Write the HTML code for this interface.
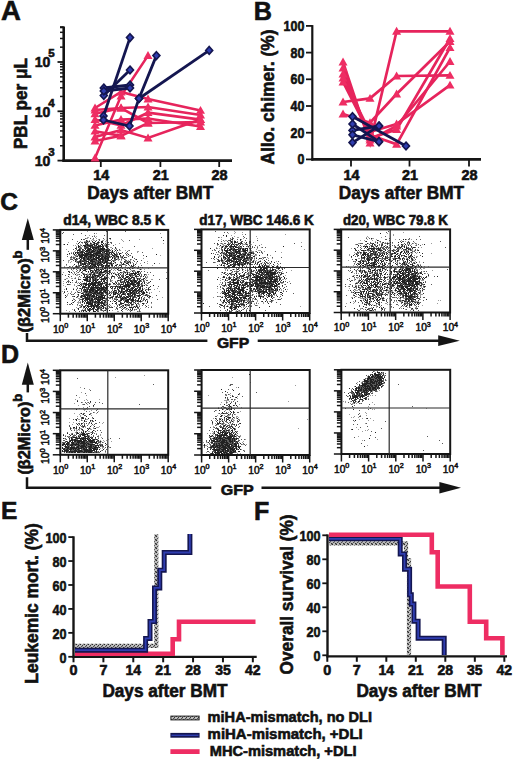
<!DOCTYPE html>
<html><head><meta charset="utf-8"><style>
html,body{margin:0;padding:0;background:#fff;}
svg{display:block;font-family:'Liberation Sans',sans-serif;}
</style></head><body>
<svg width="520" height="763" viewBox="0 0 520 763">
<rect width="520" height="763" fill="#fff"/>
<defs><filter id="bl" x="-5%" y="-5%" width="110%" height="110%"><feGaussianBlur stdDeviation="0.45"/></filter></defs>
<text x="1" y="20.4" font-size="27.5" font-weight="bold" text-anchor="start" fill="#111" stroke="#111" stroke-width="0.6" >A</text>
<text x="253.8" y="20" font-size="25.2" font-weight="bold" text-anchor="start" fill="#111" stroke="#111" stroke-width="0.6" >B</text>
<text x="0.3" y="210.3" font-size="24.5" font-weight="bold" text-anchor="start" fill="#111" stroke="#111" stroke-width="0.6" >C</text>
<text x="1" y="363" font-size="25" font-weight="bold" text-anchor="start" fill="#111" stroke="#111" stroke-width="0.6" >D</text>
<text x="1" y="519" font-size="24.5" font-weight="bold" text-anchor="start" fill="#111" stroke="#111" stroke-width="0.6" >E</text>
<text x="254" y="520" font-size="25" font-weight="bold" text-anchor="start" fill="#111" stroke="#111" stroke-width="0.6" >F</text>
<line x1="63.70" y1="26.50" x2="63.70" y2="161.80" stroke="#151515" stroke-width="2.6" />
<line x1="62.40" y1="160.60" x2="232.00" y2="160.60" stroke="#151515" stroke-width="2.6" />
<line x1="57.50" y1="160.60" x2="63.70" y2="160.60" stroke="#151515" stroke-width="1.8" />
<line x1="60.00" y1="145.76" x2="63.70" y2="145.76" stroke="#151515" stroke-width="1.5" />
<line x1="60.00" y1="137.08" x2="63.70" y2="137.08" stroke="#151515" stroke-width="1.5" />
<line x1="60.00" y1="130.92" x2="63.70" y2="130.92" stroke="#151515" stroke-width="1.5" />
<line x1="60.00" y1="126.14" x2="63.70" y2="126.14" stroke="#151515" stroke-width="1.5" />
<line x1="60.00" y1="122.24" x2="63.70" y2="122.24" stroke="#151515" stroke-width="1.5" />
<line x1="60.00" y1="118.94" x2="63.70" y2="118.94" stroke="#151515" stroke-width="1.5" />
<line x1="60.00" y1="116.08" x2="63.70" y2="116.08" stroke="#151515" stroke-width="1.5" />
<line x1="60.00" y1="113.56" x2="63.70" y2="113.56" stroke="#151515" stroke-width="1.5" />
<line x1="57.50" y1="111.30" x2="63.70" y2="111.30" stroke="#151515" stroke-width="1.8" />
<line x1="60.00" y1="96.46" x2="63.70" y2="96.46" stroke="#151515" stroke-width="1.5" />
<line x1="60.00" y1="87.78" x2="63.70" y2="87.78" stroke="#151515" stroke-width="1.5" />
<line x1="60.00" y1="81.62" x2="63.70" y2="81.62" stroke="#151515" stroke-width="1.5" />
<line x1="60.00" y1="76.84" x2="63.70" y2="76.84" stroke="#151515" stroke-width="1.5" />
<line x1="60.00" y1="72.94" x2="63.70" y2="72.94" stroke="#151515" stroke-width="1.5" />
<line x1="60.00" y1="69.64" x2="63.70" y2="69.64" stroke="#151515" stroke-width="1.5" />
<line x1="60.00" y1="66.78" x2="63.70" y2="66.78" stroke="#151515" stroke-width="1.5" />
<line x1="60.00" y1="64.26" x2="63.70" y2="64.26" stroke="#151515" stroke-width="1.5" />
<line x1="57.50" y1="62.00" x2="63.70" y2="62.00" stroke="#151515" stroke-width="1.8" />
<line x1="60.00" y1="47.16" x2="63.70" y2="47.16" stroke="#151515" stroke-width="1.5" />
<line x1="60.00" y1="38.48" x2="63.70" y2="38.48" stroke="#151515" stroke-width="1.5" />
<line x1="60.00" y1="32.32" x2="63.70" y2="32.32" stroke="#151515" stroke-width="1.5" />
<line x1="60.00" y1="27.54" x2="63.70" y2="27.54" stroke="#151515" stroke-width="1.5" />
<line x1="60.00" y1="26.90" x2="63.70" y2="26.90" stroke="#151515" stroke-width="1.5" />
<line x1="100.80" y1="160.60" x2="100.80" y2="167.00" stroke="#151515" stroke-width="1.8" />
<text x="101.2" y="179.6" font-size="13.8" font-weight="bold" text-anchor="middle" fill="#111" stroke="#111" stroke-width="0.6" textLength="16" lengthAdjust="spacingAndGlyphs" >14</text>
<line x1="160.40" y1="160.60" x2="160.40" y2="167.00" stroke="#151515" stroke-width="1.8" />
<text x="160.8" y="179.6" font-size="13.8" font-weight="bold" text-anchor="middle" fill="#111" stroke="#111" stroke-width="0.6" textLength="16" lengthAdjust="spacingAndGlyphs" >21</text>
<line x1="219.20" y1="160.60" x2="219.20" y2="167.00" stroke="#151515" stroke-width="1.8" />
<text x="219.6" y="179.6" font-size="13.8" font-weight="bold" text-anchor="middle" fill="#111" stroke="#111" stroke-width="0.6" textLength="16" lengthAdjust="spacingAndGlyphs" >28</text>
<text x="50.4" y="67.4" font-size="15.2" font-weight="bold" text-anchor="end" fill="#111" stroke="#111" stroke-width="0.6" textLength="15.6" lengthAdjust="spacingAndGlyphs" >10</text>
<text x="48.3" y="57" font-size="11.5" font-weight="bold" text-anchor="start" fill="#111" stroke="#111" stroke-width="0.6" >5</text>
<text x="50.4" y="116.9" font-size="15.2" font-weight="bold" text-anchor="end" fill="#111" stroke="#111" stroke-width="0.6" textLength="15.6" lengthAdjust="spacingAndGlyphs" >10</text>
<text x="48.3" y="106.5" font-size="11.5" font-weight="bold" text-anchor="start" fill="#111" stroke="#111" stroke-width="0.6" >4</text>
<text x="50.4" y="166.0" font-size="15.2" font-weight="bold" text-anchor="end" fill="#111" stroke="#111" stroke-width="0.6" textLength="15.6" lengthAdjust="spacingAndGlyphs" >10</text>
<text x="48.3" y="155.6" font-size="11.5" font-weight="bold" text-anchor="start" fill="#111" stroke="#111" stroke-width="0.6" >3</text>
<text transform="translate(26.6,103.6) rotate(-90)" font-size="17.5" font-weight="bold" text-anchor="middle" fill="#111" stroke="#111" stroke-width="0.6" textLength="91" lengthAdjust="spacingAndGlyphs" >PBL per μL</text>
<text x="150.3" y="199" font-size="18" font-weight="bold" text-anchor="middle" fill="#111" stroke="#111" stroke-width="0.6" textLength="126" lengthAdjust="spacingAndGlyphs" >Days after BMT</text>
<polyline points="95.0,158.0 121.0,96.0 148.0,55.6" fill="none" stroke="#e6245c" stroke-width="2.6" stroke-linejoin="miter" />
<polyline points="95.0,108.0 121.0,92.0 148.0,99.0 200.5,110.4" fill="none" stroke="#e6245c" stroke-width="2.6" stroke-linejoin="miter" />
<polyline points="95.0,113.8 121.0,108.0 148.0,107.0 200.5,115.0" fill="none" stroke="#e6245c" stroke-width="2.6" stroke-linejoin="miter" />
<polyline points="95.0,119.6 121.0,125.4 148.0,112.7 200.5,119.6" fill="none" stroke="#e6245c" stroke-width="2.6" stroke-linejoin="miter" />
<polyline points="95.0,125.4 121.0,119.6 148.0,118.5 200.5,126.5" fill="none" stroke="#e6245c" stroke-width="2.6" stroke-linejoin="miter" />
<polyline points="95.0,131.2 121.0,135.8 148.0,123.0 200.5,122.0" fill="none" stroke="#e6245c" stroke-width="2.6" stroke-linejoin="miter" />
<polyline points="95.0,137.0 121.0,130.0 148.0,138.0 200.5,119.6" fill="none" stroke="#e6245c" stroke-width="2.6" stroke-linejoin="miter" />
<polyline points="95.0,141.0 121.0,135.8" fill="none" stroke="#e6245c" stroke-width="2.6" stroke-linejoin="miter" />
<polyline points="95.0,110.0 121.0,108.0 148.0,123.0" fill="none" stroke="#e6245c" stroke-width="2.6" stroke-linejoin="miter" />
<path d="M95.0 153.5L99.5 161.4L90.5 161.4Z" fill="#ee2d63"/>
<path d="M121.0 91.5L125.5 99.4L116.5 99.4Z" fill="#ee2d63"/>
<path d="M148.0 51.1L152.5 59.0L143.5 59.0Z" fill="#ee2d63"/>
<path d="M95.0 103.5L99.5 111.4L90.5 111.4Z" fill="#ee2d63"/>
<path d="M121.0 87.5L125.5 95.4L116.5 95.4Z" fill="#ee2d63"/>
<path d="M148.0 94.5L152.5 102.4L143.5 102.4Z" fill="#ee2d63"/>
<path d="M200.5 105.9L205.0 113.8L196.0 113.8Z" fill="#ee2d63"/>
<path d="M95.0 109.3L99.5 117.2L90.5 117.2Z" fill="#ee2d63"/>
<path d="M121.0 103.5L125.5 111.4L116.5 111.4Z" fill="#ee2d63"/>
<path d="M148.0 102.5L152.5 110.4L143.5 110.4Z" fill="#ee2d63"/>
<path d="M200.5 110.5L205.0 118.4L196.0 118.4Z" fill="#ee2d63"/>
<path d="M95.0 115.1L99.5 123.0L90.5 123.0Z" fill="#ee2d63"/>
<path d="M121.0 120.9L125.5 128.8L116.5 128.8Z" fill="#ee2d63"/>
<path d="M148.0 108.2L152.5 116.1L143.5 116.1Z" fill="#ee2d63"/>
<path d="M200.5 115.1L205.0 123.0L196.0 123.0Z" fill="#ee2d63"/>
<path d="M95.0 120.9L99.5 128.8L90.5 128.8Z" fill="#ee2d63"/>
<path d="M121.0 115.1L125.5 123.0L116.5 123.0Z" fill="#ee2d63"/>
<path d="M148.0 114.0L152.5 121.9L143.5 121.9Z" fill="#ee2d63"/>
<path d="M200.5 122.0L205.0 129.9L196.0 129.9Z" fill="#ee2d63"/>
<path d="M95.0 126.7L99.5 134.6L90.5 134.6Z" fill="#ee2d63"/>
<path d="M121.0 131.3L125.5 139.2L116.5 139.2Z" fill="#ee2d63"/>
<path d="M148.0 118.5L152.5 126.4L143.5 126.4Z" fill="#ee2d63"/>
<path d="M200.5 117.5L205.0 125.4L196.0 125.4Z" fill="#ee2d63"/>
<path d="M95.0 132.5L99.5 140.4L90.5 140.4Z" fill="#ee2d63"/>
<path d="M121.0 125.5L125.5 133.4L116.5 133.4Z" fill="#ee2d63"/>
<path d="M148.0 133.5L152.5 141.4L143.5 141.4Z" fill="#ee2d63"/>
<path d="M200.5 115.1L205.0 123.0L196.0 123.0Z" fill="#ee2d63"/>
<path d="M95.0 136.5L99.5 144.4L90.5 144.4Z" fill="#ee2d63"/>
<path d="M121.0 131.3L125.5 139.2L116.5 139.2Z" fill="#ee2d63"/>
<path d="M95.0 105.5L99.5 113.4L90.5 113.4Z" fill="#ee2d63"/>
<path d="M121.0 103.5L125.5 111.4L116.5 111.4Z" fill="#ee2d63"/>
<path d="M148.0 118.5L152.5 126.4L143.5 126.4Z" fill="#ee2d63"/>
<polyline points="103.5,116.0 130.0,37.6" fill="none" stroke="#141650" stroke-width="2.8" stroke-linejoin="miter" />
<polyline points="103.5,120.0 129.5,126.0 139.0,98.5 156.4,55.6" fill="none" stroke="#141650" stroke-width="2.8" stroke-linejoin="miter" />
<polyline points="103.8,88.0 130.0,85.0" fill="none" stroke="#141650" stroke-width="2.8" stroke-linejoin="miter" />
<polyline points="103.8,95.5 130.0,70.0" fill="none" stroke="#141650" stroke-width="2.8" stroke-linejoin="miter" />
<polyline points="103.8,91.0 130.0,88.0" fill="none" stroke="#141650" stroke-width="2.8" stroke-linejoin="miter" />
<polyline points="139.0,98.5 209.2,50.4" fill="none" stroke="#141650" stroke-width="2.8" stroke-linejoin="miter" />
<path d="M103.5 112.1L107.0 116.0L103.5 119.9L100.0 116.0Z" fill="#2f3db0" stroke="#141650" stroke-width="1.6" stroke-linejoin="miter"/>
<path d="M130.0 33.7L133.5 37.6L130.0 41.5L126.5 37.6Z" fill="#2f3db0" stroke="#141650" stroke-width="1.6" stroke-linejoin="miter"/>
<path d="M103.5 116.1L107.0 120.0L103.5 123.9L100.0 120.0Z" fill="#2f3db0" stroke="#141650" stroke-width="1.6" stroke-linejoin="miter"/>
<path d="M129.5 122.1L133.0 126.0L129.5 129.9L126.0 126.0Z" fill="#2f3db0" stroke="#141650" stroke-width="1.6" stroke-linejoin="miter"/>
<path d="M139.0 94.6L142.5 98.5L139.0 102.4L135.5 98.5Z" fill="#2f3db0" stroke="#141650" stroke-width="1.6" stroke-linejoin="miter"/>
<path d="M156.4 51.7L159.9 55.6L156.4 59.5L152.9 55.6Z" fill="#2f3db0" stroke="#141650" stroke-width="1.6" stroke-linejoin="miter"/>
<path d="M103.8 84.1L107.3 88.0L103.8 91.9L100.3 88.0Z" fill="#2f3db0" stroke="#141650" stroke-width="1.6" stroke-linejoin="miter"/>
<path d="M130.0 81.1L133.5 85.0L130.0 88.9L126.5 85.0Z" fill="#2f3db0" stroke="#141650" stroke-width="1.6" stroke-linejoin="miter"/>
<path d="M103.8 91.6L107.3 95.5L103.8 99.4L100.3 95.5Z" fill="#2f3db0" stroke="#141650" stroke-width="1.6" stroke-linejoin="miter"/>
<path d="M130.0 66.1L133.5 70.0L130.0 73.9L126.5 70.0Z" fill="#2f3db0" stroke="#141650" stroke-width="1.6" stroke-linejoin="miter"/>
<path d="M103.8 87.1L107.3 91.0L103.8 94.9L100.3 91.0Z" fill="#2f3db0" stroke="#141650" stroke-width="1.6" stroke-linejoin="miter"/>
<path d="M130.0 84.1L133.5 88.0L130.0 91.9L126.5 88.0Z" fill="#2f3db0" stroke="#141650" stroke-width="1.6" stroke-linejoin="miter"/>
<path d="M139.0 94.6L142.5 98.5L139.0 102.4L135.5 98.5Z" fill="#2f3db0" stroke="#141650" stroke-width="1.6" stroke-linejoin="miter"/>
<path d="M209.2 46.5L212.7 50.4L209.2 54.3L205.7 50.4Z" fill="#2f3db0" stroke="#141650" stroke-width="1.6" stroke-linejoin="miter"/>
<line x1="312.30" y1="25.10" x2="312.30" y2="160.60" stroke="#151515" stroke-width="2.2" />
<line x1="311.30" y1="159.40" x2="481.00" y2="159.40" stroke="#151515" stroke-width="2.6" />
<line x1="306.00" y1="159.40" x2="312.30" y2="159.40" stroke="#151515" stroke-width="1.8" />
<text x="304.3" y="164.4" font-size="14" font-weight="bold" text-anchor="end" fill="#111" stroke="#111" stroke-width="0.6" textLength="6.9" lengthAdjust="spacingAndGlyphs" >0</text>
<line x1="306.00" y1="132.70" x2="312.30" y2="132.70" stroke="#151515" stroke-width="1.8" />
<text x="304.3" y="137.70000000000002" font-size="14" font-weight="bold" text-anchor="end" fill="#111" stroke="#111" stroke-width="0.6" textLength="13.8" lengthAdjust="spacingAndGlyphs" >20</text>
<line x1="306.00" y1="106.00" x2="312.30" y2="106.00" stroke="#151515" stroke-width="1.8" />
<text x="304.3" y="111.0" font-size="14" font-weight="bold" text-anchor="end" fill="#111" stroke="#111" stroke-width="0.6" textLength="13.8" lengthAdjust="spacingAndGlyphs" >40</text>
<line x1="306.00" y1="79.30" x2="312.30" y2="79.30" stroke="#151515" stroke-width="1.8" />
<text x="304.3" y="84.30000000000001" font-size="14" font-weight="bold" text-anchor="end" fill="#111" stroke="#111" stroke-width="0.6" textLength="13.8" lengthAdjust="spacingAndGlyphs" >60</text>
<line x1="306.00" y1="52.60" x2="312.30" y2="52.60" stroke="#151515" stroke-width="1.8" />
<text x="304.3" y="57.60000000000001" font-size="14" font-weight="bold" text-anchor="end" fill="#111" stroke="#111" stroke-width="0.6" textLength="13.8" lengthAdjust="spacingAndGlyphs" >80</text>
<line x1="306.00" y1="25.90" x2="312.30" y2="25.90" stroke="#151515" stroke-width="1.8" />
<text x="304.3" y="30.900000000000006" font-size="14" font-weight="bold" text-anchor="end" fill="#111" stroke="#111" stroke-width="0.6" textLength="20.700000000000003" lengthAdjust="spacingAndGlyphs" >100</text>
<line x1="351.00" y1="159.40" x2="351.00" y2="166.50" stroke="#151515" stroke-width="1.8" />
<text x="351.4" y="180.2" font-size="13.8" font-weight="bold" text-anchor="middle" fill="#111" stroke="#111" stroke-width="0.6" textLength="16" lengthAdjust="spacingAndGlyphs" >14</text>
<line x1="409.50" y1="159.40" x2="409.50" y2="166.50" stroke="#151515" stroke-width="1.8" />
<text x="409.9" y="180.2" font-size="13.8" font-weight="bold" text-anchor="middle" fill="#111" stroke="#111" stroke-width="0.6" textLength="16" lengthAdjust="spacingAndGlyphs" >21</text>
<line x1="469.00" y1="159.40" x2="469.00" y2="166.50" stroke="#151515" stroke-width="1.8" />
<text x="469.4" y="180.2" font-size="13.8" font-weight="bold" text-anchor="middle" fill="#111" stroke="#111" stroke-width="0.6" textLength="16" lengthAdjust="spacingAndGlyphs" >28</text>
<text transform="translate(274,97) rotate(-90)" font-size="17.5" font-weight="bold" text-anchor="middle" fill="#111" stroke="#111" stroke-width="0.6" textLength="135" lengthAdjust="spacingAndGlyphs" >Allo. chimer. (%)</text>
<text x="401.4" y="198.6" font-size="18" font-weight="bold" text-anchor="middle" fill="#111" stroke="#111" stroke-width="0.6" textLength="125.4" lengthAdjust="spacingAndGlyphs" >Days after BMT</text>
<polyline points="343.0,62.0 370.0,143.0 396.6,31.3 450.0,31.3" fill="none" stroke="#e6245c" stroke-width="2.7" stroke-linejoin="miter" />
<polyline points="343.0,74.0 370.0,138.0 396.6,129.6 450.0,38.5" fill="none" stroke="#e6245c" stroke-width="2.7" stroke-linejoin="miter" />
<polyline points="343.0,82.0 370.0,135.0 396.6,144.3 450.0,47.7" fill="none" stroke="#e6245c" stroke-width="2.7" stroke-linejoin="miter" />
<polyline points="343.0,102.0 370.0,98.4 396.6,76.0 450.0,75.4" fill="none" stroke="#e6245c" stroke-width="2.7" stroke-linejoin="miter" />
<polyline points="343.0,114.0 370.0,122.7 396.6,94.0 450.0,41.5" fill="none" stroke="#e6245c" stroke-width="2.7" stroke-linejoin="miter" />
<polyline points="343.0,68.0 370.0,140.0 396.6,126.0 450.0,61.5" fill="none" stroke="#e6245c" stroke-width="2.7" stroke-linejoin="miter" />
<polyline points="343.0,78.0 370.0,132.0 396.6,124.0 450.0,85.2" fill="none" stroke="#e6245c" stroke-width="2.7" stroke-linejoin="miter" />
<path d="M343.0 57.5L347.5 65.4L338.5 65.4Z" fill="#ee2d63"/>
<path d="M370.0 138.5L374.5 146.4L365.5 146.4Z" fill="#ee2d63"/>
<path d="M396.6 26.8L401.1 34.7L392.1 34.7Z" fill="#ee2d63"/>
<path d="M450.0 26.8L454.5 34.7L445.5 34.7Z" fill="#ee2d63"/>
<path d="M343.0 69.5L347.5 77.4L338.5 77.4Z" fill="#ee2d63"/>
<path d="M370.0 133.5L374.5 141.4L365.5 141.4Z" fill="#ee2d63"/>
<path d="M396.6 125.1L401.1 133.0L392.1 133.0Z" fill="#ee2d63"/>
<path d="M450.0 34.0L454.5 41.9L445.5 41.9Z" fill="#ee2d63"/>
<path d="M343.0 77.5L347.5 85.4L338.5 85.4Z" fill="#ee2d63"/>
<path d="M370.0 130.5L374.5 138.4L365.5 138.4Z" fill="#ee2d63"/>
<path d="M396.6 139.8L401.1 147.7L392.1 147.7Z" fill="#ee2d63"/>
<path d="M450.0 43.2L454.5 51.1L445.5 51.1Z" fill="#ee2d63"/>
<path d="M343.0 97.5L347.5 105.4L338.5 105.4Z" fill="#ee2d63"/>
<path d="M370.0 93.9L374.5 101.8L365.5 101.8Z" fill="#ee2d63"/>
<path d="M396.6 71.5L401.1 79.4L392.1 79.4Z" fill="#ee2d63"/>
<path d="M450.0 70.9L454.5 78.8L445.5 78.8Z" fill="#ee2d63"/>
<path d="M343.0 109.5L347.5 117.4L338.5 117.4Z" fill="#ee2d63"/>
<path d="M370.0 118.2L374.5 126.1L365.5 126.1Z" fill="#ee2d63"/>
<path d="M396.6 89.5L401.1 97.4L392.1 97.4Z" fill="#ee2d63"/>
<path d="M450.0 37.0L454.5 44.9L445.5 44.9Z" fill="#ee2d63"/>
<path d="M343.0 63.5L347.5 71.4L338.5 71.4Z" fill="#ee2d63"/>
<path d="M370.0 135.5L374.5 143.4L365.5 143.4Z" fill="#ee2d63"/>
<path d="M396.6 121.5L401.1 129.4L392.1 129.4Z" fill="#ee2d63"/>
<path d="M450.0 57.0L454.5 64.9L445.5 64.9Z" fill="#ee2d63"/>
<path d="M343.0 73.5L347.5 81.4L338.5 81.4Z" fill="#ee2d63"/>
<path d="M370.0 127.5L374.5 135.4L365.5 135.4Z" fill="#ee2d63"/>
<path d="M396.6 119.5L401.1 127.4L392.1 127.4Z" fill="#ee2d63"/>
<path d="M450.0 80.7L454.5 88.6L445.5 88.6Z" fill="#ee2d63"/>
<polyline points="352.5,116.6 406.0,146.0" fill="none" stroke="#141650" stroke-width="2.8" stroke-linejoin="miter" />
<polyline points="352.5,130.4 379.0,126.0" fill="none" stroke="#141650" stroke-width="2.8" stroke-linejoin="miter" />
<polyline points="352.5,142.6 379.0,126.0" fill="none" stroke="#141650" stroke-width="2.8" stroke-linejoin="miter" />
<polyline points="352.5,134.8 379.0,141.7" fill="none" stroke="#141650" stroke-width="2.8" stroke-linejoin="miter" />
<polyline points="352.5,124.0 379.0,141.7" fill="none" stroke="#141650" stroke-width="2.8" stroke-linejoin="miter" />
<path d="M352.5 112.7L356.0 116.6L352.5 120.5L349.0 116.6Z" fill="#2f3db0" stroke="#141650" stroke-width="1.6" stroke-linejoin="miter"/>
<path d="M406.0 142.1L409.5 146.0L406.0 149.9L402.5 146.0Z" fill="#2f3db0" stroke="#141650" stroke-width="1.6" stroke-linejoin="miter"/>
<path d="M352.5 126.5L356.0 130.4L352.5 134.3L349.0 130.4Z" fill="#2f3db0" stroke="#141650" stroke-width="1.6" stroke-linejoin="miter"/>
<path d="M379.0 122.1L382.5 126.0L379.0 129.9L375.5 126.0Z" fill="#2f3db0" stroke="#141650" stroke-width="1.6" stroke-linejoin="miter"/>
<path d="M352.5 138.7L356.0 142.6L352.5 146.5L349.0 142.6Z" fill="#2f3db0" stroke="#141650" stroke-width="1.6" stroke-linejoin="miter"/>
<path d="M379.0 122.1L382.5 126.0L379.0 129.9L375.5 126.0Z" fill="#2f3db0" stroke="#141650" stroke-width="1.6" stroke-linejoin="miter"/>
<path d="M352.5 130.9L356.0 134.8L352.5 138.7L349.0 134.8Z" fill="#2f3db0" stroke="#141650" stroke-width="1.6" stroke-linejoin="miter"/>
<path d="M379.0 137.8L382.5 141.7L379.0 145.6L375.5 141.7Z" fill="#2f3db0" stroke="#141650" stroke-width="1.6" stroke-linejoin="miter"/>
<path d="M352.5 120.1L356.0 124.0L352.5 127.9L349.0 124.0Z" fill="#2f3db0" stroke="#141650" stroke-width="1.6" stroke-linejoin="miter"/>
<path d="M379.0 137.8L382.5 141.7L379.0 145.6L375.5 141.7Z" fill="#2f3db0" stroke="#141650" stroke-width="1.6" stroke-linejoin="miter"/>
<path d="M110 238h1m-30 1h1m4 1h1m76 0h1m-77 1h1m1 0h1m2 0h1m2 0h1m5 0h1m0 0h1m-24 1h1m4 0h1m1 0h1m6 0h1m0 0h1m2 0h1m0 0h1m2 0h1m0 0h1m-25 1h1m6 0h1m1 0h1m2 0h1m3 0h1m1 0h1m6 0h1m-40 1h1m2 0h1m18 0h1m0 0h1m5 0h1m0 0h1m1 0h1m0 0h1m3 0h1m0 0h1m3 0h1m-29 1h1m4 0h1m0 0h1m0 0h1m1 0h1m0 0h1m0 0h1m0 0h1m0 0h1m0 0h1m1 0h1m1 0h1m1 0h1m1 0h1m1 0h1m3 0h1m-29 1h1m0 0h1m4 0h1m0 0h1m3 0h1m0 0h1m1 0h1m4 0h1m0 0h1m0 0h1m0 0h1m0 0h1m1 0h1m2 0h1m-29 1h1m7 0h1m0 0h1m2 0h1m1 0h1m0 0h1m0 0h1m0 0h1m0 0h1m0 0h1m0 0h1m3 0h1m3 0h1m0 0h1m7 0h1m-41 1h1m9 0h1m2 0h1m0 0h1m0 0h1m1 0h1m0 0h1m1 0h1m0 0h1m1 0h1m1 0h1m0 0h1m0 0h1m0 0h1m0 0h1m-26 1h1m2 0h1m2 0h1m1 0h1m0 0h1m0 0h1m0 0h1m0 0h1m1 0h1m0 0h1m3 0h1m0 0h1m0 0h1m0 0h1m0 0h1m0 0h1m0 0h1m1 0h1m2 0h1m-33 1h1m0 0h1m0 0h1m4 0h1m1 0h1m0 0h1m0 0h1m0 0h1m2 0h1m0 0h1m1 0h1m1 0h1m1 0h1m0 0h1m1 0h1m0 0h1m2 0h1m0 0h1m0 0h1m3 0h1m2 0h1m1 0h1m-37 1h1m0 0h1m2 0h1m0 0h1m0 0h1m1 0h1m1 0h1m0 0h1m0 0h1m0 0h1m2 0h1m0 0h1m0 0h1m0 0h1m0 0h1m2 0h1m0 0h1m0 0h1m0 0h1m0 0h1m3 0h1m-38 1h1m1 0h1m0 0h1m1 0h1m0 0h1m0 0h1m1 0h1m3 0h1m0 0h1m0 0h1m0 0h1m0 0h1m3 0h1m0 0h1m0 0h1m0 0h1m0 0h1m1 0h1m1 0h1m1 0h1m2 0h1m0 0h1m1 0h1m-44 1h1m3 0h1m1 0h1m1 0h1m4 0h1m1 0h1m0 0h1m0 0h1m0 0h1m0 0h1m1 0h1m2 0h1m0 0h1m0 0h1m0 0h1m0 0h1m0 0h1m0 0h1m0 0h1m4 0h1m0 0h1m0 0h1m1 0h1m1 0h1m2 0h1m4 0h1m0 0h1m-54 1h1m6 0h1m3 0h1m0 0h1m1 0h1m0 0h1m0 0h1m1 0h1m0 0h1m0 0h1m0 0h1m0 0h1m0 0h1m0 0h1m0 0h1m0 0h1m1 0h1m0 0h1m0 0h1m3 0h1m0 0h1m3 0h1m0 0h1m0 0h1m5 0h1m0 0h1m3 0h1m8 0h1m27 0h1m-78 1h1m0 0h1m0 0h1m0 0h1m0 0h1m0 0h1m0 0h1m0 0h1m0 0h1m2 0h1m0 0h1m0 0h1m0 0h1m0 0h1m1 0h1m0 0h1m0 0h1m0 0h1m1 0h1m0 0h1m2 0h1m2 0h1m3 0h1m0 0h1m2 0h1m3 0h1m2 0h1m-47 1h1m1 0h1m0 0h1m0 0h1m0 0h1m1 0h1m0 0h1m0 0h1m1 0h1m0 0h1m0 0h1m0 0h1m1 0h1m0 0h1m1 0h1m1 0h1m0 0h1m0 0h1m1 0h1m0 0h1m1 0h1m0 0h1m0 0h1m1 0h1m1 0h1m2 0h1m1 0h1m0 0h1m0 0h1m27 0h1m-67 1h1m0 0h1m1 0h1m0 0h1m1 0h1m1 0h1m1 0h1m0 0h1m1 0h1m1 0h1m0 0h1m0 0h1m0 0h1m0 0h1m1 0h1m0 0h1m1 0h1m0 0h1m1 0h1m0 0h1m3 0h1m5 0h1m3 0h1m1 0h1m7 0h1m-57 1h1m2 0h1m1 0h1m1 0h1m0 0h1m2 0h1m0 0h1m1 0h1m2 0h1m0 0h1m1 0h1m0 0h1m0 0h1m1 0h1m0 0h1m0 0h1m1 0h1m0 0h1m0 0h1m0 0h1m0 0h1m3 0h1m1 0h1m-40 1h1m4 0h1m2 0h1m0 0h1m2 0h1m0 0h1m0 0h1m1 0h1m0 0h1m0 0h1m0 0h1m0 0h1m0 0h1m1 0h1m0 0h1m0 0h1m0 0h1m0 0h1m0 0h1m1 0h1m1 0h1m0 0h1m2 0h1m4 0h1m19 0h1m-57 1h1m3 0h1m0 0h1m4 0h1m0 0h1m0 0h1m3 0h1m2 0h1m0 0h1m1 0h1m0 0h1m1 0h1m1 0h1m0 0h1m0 0h1m-35 1h1m3 0h1m0 0h1m1 0h1m0 0h1m2 0h1m0 0h1m0 0h1m1 0h1m0 0h1m0 0h1m0 0h1m0 0h1m3 0h1m1 0h1m1 0h1m2 0h1m0 0h1m0 0h1m3 0h1m1 0h1m10 0h1m4 0h1m7 0h1m-60 1h1m1 0h1m3 0h1m3 0h1m0 0h1m2 0h1m2 0h1m2 0h1m0 0h1m0 0h1m1 0h1m1 0h1m0 0h1m0 0h1m8 0h1m12 0h1m1 0h1m-53 1h1m1 0h1m1 0h1m1 0h1m0 0h1m3 0h1m0 0h1m0 0h1m0 0h1m2 0h1m1 0h1m0 0h1m1 0h1m2 0h1m0 0h1m4 0h1m0 0h1m0 0h1m1 0h1m9 0h1m2 0h1m0 0h1m26 0h1m-81 1h1m7 0h1m0 0h1m0 0h1m0 0h1m3 0h1m1 0h1m0 0h1m0 0h1m0 0h1m0 0h1m1 0h1m1 0h1m1 0h1m0 0h1m3 0h1m4 0h1m5 0h1m4 0h1m0 0h1m4 0h1m6 0h1m-56 1h1m5 0h1m3 0h1m2 0h1m0 0h1m0 0h1m1 0h1m0 0h1m2 0h1m1 0h1m1 0h1m0 0h1m1 0h1m0 0h1m1 0h1m0 0h1m2 0h1m0 0h1m2 0h1m11 0h1m1 0h1m-58 1h1m5 0h1m0 0h1m1 0h1m3 0h1m0 0h1m1 0h1m1 0h1m0 0h1m0 0h1m1 0h1m3 0h1m0 0h1m1 0h1m2 0h1m12 0h1m10 0h1m-48 1h1m2 0h1m2 0h1m0 0h1m1 0h1m1 0h1m1 0h1m1 0h1m4 0h1m0 0h1m13 0h1m13 0h1m-62 1h1m7 0h1m1 0h1m0 0h1m3 0h1m0 0h1m0 0h1m0 0h1m4 0h1m5 0h1m1 0h1m0 0h1m3 0h1m8 0h1m10 0h1m2 0h1m-53 1h1m4 0h1m3 0h1m4 0h1m1 0h1m0 0h1m0 0h1m1 0h1m0 0h1m1 0h1m13 0h1m7 0h1m14 0h1m-61 1h1m2 0h1m0 0h1m0 0h1m4 0h1m0 0h1m3 0h1m0 0h1m2 0h1m1 0h1m3 0h1m0 0h1m2 0h1m10 0h1m5 0h1m-59 1h1m17 0h1m1 0h1m1 0h1m1 0h1m2 0h1m4 0h1m0 0h1m2 0h1m0 0h1m3 0h1m22 0h1m4 0h1m0 0h1m0 0h1m-71 1h1m1 0h1m9 0h1m9 0h1m0 0h1m4 0h1m1 0h1m0 0h1m0 0h1m0 0h1m0 0h1m3 0h1m1 0h1m10 0h1m4 0h1m1 0h1m7 0h1m1 0h1m0 0h1m-45 1h1m4 0h1m5 0h1m2 0h1m2 0h1m1 0h1m9 0h1m3 0h1m3 0h1m0 0h1m0 0h1m0 0h1m0 0h1m0 0h1m-62 1h1m7 0h1m2 0h1m2 0h1m0 0h1m2 0h1m0 0h1m4 0h1m0 0h1m3 0h1m10 0h1m2 0h1m1 0h1m5 0h1m0 0h1m1 0h1m4 0h1m0 0h1m1 0h1m0 0h1m5 0h1m-61 1h1m5 0h1m1 0h1m1 0h1m0 0h1m0 0h1m0 0h1m0 0h1m1 0h1m1 0h1m0 0h1m21 0h1m3 0h1m0 0h1m8 0h1m-72 1h1m15 0h1m1 0h1m0 0h1m1 0h1m2 0h1m0 0h1m1 0h1m1 0h1m0 0h1m2 0h1m10 0h1m0 0h1m9 0h1m2 0h1m0 0h1m0 0h1m1 0h1m4 0h1m0 0h1m6 0h1m-61 1h1m1 0h1m1 0h1m0 0h1m0 0h1m1 0h1m0 0h1m0 0h1m6 0h1m3 0h1m1 0h1m4 0h1m8 0h1m1 0h1m3 0h1m0 0h1m1 0h1m1 0h1m0 0h1m0 0h1m-48 1h1m0 0h1m2 0h1m1 0h1m2 0h1m7 0h1m0 0h1m0 0h1m0 0h1m17 0h1m0 0h1m2 0h1m1 0h1m3 0h1m2 0h1m6 0h1m-67 1h1m4 0h1m0 0h1m0 0h1m0 0h1m0 0h1m2 0h1m2 0h1m1 0h1m1 0h1m0 0h1m2 0h1m0 0h1m0 0h1m1 0h1m15 0h1m0 0h1m3 0h1m2 0h1m4 0h1m2 0h1m1 0h1m3 0h1m-72 1h1m11 0h1m0 0h1m0 0h1m0 0h1m1 0h1m3 0h1m0 0h1m0 0h1m1 0h1m3 0h1m2 0h1m13 0h1m1 0h1m3 0h1m3 0h1m1 0h1m0 0h1m1 0h1m0 0h1m0 0h1m4 0h1m-54 1h1m0 0h1m0 0h1m0 0h1m2 0h1m1 0h1m0 0h1m2 0h1m1 0h1m1 0h1m0 0h1m15 0h1m3 0h1m1 0h1m0 0h1m0 0h1m1 0h1m0 0h1m0 0h1m1 0h1m0 0h1m0 0h1m1 0h1m0 0h1m10 0h1m-81 1h1m20 0h1m0 0h1m1 0h1m0 0h1m0 0h1m0 0h1m0 0h1m0 0h1m2 0h1m2 0h1m0 0h1m14 0h1m3 0h1m1 0h1m0 0h1m0 0h1m1 0h1m0 0h1m1 0h1m0 0h1m1 0h1m0 0h1m0 0h1m4 0h1m-62 1h1m0 0h1m0 0h1m0 0h1m1 0h1m0 0h1m0 0h1m0 0h1m0 0h1m0 0h1m0 0h1m0 0h1m2 0h1m1 0h1m0 0h1m0 0h1m1 0h1m2 0h1m5 0h1m0 0h1m1 0h1m6 0h1m1 0h1m1 0h1m2 0h1m0 0h1m0 0h1m0 0h1m2 0h1m0 0h1m0 0h1m0 0h1m1 0h1m2 0h1m-78 1h1m12 0h1m4 0h1m0 0h1m0 0h1m0 0h1m1 0h1m0 0h1m0 0h1m0 0h1m0 0h1m0 0h1m2 0h1m0 0h1m0 0h1m0 0h1m4 0h1m2 0h1m11 0h1m0 0h1m2 0h1m0 0h1m0 0h1m0 0h1m1 0h1m0 0h1m0 0h1m0 0h1m0 0h1m0 0h1m2 0h1m-60 1h1m1 0h1m3 0h1m0 0h1m1 0h1m0 0h1m0 0h1m1 0h1m0 0h1m0 0h1m0 0h1m0 0h1m0 0h1m1 0h1m1 0h1m3 0h1m0 0h1m13 0h1m3 0h1m0 0h1m0 0h1m0 0h1m0 0h1m0 0h1m3 0h1m3 0h1m0 0h1m0 0h1m2 0h1m1 0h1m8 0h1m-71 1h1m0 0h1m3 0h1m0 0h1m1 0h1m1 0h1m1 0h1m4 0h1m0 0h1m1 0h1m2 0h1m0 0h1m3 0h1m3 0h1m0 0h1m0 0h1m1 0h1m0 0h1m1 0h1m0 0h1m0 0h1m0 0h1m0 0h1m0 0h1m0 0h1m0 0h1m3 0h1m1 0h1m0 0h1m1 0h1m3 0h1m7 0h1m-69 1h1m0 0h1m0 0h1m0 0h1m0 0h1m1 0h1m2 0h1m0 0h1m0 0h1m0 0h1m0 0h1m0 0h1m0 0h1m0 0h1m0 0h1m1 0h1m0 0h1m0 0h1m0 0h1m0 0h1m0 0h1m0 0h1m2 0h1m1 0h1m2 0h1m3 0h1m0 0h1m1 0h1m3 0h1m1 0h1m0 0h1m2 0h1m1 0h1m4 0h1m0 0h1m-75 1h1m13 0h1m1 0h1m5 0h1m1 0h1m0 0h1m0 0h1m0 0h1m2 0h1m0 0h1m1 0h1m0 0h1m0 0h1m0 0h1m0 0h1m1 0h1m0 0h1m0 0h1m3 0h1m2 0h1m2 0h1m1 0h1m1 0h1m0 0h1m0 0h1m0 0h1m6 0h1m0 0h1m0 0h1m1 0h1m1 0h1m1 0h1m0 0h1m1 0h1m5 0h1m-83 1h1m6 0h1m7 0h1m2 0h1m0 0h1m1 0h1m1 0h1m0 0h1m0 0h1m0 0h1m0 0h1m0 0h1m2 0h1m0 0h1m0 0h1m1 0h1m0 0h1m0 0h1m0 0h1m1 0h1m11 0h1m2 0h1m2 0h1m2 0h1m0 0h1m0 0h1m2 0h1m1 0h1m0 0h1m0 0h1m1 0h1m0 0h1m2 0h1m5 0h1m-66 1h1m1 0h1m1 0h1m1 0h1m0 0h1m0 0h1m0 0h1m0 0h1m1 0h1m0 0h1m0 0h1m0 0h1m1 0h1m0 0h1m2 0h1m0 0h1m8 0h1m0 0h1m2 0h1m2 0h1m3 0h1m0 0h1m0 0h1m1 0h1m0 0h1m0 0h1m1 0h1m0 0h1m0 0h1m1 0h1m0 0h1m2 0h1m0 0h1m2 0h1m-62 1h1m0 0h1m0 0h1m0 0h1m1 0h1m0 0h1m1 0h1m0 0h1m1 0h1m0 0h1m0 0h1m2 0h1m2 0h1m0 0h1m0 0h1m7 0h1m5 0h1m1 0h1m1 0h1m0 0h1m3 0h1m0 0h1m0 0h1m1 0h1m0 0h1m2 0h1m2 0h1m0 0h1m0 0h1m1 0h1m-80 1h1m13 0h1m7 0h1m2 0h1m0 0h1m0 0h1m2 0h1m0 0h1m0 0h1m0 0h1m1 0h1m0 0h1m0 0h1m0 0h1m2 0h1m0 0h1m0 0h1m5 0h1m1 0h1m0 0h1m1 0h1m1 0h1m0 0h1m1 0h1m2 0h1m3 0h1m0 0h1m0 0h1m1 0h1m1 0h1m1 0h1m4 0h1m0 0h1m1 0h1m-66 1h1m0 0h1m5 0h1m3 0h1m0 0h1m0 0h1m0 0h1m1 0h1m0 0h1m0 0h1m1 0h1m0 0h1m6 0h1m3 0h1m1 0h1m1 0h1m2 0h1m2 0h1m3 0h1m0 0h1m1 0h1m0 0h1m1 0h1m0 0h1m2 0h1m4 0h1m0 0h1m0 0h1m-67 1h1m4 0h1m1 0h1m0 0h1m0 0h1m0 0h1m1 0h1m0 0h1m1 0h1m2 0h1m3 0h1m0 0h1m5 0h1m5 0h1m0 0h1m0 0h1m2 0h1m3 0h1m0 0h1m0 0h1m2 0h1m0 0h1m1 0h1m1 0h1m1 0h1m0 0h1m5 0h1m4 0h1m-82 1h1m15 0h1m0 0h1m1 0h1m1 0h1m0 0h1m0 0h1m0 0h1m0 0h1m1 0h1m0 0h1m0 0h1m1 0h1m0 0h1m3 0h1m0 0h1m0 0h1m1 0h1m4 0h1m6 0h1m1 0h1m1 0h1m6 0h1m2 0h1m0 0h1m1 0h1m2 0h1m0 0h1m0 0h1m0 0h1m4 0h1m-72 1h1m2 0h1m3 0h1m1 0h1m0 0h1m0 0h1m1 0h1m1 0h1m1 0h1m0 0h1m0 0h1m0 0h1m1 0h1m1 0h1m0 0h1m0 0h1m0 0h1m0 0h1m1 0h1m8 0h1m2 0h1m0 0h1m2 0h1m0 0h1m4 0h1m0 0h1m1 0h1m0 0h1m3 0h1m3 0h1m8 0h1m1 0h1m0 0h1m-86 1h1m15 0h1m3 0h1m0 0h1m0 0h1m1 0h1m3 0h1m2 0h1m0 0h1m0 0h1m0 0h1m0 0h1m0 0h1m0 0h1m0 0h1m0 0h1m5 0h1m0 0h1m0 0h1m3 0h1m1 0h1m1 0h1m1 0h1m1 0h1m0 0h1m1 0h1m0 0h1m1 0h1m2 0h1m5 0h1m1 0h1m-59 1h1m1 0h1m0 0h1m0 0h1m0 0h1m0 0h1m1 0h1m0 0h1m1 0h1m0 0h1m0 0h1m1 0h1m1 0h1m1 0h1m0 0h1m0 0h1m16 0h1m0 0h1m0 0h1m1 0h1m0 0h1m2 0h1m0 0h1m1 0h1m5 0h1m0 0h1m-58 1h1m2 0h1m0 0h1m0 0h1m0 0h1m0 0h1m1 0h1m0 0h1m1 0h1m1 0h1m0 0h1m0 0h1m0 0h1m0 0h1m0 0h1m0 0h1m14 0h1m3 0h1m0 0h1m4 0h1m0 0h1m0 0h1m1 0h1m0 0h1m0 0h1m1 0h1m2 0h1m7 0h1m-75 1h1m9 0h1m1 0h1m2 0h1m1 0h1m0 0h1m0 0h1m0 0h1m4 0h1m0 0h1m0 0h1m0 0h1m2 0h1m0 0h1m15 0h1m0 0h1m3 0h1m0 0h1m0 0h1m0 0h1m2 0h1m0 0h1m0 0h1m3 0h1m0 0h1m1 0h1m4 0h1m-64 1h1m2 0h1m1 0h1m2 0h1m1 0h1m2 0h1m0 0h1m1 0h1m0 0h1m1 0h1m3 0h1m4 0h1m3 0h1m0 0h1m3 0h1m5 0h1m0 0h1m0 0h1m0 0h1m3 0h1m2 0h1m1 0h1m1 0h1m0 0h1m6 0h1m-81 1h1m5 0h1m8 0h1m3 0h1m0 0h1m0 0h1m0 0h1m0 0h1m1 0h1m1 0h1m0 0h1m1 0h1m0 0h1m0 0h1m0 0h1m0 0h1m0 0h1m1 0h1m11 0h1m3 0h1m3 0h1m2 0h1m1 0h1m1 0h1m15 0h1m-77 1h1m12 0h1m1 0h1m0 0h1m0 0h1m0 0h1m0 0h1m0 0h1m0 0h1m5 0h1m2 0h1m0 0h1m0 0h1m3 0h1m4 0h1m2 0h1m4 0h1m0 0h1m0 0h1m0 0h1m6 0h1m4 0h1m6 0h1m0 0h1m-56 1h1m0 0h1m0 0h1m0 0h1m0 0h1m1 0h1m0 0h1m1 0h1m0 0h1m0 0h1m3 0h1m0 0h1m14 0h1m5 0h1m5 0h1m0 0h1m3 0h1m-52 1h1m1 0h1m3 0h1m0 0h1m0 0h1m1 0h1m0 0h1m0 0h1m0 0h1m2 0h1m0 0h1m1 0h1m0 0h1m13 0h1m3 0h1m1 0h1m2 0h1m7 0h1m-56 1h1m1 0h1m0 0h1m2 0h1m0 0h1m0 0h1m0 0h1m0 0h1m1 0h1m0 0h1m1 0h1m0 0h1m1 0h1m2 0h1m0 0h1m17 0h1m12 0h1m1 0h1m9 0h1m-63 1h1m1 0h1m1 0h1m2 0h1m1 0h1m0 0h1m1 0h1m1 0h1m2 0h1m1 0h1m8 0h1m11 0h1m0 0h1m3 0h1m0 0h1m0 0h1m1 0h1m1 0h1m1 0h1m-60 1h1m6 0h1m1 0h1m1 0h1m0 0h1m1 0h1m0 0h1m3 0h1m0 0h1m4 0h1m1 0h1m26 0h1m-55 1h1m9 0h1m0 0h1m1 0h1m1 0h1m1 0h1m1 0h1m3 0h1m20 0h1m5 0h1m1 0h1m1 0h1m-59 1h1m8 0h1m1 0h1m2 0h1m0 0h1m3 0h1m2 0h1m8 0h1m3 0h1m11 0h1m9 0h1m-53 1h1m3 0h1m2 0h1m2 0h1m3 0h1m0 0h1m0 0h1" stroke="#222222" stroke-width="1" transform="translate(0,0.5)"/>
<path d="M106 231h1m18 0h1m-63 1h1m-2 1h1m18 0h1m12 0h1m-22 1h1m11 1h1m18 0h1m-13 1h1m1 0h1m66 1h1m-77 1h1m4 0h1m2 0h1m9 0h1m5 0h1m-38 1h1m10 0h1m0 0h1m14 0h1m-4 1h1m2 0h1m29 0h1m-53 1h1m8 0h1m11 0h1m-18 1h1m0 0h1m2 0h1m13 0h1m7 0h1m0 0h1m1 0h1m0 0h1m-21 1h1m3 0h1m1 0h1m0 0h1m6 0h1m5 0h1m-27 1h1m2 0h1m1 0h1m0 0h1m0 0h1m15 0h1m-28 1h1m4 0h1m8 0h1m3 0h1m5 0h1m7 0h1m-28 1h1m0 0h1m0 0h1m2 0h1m1 0h1m0 0h1m0 0h1m0 0h1m5 0h1m2 0h1m28 0h1m-59 1h1m3 0h1m3 0h1m0 0h1m2 0h1m2 0h1m7 0h1m0 0h1m2 0h1m-28 1h1m2 0h1m0 0h1m0 0h1m2 0h1m1 0h1m0 0h1m6 0h1m2 0h1m1 0h1m8 0h1m3 0h1m2 0h1m-43 1h1m2 0h1m1 0h1m1 0h1m2 0h1m11 0h1m0 0h1m0 0h1m7 0h1m2 0h1m7 0h1m2 0h1m-40 1h1m1 0h1m0 0h1m6 0h1m0 0h1m2 0h1m1 0h1m1 0h1m2 0h1m2 0h1m0 0h1m3 0h1m0 0h1m18 0h1m-62 1h1m8 0h1m1 0h1m0 0h1m2 0h1m4 0h1m1 0h1m4 0h1m0 0h1m5 0h1m0 0h1m10 0h1m12 0h1m-55 1h1m2 0h1m2 0h1m3 0h1m2 0h1m0 0h1m5 0h1m0 0h1m0 0h1m7 0h1m4 0h1m2 0h1m1 0h1m2 0h1m1 0h1m3 0h1m3 0h1m15 0h1m-72 1h1m6 0h1m0 0h1m0 0h1m0 0h1m7 0h1m1 0h1m9 0h1m0 0h1m0 0h1m0 0h1m3 0h1m4 0h1m2 0h1m8 0h1m1 0h1m3 0h1m-56 1h1m3 0h1m3 0h1m9 0h1m3 0h1m0 0h1m0 0h1m2 0h1m0 0h1m0 0h1m3 0h1m1 0h1m0 0h1m3 0h1m0 0h1m8 0h1m-52 1h1m2 0h1m9 0h1m0 0h1m5 0h1m4 0h1m2 0h1m0 0h1m1 0h1m2 0h1m4 0h1m0 0h1m14 0h1m12 0h1m-77 1h1m3 0h1m4 0h1m10 0h1m4 0h1m2 0h1m5 0h1m2 0h1m3 0h1m4 0h1m6 0h1m1 0h1m5 0h1m3 0h1m-63 1h1m0 0h1m1 0h1m0 0h1m4 0h1m2 0h1m2 0h1m1 0h1m1 0h1m2 0h1m10 0h1m2 0h1m2 0h1m0 0h1m3 0h1m0 0h1m5 0h1m3 0h1m0 0h1m-54 1h1m0 0h1m7 0h1m2 0h1m0 0h1m2 0h1m1 0h1m0 0h1m2 0h1m3 0h1m3 0h1m11 0h1m2 0h1m4 0h1m10 0h1m-65 1h1m0 0h1m0 0h1m3 0h1m0 0h1m3 0h1m3 0h1m0 0h1m3 0h1m13 0h1m1 0h1m7 0h1m0 0h1m3 0h1m1 0h1m2 0h1m5 0h1m-68 1h1m9 0h1m1 0h1m0 0h1m4 0h1m0 0h1m0 0h1m2 0h1m1 0h1m0 0h1m3 0h1m0 0h1m0 0h1m1 0h1m0 0h1m5 0h1m1 0h1m3 0h1m1 0h1m0 0h1m0 0h1m0 0h1m9 0h1m0 0h1m6 0h1m7 0h1m-65 1h1m0 0h1m2 0h1m2 0h1m0 0h1m9 0h1m0 0h1m0 0h1m1 0h1m1 0h1m1 0h1m0 0h1m20 0h1m1 0h1m6 0h1m-58 1h1m1 0h1m1 0h1m3 0h1m0 0h1m3 0h1m0 0h1m1 0h1m0 0h1m1 0h1m0 0h1m3 0h1m1 0h1m4 0h1m1 0h1m0 0h1m8 0h1m0 0h1m2 0h1m0 0h1m1 0h1m16 0h1m-64 1h1m1 0h1m2 0h1m0 0h1m0 0h1m4 0h1m0 0h1m1 0h1m2 0h1m1 0h1m4 0h1m0 0h1m0 0h1m12 0h1m8 0h1m2 0h1m-68 1h1m11 0h1m1 0h1m0 0h1m5 0h1m0 0h1m7 0h1m1 0h1m1 0h1m11 0h1m11 0h1m8 0h1m-58 1h1m1 0h1m0 0h1m1 0h1m1 0h1m1 0h1m1 0h1m0 0h1m2 0h1m0 0h1m6 0h1m0 0h1m1 0h1m17 0h1m0 0h1m4 0h1m2 0h1m11 0h1m-73 1h1m2 0h1m2 0h1m1 0h1m0 0h1m0 0h1m4 0h1m1 0h1m0 0h1m0 0h1m2 0h1m1 0h1m7 0h1m4 0h1m2 0h1m2 0h1m1 0h1m16 0h1m1 0h1m4 0h1m-71 1h1m7 0h1m0 0h1m8 0h1m2 0h1m0 0h1m2 0h1m3 0h1m4 0h1m6 0h1m0 0h1m17 0h1m1 0h1m7 0h1m1 0h1m1 0h1m-69 1h1m10 0h1m6 0h1m0 0h1m4 0h1m16 0h1m0 0h1m5 0h1m4 0h1m9 0h1m-67 1h1m4 0h1m5 0h1m1 0h1m1 0h1m3 0h1m11 0h1m8 0h1m8 0h1m9 0h1m-54 1h1m14 0h1m1 0h1m3 0h1m5 0h1m5 0h1m7 0h1m0 0h1m7 0h1m5 0h1m0 0h1m-66 1h1m6 0h1m2 0h1m2 0h1m10 0h1m2 0h1m0 0h1m0 0h1m4 0h1m2 0h1m1 0h1m14 0h1m0 0h1m16 0h1m2 0h1m-71 1h1m3 0h1m9 0h1m4 0h1m0 0h1m0 0h1m0 0h1m7 0h1m1 0h1m3 0h1m6 0h1m3 0h1m2 0h1m4 0h1m3 0h1m6 0h1m6 0h1m2 0h1m-69 1h1m0 0h1m6 0h1m0 0h1m1 0h1m2 0h1m0 0h1m0 0h1m1 0h1m0 0h1m16 0h1m0 0h1m10 0h1m7 0h1m1 0h1m-79 1h1m5 0h1m0 0h1m9 0h1m4 0h1m0 0h1m6 0h1m5 0h1m3 0h1m0 0h1m5 0h1m6 0h1m6 0h1m6 0h1m0 0h1m0 0h1m6 0h1m1 0h1m3 0h1m-81 1h1m15 0h1m5 0h1m11 0h1m6 0h1m5 0h1m3 0h1m1 0h1m0 0h1m1 0h1m0 0h1m0 0h1m7 0h1m0 0h1m0 0h1m1 0h1m0 0h1m4 0h1m2 0h1m8 0h1m-83 1h1m7 0h1m10 0h1m3 0h1m4 0h1m2 0h1m1 0h1m6 0h1m2 0h1m2 0h1m1 0h1m1 0h1m0 0h1m9 0h1m4 0h1m0 0h1m1 0h1m0 0h1m3 0h1m-62 1h1m1 0h1m3 0h1m3 0h1m0 0h1m0 0h1m0 0h1m1 0h1m1 0h1m3 0h1m8 0h1m3 0h1m0 0h1m3 0h1m1 0h1m8 0h1m1 0h1m8 0h1m-71 1h1m9 0h1m3 0h1m3 0h1m0 0h1m1 0h1m2 0h1m1 0h1m0 0h1m8 0h1m6 0h1m2 0h1m1 0h1m5 0h1m1 0h1m1 0h1m4 0h1m0 0h1m0 0h1m2 0h1m22 0h1m-102 1h1m13 0h1m0 0h1m8 0h1m2 0h1m1 0h1m1 0h1m3 0h1m3 0h1m5 0h1m9 0h1m3 0h1m0 0h1m1 0h1m2 0h1m2 0h1m7 0h1m0 0h1m16 0h1m-92 1h1m21 0h1m1 0h1m3 0h1m6 0h1m2 0h1m3 0h1m6 0h1m1 0h1m5 0h1m0 0h1m2 0h1m2 0h1m3 0h1m0 0h1m1 0h1m3 0h1m2 0h1m0 0h1m-81 1h1m0 0h1m7 0h1m5 0h1m3 0h1m5 0h1m5 0h1m1 0h1m9 0h1m4 0h1m1 0h1m4 0h1m0 0h1m9 0h1m6 0h1m0 0h1m1 0h1m0 0h1m-79 1h1m1 0h1m6 0h1m0 0h1m3 0h1m5 0h1m2 0h1m3 0h1m6 0h1m3 0h1m7 0h1m2 0h1m0 0h1m3 0h1m1 0h1m0 0h1m0 0h1m8 0h1m2 0h1m5 0h1m5 0h1m0 0h1m-71 1h1m1 0h1m14 0h1m0 0h1m1 0h1m3 0h1m2 0h1m2 0h1m8 0h1m0 0h1m8 0h1m0 0h1m4 0h1m12 0h1m-80 1h1m0 0h1m11 0h1m1 0h1m0 0h1m4 0h1m7 0h1m4 0h1m2 0h1m2 0h1m1 0h1m4 0h1m1 0h1m0 0h1m0 0h1m0 0h1m2 0h1m5 0h1m7 0h1m1 0h1m1 0h1m-64 1h1m4 0h1m14 0h1m1 0h1m2 0h1m12 0h1m6 0h1m6 0h1m1 0h1m1 0h1m0 0h1m5 0h1m4 0h1m0 0h1m-72 1h1m3 0h1m1 0h1m2 0h1m6 0h1m3 0h1m0 0h1m0 0h1m5 0h1m3 0h1m1 0h1m1 0h1m0 0h1m0 0h1m3 0h1m2 0h1m8 0h1m3 0h1m2 0h1m2 0h1m0 0h1m16 0h1m-72 1h1m1 0h1m0 0h1m9 0h1m16 0h1m0 0h1m2 0h1m2 0h1m0 0h1m5 0h1m1 0h1m3 0h1m0 0h1m7 0h1m2 0h1m-73 1h1m1 0h1m4 0h1m1 0h1m0 0h1m6 0h1m0 0h1m2 0h1m5 0h1m7 0h1m2 0h1m10 0h1m0 0h1m0 0h1m1 0h1m5 0h1m-61 1h1m6 0h1m2 0h1m1 0h1m6 0h1m4 0h1m4 0h1m11 0h1m4 0h1m0 0h1m2 0h1m3 0h1m0 0h1m8 0h1m5 0h1m2 0h1m0 0h1m-70 1h1m2 0h1m1 0h1m7 0h1m4 0h1m2 0h1m0 0h1m2 0h1m1 0h1m3 0h1m3 0h1m2 0h1m2 0h1m9 0h1m3 0h1m2 0h1m8 0h1m-85 1h1m2 0h1m9 0h1m3 0h1m6 0h1m2 0h1m2 0h1m4 0h1m1 0h1m5 0h1m1 0h1m1 0h1m2 0h1m1 0h1m1 0h1m1 0h1m1 0h1m2 0h1m0 0h1m0 0h1m6 0h1m0 0h1m1 0h1m8 0h1m-72 1h1m3 0h1m3 0h1m0 0h1m0 0h1m1 0h1m0 0h1m3 0h1m0 0h1m4 0h1m4 0h1m0 0h1m4 0h1m0 0h1m3 0h1m7 0h1m1 0h1m4 0h1m3 0h1m1 0h1m3 0h1m1 0h1m0 0h1m4 0h1m-78 1h1m3 0h1m8 0h1m1 0h1m0 0h1m0 0h1m1 0h1m0 0h1m0 0h1m4 0h1m3 0h1m2 0h1m1 0h1m0 0h1m0 0h1m3 0h1m2 0h1m1 0h1m5 0h1m1 0h1m0 0h1m3 0h1m2 0h1m2 0h1m0 0h1m1 0h1m0 0h1m9 0h1m-79 1h1m1 0h1m10 0h1m4 0h1m4 0h1m0 0h1m1 0h1m0 0h1m0 0h1m2 0h1m0 0h1m2 0h1m3 0h1m8 0h1m1 0h1m3 0h1m3 0h1m3 0h1m5 0h1m2 0h1m0 0h1m-66 1h1m4 0h1m1 0h1m5 0h1m6 0h1m0 0h1m0 0h1m3 0h1m4 0h1m3 0h1m11 0h1m3 0h1m0 0h1m4 0h1m0 0h1m9 0h1m0 0h1m0 0h1m7 0h1m-91 1h1m5 0h1m0 0h1m6 0h1m1 0h1m5 0h1m1 0h1m4 0h1m11 0h1m4 0h1m2 0h1m3 0h1m3 0h1m0 0h1m3 0h1m2 0h1m0 0h1m0 0h1m1 0h1m1 0h1m1 0h1m2 0h1m-67 1h1m3 0h1m3 0h1m3 0h1m1 0h1m0 0h1m0 0h1m1 0h1m0 0h1m11 0h1m0 0h1m6 0h1m3 0h1m3 0h1m2 0h1m5 0h1m1 0h1m0 0h1m0 0h1m7 0h1m3 0h1m0 0h1m-68 1h1m1 0h1m5 0h1m6 0h1m1 0h1m1 0h1m3 0h1m0 0h1m2 0h1m0 0h1m1 0h1m1 0h1m5 0h1m3 0h1m8 0h1m7 0h1m1 0h1m-70 1h1m5 0h1m0 0h1m1 0h1m6 0h1m2 0h1m1 0h1m10 0h1m7 0h1m0 0h1m0 0h1m3 0h1m2 0h1m0 0h1m0 0h1m0 0h1m3 0h1m10 0h1m1 0h1m0 0h1m12 0h1m-83 1h1m3 0h1m5 0h1m0 0h1m6 0h1m1 0h1m6 0h1m2 0h1m2 0h1m4 0h1m2 0h1m6 0h1m6 0h1m3 0h1m0 0h1m0 0h1m6 0h1m-70 1h1m8 0h1m4 0h1m0 0h1m1 0h1m1 0h1m0 0h1m2 0h1m4 0h1m1 0h1m13 0h1m1 0h1m3 0h1m6 0h1m1 0h1m4 0h1m2 0h1m-62 1h1m3 0h1m6 0h1m1 0h1m2 0h1m8 0h1m20 0h1m1 0h1m1 0h1m2 0h1m0 0h1m16 0h1m-58 1h1m0 0h1m0 0h1m0 0h1m1 0h1m0 0h1m3 0h1m11 0h1m11 0h1m2 0h1m5 0h1m0 0h1m7 0h1m-80 1h1m1 0h1m0 0h1m1 0h1m4 0h1m3 0h1m0 0h1m18 0h1m4 0h1m2 0h1m6 0h1m3 0h1m0 0h1m4 0h1m0 0h1m1 0h1m3 0h1m9 0h1m-65 1h1m2 0h1m3 0h1m1 0h1m1 0h1m3 0h1m5 0h1m16 0h1m4 0h1m4 0h1m1 0h1m1 0h1m10 0h1m2 0h1m-61 1h1m6 0h1m2 0h1m2 0h1m10 0h1m7 0h1m5 0h1m13 0h1m1 0h1m-60 1h1m2 0h1m13 0h1m1 0h1m0 0h1m4 0h1m3 0h1m0 0h1m0 0h1m4 0h1m2 0h1m0 0h1m1 0h1m9 0h1m5 0h1m9 0h1m2 0h1m-58 1h1m4 0h1m0 0h1m1 0h1m3 0h1m9 0h1m0 0h1m5 0h1m2 0h1m11 0h1m-65 1h1m10 0h1m1 0h1m2 0h1m1 0h1m3 0h1m1 0h1m1 0h1m5 0h1m10 0h1m16 0h1m1 0h1m2 0h1m-59 1h1m0 0h1m1 0h1m5 0h1m6 0h1m3 0h1m0 0h1m1 0h1m2 0h1m31 0h1m-65 1h1m5 0h1m15 0h1m0 0h1m4 0h1m18 0h1m7 0h1m6 0h1m1 0h1" stroke="#5a5a5a" stroke-width="1" transform="translate(0,0.5)"/>
<path d="M87 231h1m8 2h1m63 0h1m-72 2h1m4 0h1m1 1h1m-10 1h1m0 0h1m6 0h1m-10 1h1m0 0h1m8 0h1m-5 1h1m0 0h1m4 0h1m5 0h1m2 0h1m2 0h1m10 0h1m17 0h1m-53 1h1m1 0h1m1 0h1m1 0h1m0 0h1m7 0h1m0 0h1m2 0h1m15 0h1m-43 1h1m3 0h1m0 0h1m2 0h1m16 0h1m17 0h1m-56 1h1m18 0h1m0 0h1m1 0h1m1 0h1m-17 1h1m5 0h1m3 0h1m6 0h1m7 0h1m5 0h1m11 0h1m43 0h1m-101 1h1m13 0h1m2 0h1m8 0h1m8 0h1m5 0h1m0 0h1m3 0h1m5 0h1m-43 1h1m1 0h1m4 0h1m22 0h1m0 0h1m-29 1h1m3 0h1m1 0h1m25 0h1m-30 1h1m1 0h1m28 0h1m0 0h1m10 0h1m-7 1h1m35 0h1m-87 1h1m44 0h1m2 0h1m-40 1h1m43 0h1m0 0h1m4 0h1m2 0h1m-55 1h1m34 0h1m1 0h1m4 0h1m20 0h1m0 0h1m-68 1h1m65 0h1m-21 1h1m3 0h1m-53 1h1m3 0h1m36 0h1m-37 1h1m1 0h1m0 0h1m39 0h1m8 0h1m0 0h1m1 0h1m30 0h1m-88 1h1m1 0h1m34 0h1m4 0h1m5 0h1m1 0h1m-52 1h1m2 0h1m37 0h1m2 0h1m0 0h1m2 0h1m-51 1h1m0 0h1m5 0h1m0 0h1m38 0h1m3 0h1m0 0h1m20 0h1m-70 1h1m42 0h1m0 0h1m6 0h1m5 0h1m3 0h1m-68 1h1m0 0h1m9 0h1m38 0h1m2 0h1m6 0h1m1 0h1m-63 1h1m2 0h1m4 0h1m37 0h1m5 0h1m5 0h1m1 0h1m1 0h1m16 0h1m-80 1h1m1 0h1m5 0h1m32 0h1m4 0h1m11 0h1m2 0h1m2 0h1m3 0h1m-25 1h1m2 0h1m12 0h1m7 0h1m3 0h1m6 0h1m11 0h1m-51 1h1m0 0h1m5 0h1m2 0h1m0 0h1m0 0h1m3 0h1m-60 1h1m6 0h1m30 0h1m2 0h1m17 0h1m8 0h1m17 0h1m-89 1h1m5 0h1m40 0h1m4 0h1m1 0h1m6 0h1m4 0h1m4 0h1m-72 1h1m2 0h1m7 0h1m2 0h1m5 0h1m16 0h1m2 0h1m8 0h1m0 0h1m2 0h1m1 0h1m1 0h1m3 0h1m-55 1h1m5 0h1m0 0h1m34 0h1m19 0h1m4 0h1m9 0h1m-82 1h1m5 0h1m5 0h1m7 0h1m11 0h1m5 0h1m8 0h1m3 0h1m5 0h1m14 0h1m1 0h1m2 0h1m-73 1h1m6 0h1m13 0h1m3 0h1m15 0h1m1 0h1m5 0h1m9 0h1m0 0h1m-60 1h1m11 0h1m13 0h1m10 0h1m15 0h1m0 0h1m2 0h1m2 0h1m0 0h1m0 0h1m-73 1h1m13 0h1m4 0h1m7 0h1m7 0h1m6 0h1m6 0h1m1 0h1m7 0h1m0 0h1m2 0h1m1 0h1m7 0h1m29 0h1m-95 1h1m1 0h1m1 0h1m7 0h1m2 0h1m1 0h1m5 0h1m6 0h1m6 0h1m4 0h1m0 0h1m5 0h1m3 0h1m3 0h1m9 0h1m-67 1h1m3 0h1m0 0h1m8 0h1m0 0h1m2 0h1m3 0h1m5 0h1m9 0h1m5 0h1m4 0h1m5 0h1m17 0h1m1 0h1m-73 1h1m0 0h1m8 0h1m1 0h1m4 0h1m13 0h1m26 0h1m11 0h1m-59 1h1m2 0h1m4 0h1m8 0h1m25 0h1m15 0h1m-79 1h1m5 0h1m2 0h1m1 0h1m27 0h1m19 0h1m11 0h1m5 0h1m0 0h1m-82 1h1m0 0h1m3 0h1m0 0h1m1 0h1m3 0h1m30 0h1m4 0h1m4 0h1m0 0h1m15 0h1m9 0h1m-83 1h1m23 0h1m18 0h1m20 0h1m3 0h1m5 0h1m6 0h1m5 0h1m0 0h1m-77 1h1m11 0h1m22 0h1m0 0h1m8 0h1m19 0h1m2 0h1m-82 1h1m5 0h1m41 0h1m9 0h1m-50 1h1m5 0h1m5 0h1m33 0h1m7 0h1m19 0h1m-84 1h1m13 0h1m4 0h1m22 0h1m4 0h1m10 0h1m20 0h1m5 0h1m-79 1h1m3 0h1m7 0h1m30 0h1m0 0h1m21 0h1m3 0h1m1 0h1m2 0h1m0 0h1m-84 1h1m10 0h1m2 0h1m31 0h1m8 0h1m24 0h1m-79 1h1m11 1h1m64 0h1m5 0h1m-76 1h1m7 0h1m38 0h1m23 0h1m12 0h1m-94 1h1m47 0h1m1 0h1m28 0h1m1 0h1m1 0h1m6 0h1m-79 1h1m1 0h1m0 0h1m60 0h1m-79 1h1m8 0h1m11 0h1m22 0h1m8 0h1m22 0h1m3 0h1m16 0h1m-89 1h1m5 0h1m2 0h1m1 0h1m28 0h1m0 0h1m36 0h1m1 0h1m-89 1h1m4 0h1m39 0h1m9 0h1m0 0h1m20 0h1m-74 1h1m4 0h1m4 0h1m30 0h1m8 0h1m27 0h1m1 0h1m-81 1h1m52 0h1m22 0h1m0 0h1m4 0h1m-72 1h1m32 0h1m-35 1h1m4 0h1m26 0h1m7 0h1m3 0h1m30 0h1m9 0h1m-90 1h1m4 0h1m0 0h1m35 0h1m0 0h1m19 0h1m7 0h1m4 0h1m-77 1h1m5 0h1m25 0h1m6 0h1m34 0h1m-42 1h1m11 0h1m0 0h1m4 0h1m17 0h1m4 0h1m-70 1h1m1 0h1m31 0h1m23 0h1m5 0h1m2 0h1m-74 1h1m4 0h1m0 0h1m0 0h1m23 0h1m2 0h1m14 0h1m13 0h1m2 0h1m1 0h1m-63 1h1m1 0h1m24 0h1m27 0h1m10 0h1m6 0h1m-66 1h1m18 0h1m12 0h1m5 0h1m3 0h1m9 0h1m0 0h1m-63 1h1m2 0h1m0 0h1m21 0h1m4 0h1m1 0h1m15 0h1m5 0h1m4 0h1m1 0h1m8 0h1m-69 1h1m19 0h1m0 0h1m6 0h1m2 0h1m2 0h1m5 0h1m1 0h1m3 0h1m2 0h1m1 0h1m1 0h1m1 0h1m15 0h1m-76 1h1m2 0h1m1 0h1m22 0h1m2 0h1m37 0h1m-69 1h1m5 0h1m17 0h1m6 0h1m12 0h1m2 0h1m2 0h1m2 0h1m6 0h1m2 0h1m-69 1h1m9 0h1m1 0h1m20 0h1m9 0h1m9 0h1m0 0h1m8 0h1m-70 1h1m20 0h1m10 0h1m1 0h1m2 0h1m8 0h1m14 0h1m1 0h1m0 0h1m1 0h1m1 0h1m-66 1h1m15 0h1m31 0h1m0 0h1m19 0h1m1 0h1" stroke="#9c9c9c" stroke-width="1" transform="translate(0,0.5)"/>
<path d="M223 235h1m2 0h1m-1 1h1m5 3h1m7 0h1m-11 1h1m0 1h1m2 0h1m0 0h1m14 0h1m-20 1h1m2 0h1m0 0h1m5 0h1m4 0h1m-30 1h1m14 0h1m5 0h1m0 0h1m1 0h1m-15 1h1m1 0h1m1 0h1m1 0h1m2 0h1m3 0h1m5 0h1m-27 1h1m7 0h1m2 0h1m2 0h1m14 0h1m-28 1h1m2 0h1m0 0h1m0 0h1m2 0h1m0 0h1m0 0h1m0 0h1m0 0h1m0 0h1m4 0h1m2 0h1m4 0h1m34 0h1m-62 1h1m7 0h1m2 0h1m1 0h1m0 0h1m0 0h1m-28 1h1m14 0h1m2 0h1m2 0h1m2 0h1m3 0h1m1 0h1m2 0h1m1 0h1m0 0h1m0 0h1m-24 1h1m2 0h1m1 0h1m0 0h1m0 0h1m1 0h1m0 0h1m0 0h1m0 0h1m0 0h1m2 0h1m1 0h1m0 0h1m1 0h1m1 0h1m2 0h1m-29 1h1m1 0h1m0 0h1m0 0h1m0 0h1m1 0h1m0 0h1m2 0h1m1 0h1m2 0h1m0 0h1m3 0h1m0 0h1m0 0h1m0 0h1m0 0h1m-30 1h1m7 0h1m0 0h1m7 0h1m0 0h1m0 0h1m0 0h1m0 0h1m3 0h1m0 0h1m0 0h1m-25 1h1m4 0h1m0 0h1m0 0h1m0 0h1m2 0h1m2 0h1m0 0h1m0 0h1m1 0h1m5 0h1m0 0h1m2 0h1m0 0h1m0 0h1m5 0h1m-47 1h1m8 0h1m2 0h1m2 0h1m2 0h1m0 0h1m0 0h1m1 0h1m0 0h1m1 0h1m1 0h1m0 0h1m0 0h1m4 0h1m5 0h1m1 0h1m-29 1h1m3 0h1m1 0h1m4 0h1m3 0h1m0 0h1m1 0h1m0 0h1m0 0h1m1 0h1m0 0h1m0 0h1m0 0h1m16 0h1m-47 1h1m4 0h1m1 0h1m0 0h1m0 0h1m0 0h1m1 0h1m0 0h1m0 0h1m1 0h1m0 0h1m0 0h1m4 0h1m3 0h1m10 0h1m-46 1h1m8 0h1m3 0h1m1 0h1m0 0h1m0 0h1m2 0h1m1 0h1m0 0h1m0 0h1m0 0h1m1 0h1m0 0h1m0 0h1m9 0h1m0 0h1m-41 1h1m3 0h1m4 0h1m0 0h1m0 0h1m2 0h1m0 0h1m2 0h1m0 0h1m0 0h1m0 0h1m2 0h1m0 0h1m0 0h1m0 0h1m0 0h1m1 0h1m1 0h1m0 0h1m1 0h1m1 0h1m-31 1h1m3 0h1m2 0h1m3 0h1m0 0h1m0 0h1m0 0h1m0 0h1m7 0h1m0 0h1m0 0h1m0 0h1m8 0h1m2 0h1m-39 1h1m5 0h1m1 0h1m3 0h1m0 0h1m0 0h1m1 0h1m0 0h1m1 0h1m0 0h1m1 0h1m0 0h1m5 0h1m0 0h1m-34 1h1m2 0h1m0 0h1m4 0h1m0 0h1m0 0h1m0 0h1m0 0h1m4 0h1m2 0h1m0 0h1m1 0h1m0 0h1m2 0h1m17 0h1m-46 1h1m5 0h1m0 0h1m2 0h1m1 0h1m0 0h1m0 0h1m1 0h1m0 0h1m0 0h1m0 0h1m1 0h1m2 0h1m0 0h1m0 0h1m0 0h1m6 0h1m6 0h1m4 0h1m5 0h1m-50 1h1m4 0h1m2 0h1m4 0h1m0 0h1m0 0h1m1 0h1m1 0h1m1 0h1m1 0h1m1 0h1m0 0h1m9 0h1m7 0h1m7 0h1m-51 1h1m0 0h1m1 0h1m5 0h1m1 0h1m1 0h1m0 0h1m0 0h1m4 0h1m0 0h1m1 0h1m2 0h1m4 0h1m1 0h1m3 0h1m8 0h1m-50 1h1m5 0h1m2 0h1m1 0h1m1 0h1m0 0h1m1 0h1m0 0h1m0 0h1m1 0h1m0 0h1m1 0h1m5 0h1m8 0h1m5 0h1m7 0h1m-53 1h1m1 0h1m4 0h1m1 0h1m2 0h1m0 0h1m3 0h1m0 0h1m2 0h1m16 0h1m2 0h1m1 0h1m-37 1h1m3 0h1m0 0h1m0 0h1m7 0h1m10 0h1m4 0h1m0 0h1m0 0h1m1 0h1m1 0h1m1 0h1m0 0h1m0 0h1m3 0h1m0 0h1m3 0h1m-52 1h1m8 0h1m0 0h1m1 0h1m0 0h1m1 0h1m16 0h1m3 0h1m2 0h1m1 0h1m3 0h1m2 0h1m1 0h1m-60 1h1m37 0h1m4 0h1m0 0h1m1 0h1m0 0h1m0 0h1m0 0h1m11 0h1m0 0h1m-47 1h1m3 0h1m4 0h1m17 0h1m1 0h1m0 0h1m0 0h1m1 0h1m5 0h1m0 0h1m8 0h1m-32 1h1m4 0h1m1 0h1m0 0h1m0 0h1m0 0h1m0 0h1m1 0h1m0 0h1m1 0h1m2 0h1m0 0h1m0 0h1m2 0h1m-25 1h1m7 0h1m1 0h1m1 0h1m1 0h1m1 0h1m1 0h1m0 0h1m-49 1h1m19 0h1m2 0h1m11 0h1m1 0h1m0 0h1m0 0h1m0 0h1m1 0h1m0 0h1m0 0h1m0 0h1m0 0h1m0 0h1m0 0h1m0 0h1m0 0h1m0 0h1m0 0h1m0 0h1m1 0h1m1 0h1m-56 1h1m4 0h1m0 0h1m4 0h1m0 0h1m7 0h1m6 0h1m4 0h1m1 0h1m3 0h1m3 0h1m0 0h1m0 0h1m1 0h1m0 0h1m0 0h1m0 0h1m0 0h1m0 0h1m5 0h1m-48 1h1m1 0h1m2 0h1m12 0h1m0 0h1m0 0h1m4 0h1m1 0h1m1 0h1m1 0h1m0 0h1m0 0h1m0 0h1m1 0h1m0 0h1m0 0h1m0 0h1m0 0h1m5 0h1m-54 1h1m6 0h1m5 0h1m2 0h1m0 0h1m4 0h1m0 0h1m2 0h1m2 0h1m0 0h1m2 0h1m0 0h1m0 0h1m1 0h1m3 0h1m0 0h1m0 0h1m0 0h1m0 0h1m-50 1h1m12 0h1m2 0h1m1 0h1m0 0h1m0 0h1m4 0h1m5 0h1m1 0h1m0 0h1m0 0h1m0 0h1m0 0h1m2 0h1m2 0h1m1 0h1m0 0h1m0 0h1m1 0h1m2 0h1m0 0h1m1 0h1m4 0h1m-61 1h1m0 0h1m4 0h1m4 0h1m2 0h1m8 0h1m0 0h1m4 0h1m0 0h1m0 0h1m0 0h1m0 0h1m0 0h1m0 0h1m0 0h1m0 0h1m0 0h1m0 0h1m1 0h1m0 0h1m0 0h1m0 0h1m1 0h1m0 0h1m0 0h1m0 0h1m0 0h1m0 0h1m4 0h1m4 0h1m-56 1h1m0 0h1m5 0h1m6 0h1m3 0h1m8 0h1m0 0h1m1 0h1m0 0h1m0 0h1m0 0h1m0 0h1m1 0h1m0 0h1m1 0h1m0 0h1m0 0h1m0 0h1m0 0h1m3 0h1m3 0h1m3 0h1m-68 1h1m7 0h1m3 0h1m1 0h1m1 0h1m0 0h1m0 0h1m0 0h1m7 0h1m6 0h1m0 0h1m2 0h1m0 0h1m0 0h1m0 0h1m0 0h1m0 0h1m0 0h1m2 0h1m0 0h1m3 0h1m0 0h1m0 0h1m0 0h1m1 0h1m0 0h1m0 0h1m0 0h1m1 0h1m-55 1h1m7 0h1m0 0h1m2 0h1m0 0h1m4 0h1m10 0h1m0 0h1m0 0h1m0 0h1m0 0h1m0 0h1m1 0h1m0 0h1m1 0h1m2 0h1m0 0h1m1 0h1m0 0h1m2 0h1m0 0h1m3 0h1m1 0h1m-52 1h1m2 0h1m3 0h1m2 0h1m2 0h1m6 0h1m2 0h1m2 0h1m2 0h1m1 0h1m2 0h1m0 0h1m2 0h1m0 0h1m0 0h1m0 0h1m0 0h1m0 0h1m0 0h1m0 0h1m0 0h1m6 0h1m-56 1h1m3 0h1m0 0h1m0 0h1m0 0h1m0 0h1m0 0h1m0 0h1m1 0h1m1 0h1m2 0h1m0 0h1m0 0h1m1 0h1m2 0h1m2 0h1m0 0h1m2 0h1m0 0h1m0 0h1m0 0h1m0 0h1m0 0h1m0 0h1m0 0h1m0 0h1m1 0h1m0 0h1m2 0h1m1 0h1m1 0h1m-48 1h1m2 0h1m0 0h1m0 0h1m0 0h1m0 0h1m0 0h1m6 0h1m0 0h1m2 0h1m4 0h1m0 0h1m0 0h1m0 0h1m1 0h1m0 0h1m0 0h1m0 0h1m0 0h1m0 0h1m0 0h1m0 0h1m0 0h1m0 0h1m0 0h1m0 0h1m0 0h1m3 0h1m0 0h1m1 0h1m0 0h1m-55 1h1m3 0h1m0 0h1m0 0h1m1 0h1m3 0h1m1 0h1m0 0h1m1 0h1m2 0h1m0 0h1m2 0h1m1 0h1m1 0h1m1 0h1m0 0h1m0 0h1m0 0h1m2 0h1m3 0h1m1 0h1m1 0h1m1 0h1m0 0h1m0 0h1m2 0h1m1 0h1m-55 1h1m3 0h1m2 0h1m2 0h1m0 0h1m1 0h1m1 0h1m2 0h1m0 0h1m0 0h1m2 0h1m0 0h1m2 0h1m0 0h1m0 0h1m1 0h1m1 0h1m0 0h1m0 0h1m0 0h1m1 0h1m0 0h1m0 0h1m5 0h1m0 0h1m0 0h1m1 0h1m0 0h1m0 0h1m5 0h1m-54 1h1m1 0h1m1 0h1m2 0h1m6 0h1m3 0h1m2 0h1m0 0h1m3 0h1m0 0h1m0 0h1m0 0h1m1 0h1m0 0h1m0 0h1m0 0h1m0 0h1m0 0h1m0 0h1m0 0h1m1 0h1m0 0h1m1 0h1m0 0h1m0 0h1m0 0h1m0 0h1m-49 1h1m1 0h1m4 0h1m0 0h1m1 0h1m0 0h1m1 0h1m0 0h1m0 0h1m0 0h1m0 0h1m4 0h1m5 0h1m0 0h1m2 0h1m0 0h1m0 0h1m0 0h1m0 0h1m1 0h1m0 0h1m0 0h1m0 0h1m0 0h1m3 0h1m2 0h1m-55 1h1m3 0h1m1 0h1m0 0h1m3 0h1m1 0h1m0 0h1m0 0h1m0 0h1m2 0h1m0 0h1m7 0h1m2 0h1m1 0h1m0 0h1m1 0h1m9 0h1m1 0h1m-44 1h1m1 0h1m1 0h1m1 0h1m3 0h1m0 0h1m0 0h1m0 0h1m0 0h1m0 0h1m3 0h1m2 0h1m2 0h1m5 0h1m0 0h1m0 0h1m1 0h1m2 0h1m0 0h1m0 0h1m0 0h1m1 0h1m0 0h1m0 0h1m1 0h1m1 0h1m1 0h1m5 0h1m-62 1h1m1 0h1m0 0h1m0 0h1m2 0h1m0 0h1m0 0h1m0 0h1m1 0h1m3 0h1m0 0h1m0 0h1m0 0h1m6 0h1m0 0h1m3 0h1m1 0h1m0 0h1m4 0h1m2 0h1m2 0h1m4 0h1m0 0h1m1 0h1m-56 1h1m1 0h1m1 0h1m1 0h1m0 0h1m2 0h1m0 0h1m1 0h1m1 0h1m1 0h1m0 0h1m1 0h1m0 0h1m1 0h1m9 0h1m0 0h1m2 0h1m0 0h1m0 0h1m0 0h1m0 0h1m0 0h1m0 0h1m0 0h1m2 0h1m2 0h1m-49 1h1m0 0h1m2 0h1m0 0h1m0 0h1m2 0h1m0 0h1m0 0h1m2 0h1m0 0h1m0 0h1m2 0h1m1 0h1m2 0h1m1 0h1m7 0h1m0 0h1m0 0h1m2 0h1m0 0h1m1 0h1m0 0h1m4 0h1m0 0h1m1 0h1m4 0h1m0 0h1m-60 1h1m0 0h1m1 0h1m0 0h1m0 0h1m0 0h1m3 0h1m0 0h1m0 0h1m2 0h1m0 0h1m0 0h1m0 0h1m0 0h1m3 0h1m0 0h1m0 0h1m0 0h1m0 0h1m8 0h1m0 0h1m2 0h1m0 0h1m3 0h1m0 0h1m0 0h1m0 0h1m2 0h1m1 0h1m6 0h1m-59 1h1m0 0h1m2 0h1m3 0h1m0 0h1m0 0h1m2 0h1m4 0h1m2 0h1m17 0h1m2 0h1m2 0h1m1 0h1m1 0h1m-49 1h1m1 0h1m1 0h1m4 0h1m0 0h1m2 0h1m0 0h1m0 0h1m0 0h1m0 0h1m3 0h1m0 0h1m0 0h1m10 0h1m4 0h1m3 0h1m13 0h1m-57 1h1m2 0h1m1 0h1m0 0h1m0 0h1m0 0h1m1 0h1m8 0h1m0 0h1m1 0h1m5 0h1m1 0h1m2 0h1m0 0h1m0 0h1m1 0h1m4 0h1m0 0h1m1 0h1m5 0h1m-56 1h1m2 0h1m1 0h1m0 0h1m1 0h1m1 0h1m1 0h1m0 0h1m0 0h1m0 0h1m1 0h1m0 0h1m0 0h1m1 0h1m0 0h1m0 0h1m4 0h1m9 0h1m6 0h1m3 0h1m-46 1h1m4 0h1m2 0h1m0 0h1m0 0h1m0 0h1m0 0h1m1 0h1m2 0h1m0 0h1m0 0h1m0 0h1m1 0h1m6 0h1m4 0h1m4 0h1m6 0h1m-44 1h1m0 0h1m0 0h1m1 0h1m0 0h1m2 0h1m1 0h1m10 0h1m15 0h1m11 0h1m-56 1h1m0 0h1m3 0h1m2 0h1m0 0h1m2 0h1m1 0h1m3 0h1m1 0h1m0 0h1m26 0h1m-48 1h1m2 0h1m3 0h1m0 0h1m0 0h1m0 0h1m0 0h1m0 0h1m0 0h1m1 0h1m1 0h1m1 0h1m9 0h1m8 0h1m2 0h1m-43 1h1m1 0h1m2 0h1m0 0h1m6 0h1m1 0h1m4 0h1m2 0h1m1 0h1m-46 1h1m27 0h1m0 0h1m2 0h1m15 0h1m16 0h1m-49 1h1m10 0h1m0 0h1m3 0h1m1 0h1m0 0h1m1 0h1m0 0h1m0 0h1m2 0h1m-26 1h1m0 0h1m1 0h1m6 0h1m2 0h1m1 0h1m2 0h1m4 0h1m-18 1h1m2 0h1m0 0h1m3 0h1m0 0h1m0 0h1m0 0h1m1 0h1m7 0h1m20 0h1m-40 1h1m0 0h1m1 0h1m0 0h1m0 0h1m0 0h1m1 0h1m20 0h1m-30 1h1m0 0h1m3 0h1m8 0h1m-18 1h1m3 0h1m2 0h1m6 1h1m7 0h1m-21 1h1m7 0h1" stroke="#222222" stroke-width="1" transform="translate(0,0.5)"/>
<path d="M215 231h1m8 1h1m2 0h1m17 2h1m-3 2h1m-26 1h1m13 0h1m11 0h1m-15 1h1m1 0h1m0 0h1m12 0h1m-16 1h1m5 0h1m-20 1h1m4 0h1m4 0h1m0 0h1m10 0h1m4 0h1m11 0h1m-37 1h1m5 0h1m2 0h1m1 0h1m4 0h1m3 0h1m0 0h1m6 0h1m-22 1h1m3 0h1m3 0h1m0 0h1m2 0h1m8 0h1m0 0h1m-37 1h1m6 0h1m2 0h1m0 0h1m2 0h1m1 0h1m3 0h1m5 0h1m1 0h1m2 0h1m3 0h1m44 0h1m-78 1h1m0 0h1m9 0h1m3 0h1m2 0h1m1 0h1m0 0h1m8 0h1m-22 1h1m3 0h1m5 0h1m0 0h1m1 0h1m15 0h1m3 0h1m-37 1h1m5 0h1m6 0h1m1 0h1m2 0h1m4 0h1m3 0h1m1 0h1m48 0h1m-81 1h1m3 0h1m0 0h1m4 0h1m6 0h1m0 0h1m1 0h1m10 0h1m1 0h1m2 0h1m4 0h1m2 0h1m-50 1h1m4 0h1m2 0h1m2 0h1m2 0h1m1 0h1m0 0h1m5 0h1m1 0h1m0 0h1m6 0h1m0 0h1m-37 1h1m6 0h1m0 0h1m9 0h1m5 0h1m0 0h1m4 0h1m-33 1h1m2 0h1m12 0h1m3 0h1m1 0h1m1 0h1m3 0h1m1 0h1m7 0h1m-29 1h1m2 0h1m4 0h1m0 0h1m1 0h1m0 0h1m5 0h1m0 0h1m0 0h1m4 0h1m8 0h1m4 0h1m13 0h1m-60 1h1m5 0h1m1 0h1m5 0h1m0 0h1m1 0h1m0 0h1m3 0h1m1 0h1m3 0h1m7 0h1m0 0h1m5 0h1m1 0h1m-49 1h1m10 0h1m0 0h1m2 0h1m3 0h1m4 0h1m4 0h1m0 0h1m0 0h1m1 0h1m1 0h1m3 0h1m9 0h1m-48 1h1m1 0h1m6 0h1m1 0h1m0 0h1m2 0h1m1 0h1m0 0h1m0 0h1m0 0h1m3 0h1m2 0h1m12 0h1m-33 1h1m1 0h1m1 0h1m4 0h1m7 0h1m0 0h1m0 0h1m0 0h1m1 0h1m0 0h1m0 0h1m19 0h1m-44 1h1m1 0h1m5 0h1m0 0h1m1 0h1m8 0h1m1 0h1m0 0h1m1 0h1m0 0h1m-24 1h1m9 0h1m5 0h1m4 0h1m3 0h1m11 0h1m0 0h1m6 0h1m8 0h1m-71 1h1m1 0h1m9 0h1m2 0h1m2 0h1m1 0h1m5 0h1m0 0h1m0 0h1m0 0h1m0 0h1m0 0h1m5 0h1m0 0h1m1 0h1m0 0h1m1 0h1m5 0h1m0 0h1m1 0h1m-50 1h1m2 0h1m0 0h1m5 0h1m0 0h1m2 0h1m1 0h1m0 0h1m4 0h1m2 0h1m5 0h1m1 0h1m0 0h1m17 0h1m-48 1h1m6 0h1m5 0h1m0 0h1m0 0h1m3 0h1m5 0h1m0 0h1m1 0h1m0 0h1m2 0h1m1 0h1m14 0h1m-52 1h1m0 0h1m2 0h1m0 0h1m4 0h1m0 0h1m5 0h1m4 0h1m12 0h1m2 0h1m3 0h1m18 0h1m-73 1h1m6 0h1m0 0h1m8 0h1m0 0h1m6 0h1m1 0h1m0 0h1m5 0h1m1 0h1m3 0h1m4 0h1m0 0h1m0 0h1m1 0h1m1 0h1m6 0h1m-43 1h1m0 0h1m4 0h1m0 0h1m4 0h1m5 0h1m0 0h1m0 0h1m0 0h1m4 0h1m0 0h1m14 0h1m0 0h1m1 0h1m0 0h1m8 0h1m2 0h1m-55 1h1m4 0h1m1 0h1m2 0h1m3 0h1m2 0h1m1 0h1m1 0h1m1 0h1m1 0h1m0 0h1m1 0h1m2 0h1m5 0h1m-47 1h1m6 0h1m4 0h1m1 0h1m3 0h1m7 0h1m21 0h1m0 0h1m10 0h1m-54 1h1m2 0h1m1 0h1m9 0h1m6 0h1m8 0h1m7 0h1m12 0h1m3 0h1m-53 1h1m2 0h1m2 0h1m13 0h1m4 0h1m6 0h1m0 0h1m4 0h1m1 0h1m0 0h1m7 0h1m1 0h1m0 0h1m-55 1h1m9 0h1m1 0h1m10 0h1m0 0h1m16 0h1m2 0h1m1 0h1m3 0h1m0 0h1m4 0h1m1 0h1m-47 1h1m8 0h1m1 0h1m1 0h1m4 0h1m1 0h1m0 0h1m1 0h1m5 0h1m2 0h1m3 0h1m0 0h1m2 0h1m-71 1h1m18 0h1m2 0h1m0 0h1m7 0h1m2 0h1m2 0h1m1 0h1m5 0h1m0 0h1m8 0h1m2 0h1m1 0h1m0 0h1m3 0h1m2 0h1m2 0h1m0 0h1m-49 1h1m1 0h1m1 0h1m0 0h1m0 0h1m8 0h1m4 0h1m0 0h1m3 0h1m0 0h1m1 0h1m3 0h1m1 0h1m1 0h1m2 0h1m2 0h1m0 0h1m0 0h1m-53 1h1m0 0h1m5 0h1m4 0h1m11 0h1m1 0h1m0 0h1m3 0h1m0 0h1m6 0h1m17 0h1m4 0h1m-60 1h1m11 0h1m7 0h1m0 0h1m3 0h1m4 0h1m1 0h1m1 0h1m1 0h1m0 0h1m4 0h1m6 0h1m0 0h1m4 0h1m0 0h1m-59 1h1m0 0h1m1 0h1m1 0h1m0 0h1m0 0h1m0 0h1m9 0h1m0 0h1m3 0h1m1 0h1m4 0h1m0 0h1m1 0h1m1 0h1m1 0h1m1 0h1m4 0h1m5 0h1m2 0h1m2 0h1m-51 1h1m5 0h1m3 0h1m0 0h1m5 0h1m6 0h1m2 0h1m6 0h1m0 0h1m0 0h1m6 0h1m1 0h1m1 0h1m-55 1h1m4 0h1m3 0h1m6 0h1m5 0h1m0 0h1m2 0h1m4 0h1m6 0h1m1 0h1m0 0h1m1 0h1m3 0h1m1 0h1m0 0h1m2 0h1m1 0h1m-62 1h1m7 0h1m1 0h1m1 0h1m2 0h1m4 0h1m0 0h1m1 0h1m2 0h1m0 0h1m17 0h1m4 0h1m7 0h1m0 0h1m3 0h1m-56 1h1m6 0h1m1 0h1m1 0h1m1 0h1m1 0h1m0 0h1m8 0h1m3 0h1m11 0h1m6 0h1m0 0h1m1 0h1m1 0h1m6 0h1m-65 1h1m5 0h1m3 0h1m5 0h1m1 0h1m4 0h1m1 0h1m1 0h1m3 0h1m8 0h1m0 0h1m2 0h1m0 0h1m0 0h1m4 0h1m6 0h1m-54 1h1m3 0h1m0 0h1m2 0h1m3 0h1m1 0h1m0 0h1m6 0h1m2 0h1m0 0h1m6 0h1m2 0h1m1 0h1m7 0h1m2 0h1m0 0h1m-49 1h1m8 0h1m3 0h1m9 0h1m1 0h1m0 0h1m1 0h1m0 0h1m1 0h1m1 0h1m0 0h1m3 0h1m9 0h1m0 0h1m1 0h1m4 0h1m-64 1h1m2 0h1m1 0h1m1 0h1m0 0h1m0 0h1m9 0h1m1 0h1m4 0h1m2 0h1m2 0h1m2 0h1m10 0h1m2 0h1m0 0h1m1 0h1m5 0h1m0 0h1m0 0h1m0 0h1m3 0h1m-66 1h1m2 0h1m3 0h1m11 0h1m2 0h1m2 0h1m2 0h1m1 0h1m0 0h1m4 0h1m13 0h1m0 0h1m16 0h1m-70 1h1m6 0h1m3 0h1m1 0h1m3 0h1m4 0h1m0 0h1m2 0h1m2 0h1m1 0h1m6 0h1m0 0h1m1 0h1m0 0h1m0 0h1m1 0h1m1 0h1m1 0h1m3 0h1m2 0h1m1 0h1m5 0h1m-64 1h1m0 0h1m1 0h1m3 0h1m6 0h1m4 0h1m3 0h1m10 0h1m4 0h1m4 0h1m0 0h1m0 0h1m0 0h1m7 0h1m-61 1h1m2 0h1m3 0h1m5 0h1m3 0h1m2 0h1m0 0h1m0 0h1m1 0h1m4 0h1m1 0h1m3 0h1m1 0h1m4 0h1m8 0h1m2 0h1m6 0h1m0 0h1m2 0h1m3 0h1m-67 1h1m10 0h1m2 0h1m23 0h1m0 0h1m5 0h1m5 0h1m7 0h1m4 0h1m-63 1h1m3 0h1m1 0h1m2 0h1m0 0h1m0 0h1m1 0h1m5 0h1m2 0h1m4 0h1m0 0h1m2 0h1m4 0h1m1 0h1m1 0h1m0 0h1m0 0h1m0 0h1m0 0h1m1 0h1m1 0h1m1 0h1m1 0h1m0 0h1m0 0h1m0 0h1m2 0h1m2 0h1m-61 1h1m0 0h1m1 0h1m4 0h1m3 0h1m1 0h1m8 0h1m4 0h1m2 0h1m0 0h1m0 0h1m0 0h1m0 0h1m5 0h1m0 0h1m4 0h1m5 0h1m-48 1h1m0 0h1m4 0h1m2 0h1m0 0h1m4 0h1m7 0h1m6 0h1m0 0h1m0 0h1m0 0h1m2 0h1m2 0h1m1 0h1m0 0h1m0 0h1m0 0h1m2 0h1m-46 1h1m2 0h1m1 0h1m1 0h1m7 0h1m2 0h1m1 0h1m0 0h1m1 0h1m2 0h1m0 0h1m9 0h1m1 0h1m0 0h1m1 0h1m2 0h1m6 0h1m2 0h1m-64 1h1m3 0h1m4 0h1m3 0h1m0 0h1m6 0h1m1 0h1m5 0h1m8 0h1m0 0h1m2 0h1m3 0h1m0 0h1m0 0h1m-48 1h1m6 0h1m11 0h1m12 0h1m4 0h1m2 0h1m9 0h1m18 0h1m-68 1h1m2 0h1m0 0h1m4 0h1m0 0h1m2 0h1m0 0h1m0 0h1m4 0h1m5 0h1m6 0h1m1 0h1m6 0h1m5 0h1m6 0h1m-56 1h1m1 0h1m1 0h1m0 0h1m0 0h1m4 0h1m5 0h1m0 0h1m0 0h1m3 0h1m2 0h1m5 0h1m10 0h1m0 0h1m0 0h1m0 0h1m3 0h1m-60 1h1m2 0h1m3 0h1m0 0h1m2 0h1m1 0h1m8 0h1m2 0h1m0 0h1m0 0h1m2 0h1m10 0h1m3 0h1m9 0h1m7 0h1m-60 1h1m7 0h1m3 0h1m8 0h1m6 0h1m1 0h1m2 0h1m8 0h1m9 0h1m-49 1h1m4 0h1m2 0h1m7 0h1m7 0h1m3 0h1m27 0h1m-62 1h1m3 0h1m1 0h1m0 0h1m4 0h1m2 0h1m2 0h1m1 0h1m0 0h1m0 0h1m1 0h1m3 0h1m6 0h1m0 0h1m6 0h1m6 0h1m8 0h1m0 0h1m-61 1h1m5 0h1m2 0h1m3 0h1m0 0h1m1 0h1m1 0h1m0 0h1m0 0h1m1 0h1m5 0h1m1 0h1m15 0h1m5 0h1m-50 1h1m5 0h1m0 0h1m9 0h1m3 0h1m2 0h1m1 0h1m1 0h1m0 0h1m8 0h1m5 0h1m2 0h1m0 0h1m-50 1h1m3 0h1m4 0h1m0 0h1m0 0h1m3 0h1m1 0h1m5 0h1m5 0h1m15 0h1m3 0h1m4 0h1m-60 1h1m8 0h1m2 0h1m3 0h1m0 0h1m3 0h1m1 0h1m0 0h1m0 0h1m0 0h1m3 0h1m0 0h1m7 0h1m-38 1h1m5 0h1m4 0h1m2 0h1m3 0h1m2 0h1m3 0h1m35 0h1m-49 1h1m8 0h1m1 0h1m5 0h1m5 0h1m0 0h1m-48 1h1m9 0h1m3 0h1m0 0h1m1 0h1m5 0h1m1 0h1m4 0h1m6 0h1m4 0h1m-32 1h1m3 0h1m4 0h1m-6 1h1m7 0h1m1 0h1m1 0h1m10 0h1m-15 1h1m1 0h1m1 0h1m5 0h1m-24 1h1m4 0h1m1 0h1m1 0h1m1 0h1m0 0h1m6 0h1m6 0h1m18 0h1m-36 1h1m0 0h1m4 0h1m3 0h1m5 0h1" stroke="#5a5a5a" stroke-width="1" transform="translate(0,0.5)"/>
<path d="M234 231h1m0 1h1m6 0h1m-15 1h1m5 0h1m7 1h1m42 0h1m-55 1h1m2 1h1m21 0h1m-38 1h1m1 0h1m15 0h1m0 0h1m4 1h1m13 0h1m-37 1h1m8 0h1m10 0h1m-17 1h1m0 0h1m5 0h1m1 0h1m-11 1h1m5 1h1m13 0h1m8 0h1m47 0h1m-82 1h1m1 0h1m6 0h1m16 0h1m-25 1h1m0 0h1m10 0h1m7 0h1m0 0h1m0 0h1m0 0h1m5 0h1m9 0h1m-45 1h1m5 0h1m0 0h1m0 0h1m16 0h1m4 0h1m-29 1h1m1 0h1m17 0h1m7 0h1m9 0h1m-42 1h1m7 0h1m4 0h1m2 0h1m7 0h1m7 0h1m12 0h1m-45 1h1m1 0h1m24 0h1m6 0h1m5 0h1m-2 1h1m47 0h1m-91 1h1m4 0h1m1 0h1m29 0h1m6 0h1m0 0h1m0 0h1m-10 1h1m0 0h1m0 0h1m1 0h1m8 0h1m-47 1h1m0 0h1m3 0h1m19 0h1m4 0h1m13 0h1m18 0h1m-61 1h1m0 0h1m24 0h1m2 0h1m3 0h1m-37 1h1m2 0h1m1 0h1m29 0h1m2 0h1m-38 1h1m29 0h1m0 0h1m0 0h1m0 0h1m1 0h1m0 0h1m0 0h1m13 0h1m-53 1h1m0 0h1m0 0h1m0 1h1m32 0h1m1 0h1m5 0h1m0 0h1m3 0h1m-52 1h1m7 0h1m2 0h1m15 0h1m24 0h1m3 0h1m-51 1h1m23 0h1m7 0h1m3 0h1m3 0h1m-43 1h1m2 0h1m0 0h1m29 0h1m1 0h1m3 0h1m-38 1h1m25 0h1m8 0h1m17 0h1m-62 1h1m13 0h1m32 0h1m4 0h1m1 0h1m1 0h1m-26 1h1m13 0h1m-42 1h1m4 0h1m31 0h1m4 0h1m7 0h1m8 0h1m-59 1h1m16 0h1m3 0h1m4 0h1m14 0h1m5 0h1m0 0h1m0 0h1m1 0h1m2 0h1m-31 1h1m5 0h1m18 0h1m8 0h1m-59 1h1m6 0h1m14 0h1m1 0h1m5 0h1m1 0h1m2 0h1m19 0h1m2 0h1m-55 1h1m0 0h1m2 0h1m0 0h1m9 0h1m1 0h1m0 0h1m2 0h1m1 0h1m33 0h1m-57 1h1m1 0h1m4 0h1m1 0h1m1 0h1m6 0h1m25 0h1m-45 1h1m10 0h1m11 0h1m28 0h1m13 0h1m-57 1h1m7 0h1m11 0h1m16 0h1m5 0h1m3 0h1m-62 1h1m10 0h1m4 0h1m8 0h1m31 0h1m1 0h1m-58 1h1m7 0h1m6 0h1m1 0h1m9 0h1m2 0h1m25 0h1m-59 1h1m24 0h1m0 0h1m-12 1h1m14 0h1m27 0h1m0 0h1m4 0h1m-49 1h1m15 0h1m-32 1h1m8 0h1m4 0h1m6 0h1m4 0h1m31 0h1m-61 1h1m6 0h1m0 0h1m9 0h1m9 0h1m29 0h1m-56 1h1m13 0h1m8 0h1m3 0h1m31 0h1m0 0h1m1 0h1m-66 1h1m5 0h1m-3 1h1m7 0h1m3 0h1m7 0h1m1 0h1m4 0h1m37 0h1m-70 1h1m29 0h1m-9 1h1m38 0h1m0 0h1m-64 1h1m7 0h1m56 0h1m-59 1h1m13 0h1m8 0h1m-27 1h1m2 0h1m18 0h1m3 0h1m27 0h1m-56 1h1m4 0h1m1 0h1m17 0h1m1 0h1m-33 1h1m2 1h1m60 0h1m5 0h1m-39 1h1m3 0h1m25 0h1m1 0h1m1 0h1m-61 1h1m29 0h1m21 0h1m2 0h1m-62 1h1m3 0h1m0 0h1m19 0h1m14 0h1m-38 1h1m21 0h1m7 0h1m-7 1h1m3 0h1m4 0h1m4 0h1m1 0h1m15 0h1m3 0h1m-31 1h1m0 0h1m4 0h1m3 0h1m0 0h1m4 0h1m0 0h1m6 0h1m-57 1h1m0 0h1m2 0h1m27 0h1m15 0h1m-54 1h1m48 0h1m11 0h1m4 0h1m-28 1h1m11 0h1m-19 1h1m0 0h1m4 0h1m1 0h1m20 0h1m1 0h1m-51 1h1m17 0h1m0 0h1m0 0h1m4 0h1m4 0h1m15 0h1m-53 1h1m6 0h1m19 0h1m8 0h1m11 0h1m2 0h1m-32 1h1m2 0h1m4 0h1m6 0h1m6 0h1m-42 1h1m0 0h1m30 0h1m3 0h1m4 0h1m-43 1h1m6 0h1m0 0h1m4 0h1m0 0h1m18 0h1m-35 1h1m6 0h1m5 0h1m1 0h1m6 0h1m8 0h1m5 0h1m-30 1h1m14 0h1m0 0h1m5 0h1m49 0h1m-69 1h1m8 0h1m1 0h1m1 0h1m-17 1h1m12 1h1m3 0h1m-11 1h1m1 0h1m-13 1h1m8 0h1m2 0h1m0 0h1" stroke="#9c9c9c" stroke-width="1" transform="translate(0,0.5)"/>
<path d="M380 233h1m-10 5h1m31 1h1m1 0h1m-29 1h1m-12 1h1m10 1h1m5 0h1m6 0h1m7 0h1m2 0h1m-35 1h1m5 0h1m13 0h1m21 0h1m-38 1h1m1 0h1m7 0h1m18 0h1m3 0h1m18 0h1m-67 1h1m18 0h1m3 0h1m20 0h1m5 0h1m-46 1h1m1 0h1m0 0h1m0 0h1m3 0h1m0 0h1m3 0h1m7 0h1m2 0h1m2 0h1m8 0h1m1 0h1m2 0h1m6 0h1m-47 1h1m1 0h1m27 0h1m4 0h1m3 0h1m1 0h1m6 0h1m0 0h1m-61 1h1m14 0h1m0 0h1m0 0h1m0 0h1m0 0h1m0 0h1m2 0h1m0 0h1m1 0h1m9 0h1m6 0h1m4 0h1m3 0h1m0 0h1m4 0h1m-58 1h1m11 0h1m0 0h1m2 0h1m1 0h1m2 0h1m1 0h1m0 0h1m25 0h1m2 0h1m1 0h1m-55 1h1m4 0h1m0 0h1m0 0h1m1 0h1m6 0h1m6 0h1m0 0h1m0 0h1m3 0h1m6 0h1m5 0h1m19 0h1m-49 1h1m0 0h1m1 0h1m2 0h1m6 0h1m9 0h1m2 0h1m0 0h1m3 0h1m2 0h1m1 0h1m1 0h1m-52 1h1m2 0h1m2 0h1m0 0h1m1 0h1m6 0h1m1 0h1m2 0h1m7 0h1m7 0h1m5 0h1m0 0h1m2 0h1m3 0h1m2 0h1m7 0h1m-57 1h1m0 0h1m0 0h1m2 0h1m2 0h1m0 0h1m2 0h1m8 0h1m2 0h1m4 0h1m1 0h1m0 0h1m1 0h1m2 0h1m2 0h1m1 0h1m3 0h1m12 0h1m-67 1h1m5 0h1m0 0h1m0 0h1m0 0h1m1 0h1m2 0h1m3 0h1m0 0h1m1 0h1m2 0h1m1 0h1m1 0h1m1 0h1m4 0h1m4 0h1m3 0h1m5 0h1m1 0h1m2 0h1m-59 1h1m4 0h1m4 0h1m1 0h1m1 0h1m0 0h1m1 0h1m8 0h1m1 0h1m0 0h1m12 0h1m2 0h1m2 0h1m2 0h1m5 0h1m0 0h1m-61 1h1m9 0h1m2 0h1m3 0h1m7 0h1m6 0h1m1 0h1m5 0h1m0 0h1m1 0h1m0 0h1m1 0h1m1 0h1m5 0h1m0 0h1m2 0h1m0 0h1m1 0h1m9 0h1m-62 1h1m1 0h1m0 0h1m2 0h1m1 0h1m0 0h1m2 0h1m0 0h1m0 0h1m0 0h1m0 0h1m0 0h1m3 0h1m2 0h1m4 0h1m7 0h1m0 0h1m8 0h1m-45 1h1m2 0h1m0 0h1m3 0h1m1 0h1m4 0h1m5 0h1m1 0h1m7 0h1m0 0h1m2 0h1m2 0h1m6 0h1m1 0h1m-57 1h1m0 0h1m10 0h1m0 0h1m0 0h1m1 0h1m2 0h1m0 0h1m2 0h1m10 0h1m3 0h1m1 0h1m6 0h1m3 0h1m0 0h1m4 0h1m-57 1h1m10 0h1m0 0h1m0 0h1m5 0h1m2 0h1m1 0h1m2 0h1m2 0h1m0 0h1m1 0h1m7 0h1m9 0h1m1 0h1m2 0h1m-55 1h1m0 0h1m0 0h1m1 0h1m0 0h1m4 0h1m5 0h1m1 0h1m4 0h1m0 0h1m8 0h1m13 0h1m1 0h1m-48 1h1m2 0h1m4 0h1m4 0h1m0 0h1m0 0h1m1 0h1m3 0h1m21 0h1m0 0h1m11 0h1m-57 1h1m1 0h1m0 0h1m2 0h1m0 0h1m0 0h1m1 0h1m0 0h1m1 0h1m0 0h1m3 0h1m1 0h1m1 0h1m1 0h1m10 0h1m6 0h1m1 0h1m9 0h1m-59 1h1m1 0h1m0 0h1m5 0h1m3 0h1m3 0h1m0 0h1m0 0h1m0 0h1m5 0h1m2 0h1m10 0h1m7 0h1m1 0h1m3 0h1m1 0h1m-53 1h1m1 0h1m0 0h1m3 0h1m0 0h1m0 0h1m0 0h1m0 0h1m0 0h1m0 0h1m0 0h1m4 0h1m3 0h1m0 0h1m7 0h1m14 0h1m0 0h1m3 0h1m0 0h1m4 0h1m-59 1h1m3 0h1m2 0h1m3 0h1m1 0h1m0 0h1m0 0h1m1 0h1m0 0h1m0 0h1m1 0h1m0 0h1m2 0h1m5 0h1m6 0h1m2 0h1m4 0h1m1 0h1m3 0h1m2 0h1m5 0h1m-63 1h1m3 0h1m23 0h1m12 0h1m0 0h1m3 0h1m0 0h1m3 0h1m0 0h1m3 0h1m-48 1h1m6 0h1m6 0h1m0 0h1m22 0h1m0 0h1m0 0h1m0 0h1m2 0h1m-59 1h1m14 0h1m0 0h1m3 0h1m5 0h1m4 0h1m8 0h1m4 0h1m0 0h1m1 0h1m1 0h1m1 0h1m0 0h1m0 0h1m0 0h1m0 0h1m3 0h1m-55 1h1m3 0h1m7 0h1m0 0h1m0 0h1m2 0h1m1 0h1m2 0h1m4 0h1m6 0h1m7 0h1m0 0h1m1 0h1m0 0h1m0 0h1m1 0h1m0 0h1m1 0h1m1 0h1m-56 1h1m2 0h1m1 0h1m3 0h1m1 0h1m4 0h1m4 0h1m10 0h1m2 0h1m0 0h1m0 0h1m2 0h1m0 0h1m0 0h1m1 0h1m1 0h1m2 0h1m1 0h1m1 0h1m1 0h1m-64 1h1m13 0h1m6 0h1m18 0h1m7 0h1m0 0h1m1 0h1m3 0h1m0 0h1m0 0h1m1 0h1m3 0h1m1 0h1m0 0h1m2 0h1m-60 1h1m5 0h1m2 0h1m4 0h1m1 0h1m2 0h1m0 0h1m3 0h1m4 0h1m6 0h1m0 0h1m1 0h1m0 0h1m0 0h1m0 0h1m1 0h1m2 0h1m0 0h1m2 0h1m0 0h1m1 0h1m0 0h1m1 0h1m1 0h1m0 0h1m-59 1h1m3 0h1m5 0h1m0 0h1m1 0h1m7 0h1m2 0h1m5 0h1m3 0h1m1 0h1m2 0h1m0 0h1m3 0h1m0 0h1m2 0h1m0 0h1m2 0h1m6 0h1m-66 1h1m3 0h1m2 0h1m0 0h1m1 0h1m1 0h1m4 0h1m1 0h1m0 0h1m2 0h1m14 0h1m3 0h1m0 0h1m0 0h1m1 0h1m1 0h1m0 0h1m1 0h1m4 0h1m0 0h1m0 0h1m12 0h1m-76 1h1m5 0h1m1 0h1m2 0h1m0 0h1m2 0h1m0 0h1m4 0h1m2 0h1m0 0h1m5 0h1m8 0h1m0 0h1m0 0h1m1 0h1m1 0h1m0 0h1m2 0h1m0 0h1m1 0h1m0 0h1m0 0h1m1 0h1m1 0h1m0 0h1m0 0h1m0 0h1m1 0h1m1 0h1m6 0h1m10 0h1m-75 1h1m6 0h1m3 0h1m4 0h1m4 0h1m0 0h1m3 0h1m2 0h1m0 0h1m0 0h1m0 0h1m1 0h1m0 0h1m0 0h1m0 0h1m1 0h1m0 0h1m0 0h1m1 0h1m1 0h1m1 0h1m0 0h1m0 0h1m0 0h1m0 0h1m3 0h1m0 0h1m3 0h1m1 0h1m-60 1h1m0 0h1m4 0h1m1 0h1m1 0h1m15 0h1m5 0h1m0 0h1m0 0h1m1 0h1m0 0h1m3 0h1m0 0h1m0 0h1m0 0h1m0 0h1m1 0h1m0 0h1m0 0h1m0 0h1m0 0h1m0 0h1m0 0h1m2 0h1m1 0h1m-64 1h1m1 0h1m1 0h1m2 0h1m0 0h1m1 0h1m0 0h1m1 0h1m0 0h1m1 0h1m3 0h1m2 0h1m5 0h1m0 0h1m1 0h1m2 0h1m2 0h1m0 0h1m0 0h1m0 0h1m1 0h1m1 0h1m1 0h1m0 0h1m0 0h1m1 0h1m0 0h1m0 0h1m0 0h1m0 0h1m0 0h1m-59 1h1m0 0h1m5 0h1m0 0h1m8 0h1m0 0h1m5 0h1m7 0h1m3 0h1m2 0h1m0 0h1m2 0h1m0 0h1m0 0h1m0 0h1m1 0h1m0 0h1m0 0h1m0 0h1m0 0h1m1 0h1m0 0h1m0 0h1m3 0h1m-70 1h1m10 0h1m4 0h1m1 0h1m2 0h1m1 0h1m0 0h1m4 0h1m0 0h1m0 0h1m2 0h1m9 0h1m2 0h1m1 0h1m1 0h1m0 0h1m0 0h1m0 0h1m1 0h1m0 0h1m0 0h1m0 0h1m0 0h1m0 0h1m0 0h1m0 0h1m0 0h1m0 0h1m0 0h1m0 0h1m0 0h1m0 0h1m-62 1h1m1 0h1m2 0h1m0 0h1m1 0h1m6 0h1m1 0h1m2 0h1m12 0h1m2 0h1m1 0h1m0 0h1m2 0h1m1 0h1m0 0h1m0 0h1m0 0h1m2 0h1m1 0h1m1 0h1m0 0h1m1 0h1m0 0h1m0 0h1m1 0h1m0 0h1m2 0h1m-68 1h1m5 0h1m1 0h1m0 0h1m0 0h1m0 0h1m2 0h1m3 0h1m2 0h1m0 0h1m1 0h1m4 0h1m2 0h1m5 0h1m0 0h1m0 0h1m1 0h1m0 0h1m1 0h1m2 0h1m0 0h1m0 0h1m1 0h1m0 0h1m1 0h1m0 0h1m0 0h1m1 0h1m0 0h1m0 0h1m0 0h1m2 0h1m-55 1h1m1 0h1m1 0h1m2 0h1m0 0h1m1 0h1m4 0h1m0 0h1m0 0h1m3 0h1m0 0h1m2 0h1m7 0h1m2 0h1m1 0h1m0 0h1m0 0h1m0 0h1m0 0h1m0 0h1m1 0h1m1 0h1m0 0h1m0 0h1m0 0h1m0 0h1m5 0h1m-64 1h1m1 0h1m1 0h1m2 0h1m2 0h1m0 0h1m2 0h1m0 0h1m5 0h1m4 0h1m4 0h1m0 0h1m3 0h1m0 0h1m0 0h1m0 0h1m0 0h1m0 0h1m6 0h1m0 0h1m0 0h1m0 0h1m0 0h1m0 0h1m1 0h1m3 0h1m0 0h1m-67 1h1m6 0h1m6 0h1m3 0h1m1 0h1m0 0h1m0 0h1m6 0h1m12 0h1m1 0h1m1 0h1m0 0h1m0 0h1m1 0h1m0 0h1m0 0h1m0 0h1m0 0h1m2 0h1m1 0h1m0 0h1m1 0h1m6 0h1m-67 1h1m4 0h1m3 0h1m0 0h1m0 0h1m0 0h1m3 0h1m0 0h1m10 0h1m0 0h1m3 0h1m9 0h1m0 0h1m0 0h1m1 0h1m0 0h1m0 0h1m2 0h1m0 0h1m2 0h1m-50 1h1m4 0h1m9 0h1m1 0h1m1 0h1m4 0h1m1 0h1m5 0h1m0 0h1m2 0h1m0 0h1m0 0h1m0 0h1m2 0h1m0 0h1m0 0h1m0 0h1m0 0h1m1 0h1m2 0h1m0 0h1m2 0h1m1 0h1m-61 1h1m0 0h1m0 0h1m1 0h1m2 0h1m3 0h1m0 0h1m1 0h1m9 0h1m8 0h1m2 0h1m1 0h1m2 0h1m0 0h1m0 0h1m1 0h1m0 0h1m0 0h1m0 0h1m2 0h1m2 0h1m0 0h1m-68 1h1m16 0h1m4 0h1m0 0h1m1 0h1m1 0h1m2 0h1m4 0h1m0 0h1m4 0h1m3 0h1m0 0h1m2 0h1m3 0h1m0 0h1m1 0h1m0 0h1m1 0h1m0 0h1m0 0h1m1 0h1m0 0h1m0 0h1m6 0h1m-63 1h1m2 0h1m0 0h1m1 0h1m2 0h1m2 0h1m0 0h1m2 0h1m4 0h1m15 0h1m0 0h1m0 0h1m0 0h1m2 0h1m5 0h1m0 0h1m0 0h1m0 0h1m1 0h1m1 0h1m-64 1h1m1 0h1m2 0h1m2 0h1m1 0h1m2 0h1m1 0h1m7 0h1m2 0h1m2 0h1m5 0h1m3 0h1m8 0h1m2 0h1m1 0h1m1 0h1m1 0h1m2 0h1m0 0h1m3 0h1m-64 1h1m4 0h1m0 0h1m6 0h1m1 0h1m0 0h1m4 0h1m1 0h1m15 0h1m3 0h1m0 0h1m0 0h1m0 0h1m2 0h1m0 0h1m0 0h1m1 0h1m1 0h1m3 0h1m0 0h1m3 0h1m3 0h1m-66 1h1m2 0h1m5 0h1m0 0h1m3 0h1m0 0h1m2 0h1m0 0h1m3 0h1m0 0h1m3 0h1m4 0h1m5 0h1m7 0h1m0 0h1m1 0h1m2 0h1m0 0h1m1 0h1m1 0h1m-63 1h1m7 0h1m2 0h1m1 0h1m6 0h1m2 0h1m1 0h1m1 0h1m3 0h1m8 0h1m8 0h1m1 0h1m0 0h1m3 0h1m0 0h1m5 0h1m-58 1h1m0 0h1m0 0h1m1 0h1m2 0h1m1 0h1m2 0h1m8 0h1m21 0h1m1 0h1m0 0h1m0 0h1m0 0h1m0 0h1m0 0h1m0 0h1m0 0h1m0 0h1m0 0h1m1 0h1m-52 1h1m2 0h1m0 0h1m0 0h1m5 0h1m1 0h1m0 0h1m20 0h1m7 0h1m0 0h1m0 0h1m0 0h1m2 0h1m2 0h1m-66 1h1m17 0h1m1 0h1m0 0h1m3 0h1m2 0h1m1 0h1m0 0h1m22 0h1m0 0h1m1 0h1m0 0h1m1 0h1m5 0h1m-54 1h1m1 0h1m1 0h1m6 0h1m0 0h1m1 0h1m25 0h1m0 0h1m1 0h1m1 0h1m0 0h1m1 0h1m0 0h1m0 0h1m10 0h1m-67 1h1m4 0h1m1 0h1m6 0h1m3 0h1m4 0h1m14 0h1m0 0h1m2 0h1m0 0h1m4 0h1m0 0h1m1 0h1m6 0h1m-50 1h1m1 0h1m1 0h1m3 0h1m26 0h1m0 0h1m2 0h1m2 0h1m0 0h1m0 0h1m-64 1h1m14 0h1m0 0h1m0 0h1m10 0h1m0 0h1m22 0h1m4 0h1m7 0h1m1 0h1m0 0h1m-50 1h1m6 0h1m27 0h1m6 0h1m5 0h1m-54 1h1m1 0h1m12 0h1m29 0h1m0 0h1m0 0h1m2 0h1m3 0h1m-48 1h1m2 0h1m27 0h1m6 0h1m1 0h1m-49 1h1m42 0h1m-34 1h1m5 0h1m3 0h1m-30 1h1m17 0h1m8 0h1m21 0h1m8 0h1m4 0h1m-51 1h1m4 0h1m9 0h1m-13 1h1m0 0h1m41 0h1" stroke="#222222" stroke-width="1" transform="translate(0,0.5)"/>
<path d="M388 231h1m-3 1h1m-2 4h1m33 0h1m-72 1h1m17 1h1m2 0h1m19 0h1m19 0h1m-25 1h1m0 0h1m12 0h1m8 0h1m7 0h1m3 0h1m-43 1h1m10 0h1m-25 1h1m14 0h1m19 0h1m1 0h1m0 0h1m4 0h1m4 0h1m26 0h1m-71 1h1m4 0h1m6 0h1m9 0h1m14 0h1m0 0h1m0 0h1m-50 1h1m0 0h1m0 0h1m7 0h1m0 0h1m0 0h1m4 0h1m4 0h1m2 0h1m2 0h1m15 0h1m2 0h1m4 0h1m2 0h1m-60 1h1m0 0h1m7 0h1m0 0h1m2 0h1m9 0h1m1 0h1m5 0h1m2 0h1m7 0h1m3 0h1m15 0h1m-59 1h1m10 0h1m0 0h1m2 0h1m6 0h1m2 0h1m6 0h1m1 0h1m3 0h1m5 0h1m5 0h1m5 0h1m3 0h1m-57 1h1m4 0h1m3 0h1m7 0h1m13 0h1m6 0h1m3 0h1m-50 1h1m2 0h1m12 0h1m0 0h1m3 0h1m1 0h1m0 0h1m0 0h1m0 0h1m1 0h1m0 0h1m0 0h1m1 0h1m8 0h1m0 0h1m1 0h1m6 0h1m2 0h1m3 0h1m2 0h1m26 0h1m-85 1h1m2 0h1m3 0h1m6 0h1m0 0h1m2 0h1m2 0h1m0 0h1m0 0h1m1 0h1m1 0h1m9 0h1m1 0h1m7 0h1m0 0h1m0 0h1m-51 1h1m11 0h1m1 0h1m5 0h1m2 0h1m0 0h1m0 0h1m1 0h1m5 0h1m2 0h1m1 0h1m4 0h1m0 0h1m1 0h1m2 0h1m5 0h1m-61 1h1m2 0h1m5 0h1m2 0h1m0 0h1m0 0h1m0 0h1m3 0h1m2 0h1m0 0h1m3 0h1m5 0h1m0 0h1m3 0h1m0 0h1m0 0h1m1 0h1m5 0h1m2 0h1m3 0h1m0 0h1m3 0h1m1 0h1m-55 1h1m8 0h1m1 0h1m0 0h1m4 0h1m3 0h1m2 0h1m2 0h1m7 0h1m3 0h1m4 0h1m4 0h1m1 0h1m-57 1h1m2 0h1m3 0h1m3 0h1m0 0h1m3 0h1m1 0h1m2 0h1m2 0h1m0 0h1m4 0h1m0 0h1m0 0h1m4 0h1m10 0h1m8 0h1m-60 1h1m1 0h1m1 0h1m6 0h1m2 0h1m2 0h1m0 0h1m2 0h1m1 0h1m0 0h1m0 0h1m0 0h1m0 0h1m2 0h1m4 0h1m1 0h1m13 0h1m-54 1h1m2 0h1m8 0h1m1 0h1m2 0h1m0 0h1m0 0h1m2 0h1m2 0h1m12 0h1m4 0h1m-41 1h1m3 0h1m0 0h1m6 0h1m1 0h1m0 0h1m1 0h1m0 0h1m0 0h1m0 0h1m0 0h1m4 0h1m3 0h1m3 0h1m7 0h1m2 0h1m0 0h1m16 0h1m-66 1h1m1 0h1m8 0h1m0 0h1m1 0h1m0 0h1m0 0h1m3 0h1m2 0h1m0 0h1m0 0h1m0 0h1m5 0h1m13 0h1m2 0h1m-54 1h1m10 0h1m5 0h1m3 0h1m13 0h1m0 0h1m0 0h1m5 0h1m8 0h1m5 0h1m1 0h1m1 0h1m0 0h1m1 0h1m-56 1h1m0 0h1m0 0h1m2 0h1m2 0h1m0 0h1m0 0h1m4 0h1m0 0h1m2 0h1m1 0h1m0 0h1m0 0h1m1 0h1m6 0h1m0 0h1m2 0h1m0 0h1m1 0h1m2 0h1m0 0h1m2 0h1m4 0h1m-61 1h1m8 0h1m2 0h1m1 0h1m3 0h1m1 0h1m3 0h1m5 0h1m1 0h1m0 0h1m2 0h1m5 0h1m5 0h1m3 0h1m6 0h1m3 0h1m-56 1h1m0 0h1m0 0h1m0 0h1m1 0h1m5 0h1m0 0h1m1 0h1m1 0h1m0 0h1m3 0h1m10 0h1m2 0h1m7 0h1m-51 1h1m1 0h1m8 0h1m0 0h1m0 0h1m8 0h1m2 0h1m4 0h1m11 0h1m1 0h1m5 0h1m6 0h1m0 0h1m-46 1h1m2 0h1m1 0h1m0 0h1m11 0h1m1 0h1m6 0h1m13 0h1m1 0h1m1 0h1m1 0h1m0 0h1m8 0h1m-70 1h1m2 0h1m0 0h1m13 0h1m3 0h1m11 0h1m0 0h1m0 0h1m6 0h1m1 0h1m0 0h1m2 0h1m2 0h1m1 0h1m3 0h1m-52 1h1m2 0h1m1 0h1m5 0h1m11 0h1m12 0h1m3 0h1m0 0h1m0 0h1m1 0h1m5 0h1m5 0h1m-61 1h1m7 0h1m12 0h1m3 0h1m4 0h1m12 0h1m1 0h1m2 0h1m14 0h1m-75 1h1m12 0h1m5 0h1m24 0h1m11 0h1m0 0h1m5 0h1m0 0h1m0 0h1m4 0h1m1 0h1m0 0h1m-66 1h1m13 0h1m2 0h1m0 0h1m1 0h1m1 0h1m1 0h1m2 0h1m0 0h1m7 0h1m0 0h1m1 0h1m1 0h1m1 0h1m4 0h1m0 0h1m3 0h1m-58 1h1m7 0h1m1 0h1m1 0h1m4 0h1m1 0h1m1 0h1m12 0h1m6 0h1m2 0h1m0 0h1m4 0h1m1 0h1m0 0h1m1 0h1m4 0h1m0 0h1m1 0h1m1 0h1m4 0h1m-64 1h1m2 0h1m14 0h1m2 0h1m0 0h1m2 0h1m12 0h1m9 0h1m6 0h1m34 0h1m-100 1h1m1 0h1m5 0h1m2 0h1m2 0h1m0 0h1m4 0h1m1 0h1m5 0h1m3 0h1m12 0h1m5 0h1m1 0h1m2 0h1m3 0h1m7 0h1m0 0h1m-66 1h1m3 0h1m3 0h1m4 0h1m3 0h1m2 0h1m4 0h1m3 0h1m2 0h1m5 0h1m2 0h1m3 0h1m0 0h1m7 0h1m2 0h1m1 0h1m1 0h1m1 0h1m1 0h1m3 0h1m2 0h1m1 0h1m-66 1h1m0 0h1m1 0h1m1 0h1m4 0h1m2 0h1m0 0h1m1 0h1m5 0h1m2 0h1m7 0h1m1 0h1m0 0h1m5 0h1m0 0h1m0 0h1m3 0h1m1 0h1m3 0h1m5 0h1m-66 1h1m8 0h1m3 0h1m4 0h1m1 0h1m2 0h1m11 0h1m12 0h1m6 0h1m2 0h1m9 0h1m-59 1h1m10 0h1m0 0h1m1 0h1m0 0h1m3 0h1m3 0h1m1 0h1m2 0h1m0 0h1m0 0h1m1 0h1m5 0h1m0 0h1m0 0h1m2 0h1m0 0h1m2 0h1m0 0h1m2 0h1m10 0h1m-73 1h1m2 0h1m2 0h1m7 0h1m1 0h1m0 0h1m1 0h1m2 0h1m3 0h1m13 0h1m0 0h1m4 0h1m4 0h1m1 0h1m1 0h1m0 0h1m3 0h1m0 0h1m-66 1h1m10 0h1m2 0h1m0 0h1m4 0h1m7 0h1m9 0h1m5 0h1m4 0h1m3 0h1m5 0h1m4 0h1m1 0h1m1 0h1m13 0h1m-81 1h1m1 0h1m3 0h1m3 0h1m2 0h1m0 0h1m2 0h1m4 0h1m3 0h1m0 0h1m1 0h1m2 0h1m0 0h1m17 0h1m3 0h1m5 0h1m0 0h1m4 0h1m4 0h1m-78 1h1m11 0h1m6 0h1m0 0h1m0 0h1m0 0h1m1 0h1m1 0h1m1 0h1m0 0h1m1 0h1m3 0h1m0 0h1m3 0h1m3 0h1m0 0h1m1 0h1m0 0h1m3 0h1m2 0h1m0 0h1m6 0h1m7 0h1m-74 1h1m7 0h1m10 0h1m0 0h1m2 0h1m5 0h1m2 0h1m0 0h1m6 0h1m7 0h1m1 0h1m0 0h1m4 0h1m1 0h1m1 0h1m11 0h1m2 0h1m0 0h1m-73 1h1m0 0h1m9 0h1m1 0h1m0 0h1m3 0h1m4 0h1m4 0h1m5 0h1m3 0h1m10 0h1m5 0h1m5 0h1m-55 1h1m0 0h1m2 0h1m4 0h1m1 0h1m7 0h1m11 0h1m0 0h1m1 0h1m0 0h1m1 0h1m0 0h1m8 0h1m19 0h1m-65 1h1m5 0h1m1 0h1m1 0h1m0 0h1m3 0h1m0 0h1m5 0h1m5 0h1m3 0h1m4 0h1m0 0h1m6 0h1m2 0h1m1 0h1m9 0h1m3 0h1m-71 1h1m1 0h1m2 0h1m10 0h1m3 0h1m6 0h1m1 0h1m1 0h1m0 0h1m2 0h1m0 0h1m1 0h1m3 0h1m2 0h1m1 0h1m0 0h1m6 0h1m8 0h1m-75 1h1m4 0h1m11 0h1m10 0h1m2 0h1m8 0h1m4 0h1m2 0h1m1 0h1m1 0h1m3 0h1m0 0h1m1 0h1m6 0h1m1 0h1m5 0h1m1 0h1m0 0h1m0 0h1m7 0h1m-80 1h1m5 0h1m5 0h1m2 0h1m2 0h1m2 0h1m6 0h1m10 0h1m2 0h1m9 0h1m0 0h1m0 0h1m0 0h1m0 0h1m8 0h1m-73 1h1m3 0h1m2 0h1m3 0h1m1 0h1m2 0h1m4 0h1m1 0h1m2 0h1m6 0h1m0 0h1m1 0h1m5 0h1m2 0h1m0 0h1m0 0h1m0 0h1m4 0h1m1 0h1m3 0h1m6 0h1m1 0h1m9 0h1m1 0h1m-72 1h1m1 0h1m2 0h1m2 0h1m2 0h1m5 0h1m5 0h1m0 0h1m0 0h1m0 0h1m0 0h1m6 0h1m5 0h1m1 0h1m0 0h1m1 0h1m0 0h1m12 0h1m1 0h1m1 0h1m6 0h1m-69 1h1m3 0h1m5 0h1m0 0h1m0 0h1m0 0h1m6 0h1m1 0h1m17 0h1m9 0h1m5 0h1m1 0h1m0 0h1m-62 1h1m3 0h1m0 0h1m5 0h1m1 0h1m2 0h1m6 0h1m1 0h1m1 0h1m0 0h1m7 0h1m8 0h1m1 0h1m0 0h1m8 0h1m0 0h1m2 0h1m3 0h1m3 0h1m0 0h1m-72 1h1m6 0h1m3 0h1m5 0h1m3 0h1m1 0h1m4 0h1m1 0h1m0 0h1m2 0h1m12 0h1m7 0h1m3 0h1m5 0h1m1 0h1m-67 1h1m6 0h1m0 0h1m5 0h1m1 0h1m0 0h1m2 0h1m0 0h1m3 0h1m0 0h1m9 0h1m11 0h1m1 0h1m0 0h1m1 0h1m7 0h1m4 0h1m-70 1h1m4 0h1m0 0h1m1 0h1m13 0h1m1 0h1m1 0h1m5 0h1m9 0h1m3 0h1m2 0h1m2 0h1m1 0h1m3 0h1m5 0h1m3 0h1m0 0h1m-67 1h1m8 0h1m1 0h1m0 0h1m2 0h1m2 0h1m4 0h1m1 0h1m0 0h1m0 0h1m0 0h1m2 0h1m4 0h1m1 0h1m9 0h1m0 0h1m3 0h1m4 0h1m0 0h1m2 0h1m-61 1h1m3 0h1m1 0h1m2 0h1m8 0h1m3 0h1m0 0h1m0 0h1m3 0h1m2 0h1m5 0h1m6 0h1m0 0h1m0 0h1m0 0h1m6 0h1m2 0h1m3 0h1m-72 1h1m6 0h1m5 0h1m0 0h1m7 0h1m0 0h1m2 0h1m0 0h1m4 0h1m1 0h1m17 0h1m1 0h1m1 0h1m1 0h1m2 0h1m0 0h1m0 0h1m2 0h1m1 0h1m-60 1h1m7 0h1m1 0h1m4 0h1m0 0h1m1 0h1m1 0h1m0 0h1m14 0h1m10 0h1m12 0h1m1 0h1m-64 1h1m3 0h1m3 0h1m4 0h1m5 0h1m0 0h1m8 0h1m8 0h1m0 0h1m0 0h1m1 0h1m4 0h1m0 0h1m0 0h1m1 0h1m0 0h1m5 0h1m0 0h1m1 0h1m4 0h1m2 0h1m0 0h1m-62 1h1m11 0h1m14 0h1m6 0h1m2 0h1m4 0h1m2 0h1m2 0h1m1 0h1m2 0h1m0 0h1m1 0h1m-50 1h1m2 0h1m6 0h1m1 0h1m3 0h1m4 0h1m15 0h1m1 0h1m2 0h1m6 0h1m-65 1h1m5 0h1m1 0h1m2 0h1m3 0h1m5 0h1m0 0h1m4 0h1m1 0h1m1 0h1m4 0h1m2 0h1m1 0h1m3 0h1m4 0h1m0 0h1m5 0h1m2 0h1m7 0h1m-69 1h1m5 0h1m2 0h1m1 0h1m0 0h1m18 0h1m13 0h1m5 0h1m0 0h1m1 0h1m4 0h1m-57 1h1m3 0h1m6 0h1m5 0h1m5 0h1m5 0h1m5 0h1m7 0h1m7 0h1m0 0h1m1 0h1m1 0h1m5 0h1m-59 1h1m4 0h1m0 0h1m10 0h1m21 0h1m3 0h1m0 0h1m0 0h1m0 0h1m0 0h1m3 0h1m5 0h1m-55 1h1m2 0h1m0 0h1m0 0h1m7 0h1m11 0h1m5 0h1m0 0h1m6 0h1m0 0h1m1 0h1m8 0h1m-58 1h1m6 0h1m2 0h1m9 0h1m1 0h1m22 0h1m1 0h1m0 0h1m2 0h1m4 0h1m-71 1h1m13 0h1m17 0h1m13 0h1m9 0h1m3 0h1m3 0h1m6 0h1m1 0h1m-54 1h1m0 0h1m14 0h1m11 0h1m15 0h1m-48 1h1m5 0h1m0 0h1m0 0h1m11 0h1m16 0h1m11 0h1m3 0h1m0 0h1m-60 1h1m7 0h1m2 0h1m5 0h1m0 0h1m8 0h1m21 0h1m4 0h1m-54 1h1m0 0h1m6 0h1m2 0h1m3 0h1m7 0h1m2 0h1m33 0h1" stroke="#5a5a5a" stroke-width="1" transform="translate(0,0.5)"/>
<path d="M403 232h1m-17 1h1m5 1h1m-1 1h1m-27 1h1m-2 1h1m1 0h1m12 0h1m-10 1h1m0 0h1m-7 1h1m3 0h1m4 0h1m18 0h1m10 0h1m2 0h1m1 0h1m-52 1h1m3 0h1m7 0h1m28 0h1m-27 1h1m3 0h1m25 0h1m-26 1h1m4 0h1m1 0h1m26 0h1m-57 1h1m0 0h1m8 0h1m12 0h1m2 0h1m1 0h1m2 0h1m2 0h1m20 0h1m2 0h1m14 0h1m-77 1h1m19 0h1m27 0h1m3 0h1m0 0h1m0 0h1m1 0h1m4 0h1m5 0h1m-59 1h1m1 0h1m3 0h1m3 0h1m4 0h1m9 0h1m7 0h1m3 0h1m4 0h1m8 0h1m-58 1h1m2 0h1m13 0h1m1 0h1m5 0h1m2 0h1m7 0h1m8 0h1m-35 1h1m1 0h1m4 0h1m11 0h1m5 0h1m1 0h1m0 0h1m9 0h1m4 0h1m8 0h1m-71 1h1m3 0h1m10 0h1m32 0h1m-31 1h1m7 0h1m3 0h1m8 0h1m3 0h1m2 0h1m1 0h1m1 0h1m9 0h1m0 0h1m4 0h1m-52 1h1m6 0h1m16 0h1m0 0h1m12 0h1m0 0h1m1 0h1m0 0h1m3 0h1m1 0h1m-58 1h1m1 0h1m4 0h1m3 0h1m8 0h1m3 0h1m6 0h1m3 0h1m20 0h1m-60 1h1m4 0h1m20 0h1m0 0h1m2 0h1m0 0h1m10 0h1m8 0h1m1 0h1m2 0h1m1 0h1m4 0h1m-63 1h1m1 0h1m3 0h1m14 0h1m13 0h1m7 0h1m12 0h1m0 0h1m3 0h1m14 0h1m-83 1h1m10 0h1m27 0h1m1 0h1m8 0h1m-51 1h1m40 0h1m3 0h1m13 0h1m5 0h1m-29 1h1m3 0h1m17 0h1m2 0h1m4 0h1m0 0h1m-53 1h1m23 0h1m5 0h1m10 0h1m3 0h1m-53 1h1m0 0h1m13 0h1m7 0h1m7 0h1m2 0h1m13 0h1m7 0h1m-34 1h1m8 0h1m8 0h1m8 0h1m4 0h1m-66 1h1m15 0h1m20 0h1m5 0h1m6 0h1m0 0h1m2 0h1m8 0h1m1 0h1m0 0h1m-61 1h1m49 0h1m10 0h1m3 0h1m-65 1h1m3 0h1m1 0h1m17 0h1m16 0h1m0 0h1m1 0h1m5 0h1m0 0h1m12 0h1m-61 1h1m15 0h1m9 0h1m19 0h1m3 0h1m3 0h1m1 0h1m-62 1h1m12 0h1m3 0h1m8 0h1m0 0h1m6 0h1m18 0h1m10 0h1m1 0h1m-68 1h1m12 0h1m9 0h1m20 0h1m6 0h1m9 0h1m1 0h1m0 0h1m-70 1h1m6 0h1m7 0h1m12 0h1m3 0h1m7 0h1m10 0h1m0 0h1m6 0h1m6 0h1m9 0h1m3 0h1m-67 1h1m4 0h1m11 0h1m0 0h1m3 0h1m4 0h1m24 0h1m5 0h1m0 0h1m-56 1h1m5 0h1m0 0h1m6 0h1m5 0h1m9 0h1m4 0h1m14 0h1m6 0h1m0 0h1m-57 1h1m8 0h1m6 0h1m1 0h1m9 0h1m4 0h1m13 0h1m0 0h1m0 0h1m1 0h1m1 0h1m-67 1h1m2 0h1m2 0h1m13 0h1m9 0h1m3 0h1m8 0h1m33 0h1m-84 1h1m11 0h1m4 0h1m12 0h1m43 0h1m-72 1h1m3 0h1m3 0h1m6 0h1m1 0h1m0 0h1m5 0h1m2 0h1m1 0h1m16 0h1m20 0h1m-66 1h1m3 0h1m12 0h1m0 0h1m44 0h1m1 0h1m5 0h1m1 0h1m-63 1h1m6 0h1m45 0h1m-66 1h1m0 0h1m11 0h1m26 0h1m25 0h1m-49 1h1m1 0h1m13 0h1m0 0h1m0 0h1m31 0h1m6 0h1m-72 1h1m0 0h1m2 0h1m3 0h1m11 0h1m-24 1h1m2 0h1m1 0h1m31 0h1m-38 1h1m4 0h1m13 0h1m8 0h1m5 0h1m5 0h1m25 0h1m-72 1h1m4 0h1m3 0h1m34 0h1m24 0h1m2 0h1m0 0h1m0 0h1m-61 1h1m0 0h1m10 0h1m9 0h1m2 0h1m-33 1h1m0 0h1m21 0h1m1 0h1m4 0h1m1 0h1m29 0h1m-60 1h1m3 0h1m56 0h1m1 0h1m-74 1h1m5 0h1m4 0h1m18 0h1m0 0h1m5 0h1m4 0h1m-37 1h1m0 0h1m2 0h1m0 0h1m16 0h1m41 0h1m3 0h1m-76 1h1m31 0h1m4 0h1m30 0h1m3 0h1m0 0h1m-69 1h1m1 0h1m4 0h1m0 0h1m10 0h1m9 0h1m1 0h1m0 0h1m12 0h1m19 0h1m2 0h1m1 0h1m-75 1h1m9 0h1m2 0h1m0 0h1m23 0h1m5 0h1m1 0h1m4 0h1m18 0h1m-65 1h1m12 0h1m3 0h1m2 0h1m4 0h1m6 0h1m34 0h1m-75 1h1m6 0h1m0 0h1m0 0h1m1 0h1m8 0h1m10 0h1m8 0h1m3 0h1m1 0h1m3 0h1m18 0h1m1 0h1m-69 1h1m31 0h1m2 0h1m1 0h1m0 0h1m1 0h1m0 0h1m2 0h1m26 0h1m-71 1h1m7 0h1m13 0h1m6 0h1m4 0h1m0 0h1m3 0h1m4 0h1m2 0h1m-33 1h1m5 0h1m1 0h1m12 0h1m6 0h1m21 0h1m2 0h1m-68 1h1m10 0h1m18 0h1m1 0h1m8 0h1m4 0h1m15 0h1m2 0h1m1 0h1m0 0h1m0 0h1m-53 1h1m4 0h1m11 0h1m2 0h1m5 0h1m18 0h1m4 0h1m-65 1h1m11 0h1m8 0h1m0 0h1m11 0h1m8 0h1m18 0h1m1 0h1m-70 1h1m0 0h1m6 0h1m0 0h1m3 0h1m10 0h1m5 0h1m0 0h1m12 0h1m2 0h1m-39 1h1m0 0h1m0 0h1m1 0h1m0 0h1m0 0h1m0 0h1m1 0h1m1 0h1m9 0h1m2 0h1m2 0h1m1 0h1m9 0h1m3 0h1m0 0h1m-42 1h1m0 0h1m7 0h1m10 0h1m16 0h1m19 0h1m-42 1h1m21 0h1m2 0h1m8 0h1m24 0h1m1 0h1m-88 1h1m16 0h1m8 0h1m10 0h1m3 0h1m1 0h1m2 0h1m1 0h1m0 0h1m7 0h1m4 0h1m0 0h1m0 0h1m0 0h1m-65 1h1m15 0h1m26 0h1m6 0h1m0 0h1m0 0h1m9 0h1m2 0h1m-74 1h1m6 0h1m10 0h1m1 0h1m10 0h1m0 0h1m6 0h1m0 0h1m28 0h1m2 0h1m18 0h1m-66 1h1m3 0h1m10 0h1m1 0h1m1 0h1m11 0h1m8 0h1m-40 1h1m1 0h1m0 0h1m21 0h1m15 0h1m7 0h1m-47 1h1m3 0h1m22 0h1m-33 1h1m4 0h1m14 0h1m8 0h1m6 0h1m2 0h1m4 0h1m0 0h1m-57 1h1m0 0h1m9 0h1m12 0h1m0 0h1m15 0h1m-42 1h1m2 0h1m5 0h1m11 0h1m23 0h1m6 0h1m0 0h1m2 0h1m-45 1h1m2 0h1m34 0h1" stroke="#9c9c9c" stroke-width="1" transform="translate(0,0.5)"/>
<path d="M77 401h1m12 0h1m2 4h1m-18 4h1m4 4h1m1 1h1m5 0h1m-4 2h1m-5 1h1m-1 1h1m0 0h1m4 0h1m4 0h1m-18 1h1m-1 1h1m7 0h1m5 0h1m1 0h1m2 0h1m-12 1h1m4 1h1m-9 1h1m9 0h1m-15 1h1m6 1h1m-2 1h1m6 0h1m3 0h1m-22 1h1m0 0h1m1 0h1m2 0h1m-10 1h1m5 0h1m10 0h1m1 0h1m5 0h1m-14 1h1m5 0h1m-2 1h1m5 0h1m-11 1h1m1 0h1m6 0h1m-16 1h1m3 0h1m1 0h1m-17 1h1m9 0h1m0 0h1m3 0h1m0 0h1m0 0h1m3 0h1m3 0h1m-21 1h1m8 0h1m0 0h1m0 0h1m0 0h1m0 0h1m1 0h1m3 0h1m-29 1h1m6 0h1m9 0h1m1 0h1m0 0h1m0 0h1m2 0h1m-10 1h1m1 0h1m3 0h1m0 0h1m0 0h1m1 0h1m-18 1h1m1 0h1m0 0h1m0 0h1m0 0h1m2 0h1m3 0h1m1 0h1m2 0h1m1 0h1m1 0h1m2 0h1m-33 1h1m5 0h1m1 0h1m4 0h1m0 0h1m0 0h1m0 0h1m0 0h1m0 0h1m0 0h1m0 0h1m0 0h1m0 0h1m0 0h1m0 0h1m1 0h1m1 0h1m-21 1h1m0 0h1m1 0h1m0 0h1m4 0h1m1 0h1m0 0h1m1 0h1m1 0h1m0 0h1m1 0h1m2 0h1m0 0h1m1 0h1m-27 1h1m0 0h1m0 0h1m1 0h1m0 0h1m0 0h1m0 0h1m0 0h1m0 0h1m0 0h1m0 0h1m1 0h1m0 0h1m0 0h1m0 0h1m1 0h1m0 0h1m0 0h1m0 0h1m0 0h1m0 0h1m4 0h1m-33 1h1m2 0h1m0 0h1m1 0h1m1 0h1m0 0h1m1 0h1m0 0h1m0 0h1m0 0h1m0 0h1m0 0h1m0 0h1m0 0h1m2 0h1m1 0h1m0 0h1m0 0h1m0 0h1m1 0h1m1 0h1m3 0h1m-34 1h1m0 0h1m2 0h1m0 0h1m0 0h1m3 0h1m0 0h1m0 0h1m1 0h1m0 0h1m0 0h1m0 0h1m1 0h1m3 0h1m0 0h1m0 0h1m0 0h1m0 0h1m0 0h1m0 0h1m-34 1h1m0 0h1m1 0h1m0 0h1m0 0h1m3 0h1m0 0h1m2 0h1m1 0h1m1 0h1m0 0h1m0 0h1m0 0h1m0 0h1m0 0h1m1 0h1m0 0h1m6 0h1m1 0h1m7 0h1m-44 1h1m0 0h1m0 0h1m1 0h1m0 0h1m0 0h1m2 0h1m0 0h1m0 0h1m0 0h1m0 0h1m0 0h1m0 0h1m0 0h1m4 0h1m0 0h1m1 0h1m1 0h1m0 0h1m0 0h1m0 0h1m0 0h1m0 0h1m0 0h1m-33 1h1m2 0h1m1 0h1m2 0h1m0 0h1m0 0h1m2 0h1m2 0h1m0 0h1m1 0h1m0 0h1m0 0h1m0 0h1m1 0h1m3 0h1m0 0h1m3 0h1m0 0h1m0 0h1m0 0h1m1 0h1m1 0h1m-38 1h1m0 0h1m1 0h1m2 0h1m5 0h1m0 0h1m1 0h1m0 0h1m0 0h1m0 0h1m0 0h1m0 0h1m2 0h1m0 0h1m0 0h1m0 0h1m1 0h1m1 0h1m2 0h1m-37 1h1m2 0h1m0 0h1m0 0h1m0 0h1m1 0h1m0 0h1m0 0h1m0 0h1m0 0h1m1 0h1m0 0h1m0 0h1m2 0h1m0 0h1m0 0h1m1 0h1m0 0h1m2 0h1m0 0h1m0 0h1m2 0h1m0 0h1m0 0h1m0 0h1m1 0h1m7 0h1m-46 1h1m1 0h1m2 0h1m0 0h1m1 0h1m0 0h1m0 0h1m0 0h1m0 0h1m0 0h1m0 0h1m1 0h1m0 0h1m0 0h1m0 0h1m1 0h1m0 0h1m1 0h1m2 0h1m0 0h1m1 0h1m0 0h1m0 0h1m0 0h1m1 0h1m-35 1h1m0 0h1m1 0h1m0 0h1m1 0h1m0 0h1m0 0h1m1 0h1m1 0h1m1 0h1m0 0h1m4 0h1m0 0h1m0 0h1m0 0h1m0 0h1m1 0h1m0 0h1m0 0h1m1 0h1m0 0h1m0 0h1m0 0h1m0 0h1m1 0h1m3 0h1m-42 1h1m1 0h1m0 0h1m0 0h1m0 0h1m0 0h1m1 0h1m3 0h1m0 0h1m0 0h1m1 0h1m0 0h1m0 0h1m0 0h1m2 0h1m0 0h1m0 0h1m0 0h1m0 0h1m0 0h1m0 0h1m0 0h1m0 0h1m0 0h1m0 0h1m1 0h1m-35 1h1m1 0h1m1 0h1m0 0h1m1 0h1m0 0h1m0 0h1m0 0h1m0 0h1m0 0h1m0 0h1m0 0h1m0 0h1m0 0h1m0 0h1m0 0h1m0 0h1m0 0h1m1 0h1m0 0h1m0 0h1m0 0h1m0 0h1m0 0h1m0 0h1m0 0h1m4 0h1m3 0h1m-35 1h1m2 0h1m1 0h1m0 0h1m1 0h1m0 0h1m1 0h1m0 0h1m0 0h1m3 0h1m0 0h1m1 0h1m1 0h1m0 0h1m0 0h1m0 0h1m1 0h1m2 0h1" stroke="#222222" stroke-width="1" transform="translate(0,0.5)"/>
<path d="M77 378h1m75 6h1m-70 4h1m5 2h1m-6 3h1m-10 2h1m0 5h1m3 2h1m3 0h1m2 0h1m1 0h1m4 0h1m3 0h1m-14 1h1m2 0h1m12 0h1m-20 1h1m0 0h1m9 0h1m44 0h1m-51 2h1m3 0h1m-7 1h1m9 2h1m-2 1h1m-11 1h1m6 1h1m3 0h1m-15 1h1m0 0h1m5 0h1m-7 2h1m0 0h1m-5 2h1m1 0h1m8 0h1m-16 1h1m3 0h1m3 0h1m-13 1h1m1 0h1m9 0h1m-5 1h1m4 1h1m3 0h1m1 0h1m0 0h1m5 1h1m-24 1h1m1 0h1m0 0h1m2 0h1m1 0h1m1 0h1m8 0h1m0 0h1m-18 1h1m1 0h1m2 0h1m7 0h1m1 0h1m-26 1h1m10 0h1m1 0h1m4 0h1m-19 1h1m6 0h1m4 0h1m0 0h1m1 0h1m-15 1h1m12 0h1m-11 1h1m5 0h1m14 0h1m-25 1h1m7 0h1m2 0h1m-11 1h1m2 0h1m7 0h1m0 0h1m13 0h1m2 0h1m-15 1h1m8 0h1m-29 1h1m8 0h1m8 0h1m5 0h1m0 0h1m8 0h1m-30 1h1m3 0h1m9 0h1m0 0h1m1 0h1m4 0h1m-32 1h1m5 0h1m1 0h1m4 0h1m2 0h1m0 0h1m5 0h1m9 0h1m-24 1h1m0 0h1m0 0h1m2 0h1m9 0h1m4 0h1m-29 1h1m1 0h1m1 0h1m2 0h1m0 0h1m2 0h1m2 0h1m7 0h1m1 0h1m3 0h1m3 0h1m0 0h1m-31 1h1m3 0h1m8 0h1m0 0h1m1 0h1m2 0h1m3 0h1m-27 1h1m6 0h1m2 0h1m12 0h1m3 0h1m2 0h1m2 0h1m3 0h1m7 0h1m8 0h1m-54 1h1m2 0h1m3 0h1m2 0h1m0 0h1m3 0h1m2 0h1m4 0h1m2 0h1m2 0h1m1 0h1m-35 1h1m0 0h1m4 0h1m3 0h1m20 0h1m2 0h1m-33 1h1m1 0h1m8 0h1m8 0h1m0 0h1m1 0h1m4 0h1m3 0h1m0 0h1m-37 1h1m0 0h1m0 0h1m0 0h1m3 0h1m4 0h1m0 0h1m0 0h1m3 0h1m4 0h1m1 0h1m0 0h1m0 0h1m8 0h1m0 0h1m0 0h1m1 0h1m-34 1h1m1 0h1m2 0h1m0 0h1m1 0h1m1 0h1m6 0h1m2 0h1m0 0h1m0 0h1m0 0h1m3 0h1m-32 1h1m3 0h1m0 0h1m8 0h1m0 0h1m0 0h1m0 0h1m2 0h1m1 0h1m9 0h1m1 0h1m0 0h1m0 0h1m0 0h1m3 0h1m-44 1h1m4 0h1m0 0h1m3 0h1m0 0h1m1 0h1m0 0h1m2 0h1m4 0h1m1 0h1m0 0h1m0 0h1m2 0h1m0 0h1m0 0h1m6 0h1m3 0h1m-42 1h1m2 0h1m1 0h1m2 0h1m0 0h1m0 0h1m1 0h1m2 0h1m6 0h1m0 0h1m4 0h1m1 0h1m1 0h1m3 0h1m1 0h1m0 0h1m4 0h1m-40 1h1m5 0h1m3 0h1m0 0h1m3 0h1m2 0h1m0 0h1m3 0h1m0 0h1m4 0h1m6 0h1m4 0h1m-48 1h1m1 0h1m0 0h1m2 0h1m7 0h1m4 0h1m2 0h1m2 0h1m2 0h1m4 0h1m-32 1h1m2 0h1m3 0h1m1 0h1m1 0h1m2 0h1m1 0h1m0 0h1m5 0h1m17 0h1m-36 1h1m0 0h1m0 0h1m3 0h1m4 0h1m0 0h1m18 0h1m-40 1h1m1 0h1m2 0h1m14 0h1m8 0h1m1 0h1m0 0h1m2 0h1m6 0h1m-42 1h1m2 0h1m0 0h1m1 0h1m2 0h1m6 0h1m0 0h1m0 0h1m2 0h1m1 0h1m4 0h1m1 0h1m0 0h1m1 0h1m0 0h1m0 0h1" stroke="#5a5a5a" stroke-width="1" transform="translate(0,0.5)"/>
<path d="M144 375h1m-30 2h1m-36 10h1m8 2h1m-9 3h1m4 3h1m-8 2h1m-5 2h1m10 0h1m12 0h1m-16 1h1m2 0h1m-6 2h1m4 0h1m-14 1h1m7 1h1m4 0h1m-10 1h1m4 2h1m-5 1h1m6 0h1m-4 1h1m0 0h1m0 0h1m1 0h1m-4 1h1m6 0h1m-3 1h1m8 0h1m-5 1h1m-21 1h1m5 0h1m10 0h1m4 0h1m-18 1h1m2 0h1m7 0h1m-11 1h1m10 0h1m-15 1h1m2 0h1m-12 2h1m22 0h1m-15 1h1m0 0h1m1 0h1m4 0h1m0 0h1m-6 1h1m8 0h1m-13 1h1m5 0h1m-17 1h1m3 0h1m9 0h1m7 0h1m11 0h1m-16 1h1m0 0h1m12 0h1m-31 1h1m15 0h1m-11 1h1m12 0h1m1 0h1m-9 1h1m13 0h1m-18 1h1m2 0h1m3 0h1m3 0h1m2 0h1m0 0h1m0 0h1m-28 1h1m2 0h1m0 0h1m4 0h1m0 0h1m6 0h1m1 0h1m2 0h1m-20 1h1m1 0h1m2 0h1m10 0h1m0 0h1m-16 1h1m0 0h1m1 0h1m14 0h1m-19 1h1m4 0h1m6 0h1m0 0h1m-15 1h1m3 0h1m2 0h1m7 0h1m2 0h1m-23 1h1m8 0h1m0 0h1m14 0h1m-23 1h1m25 0h1m-36 1h1m13 0h1m5 0h1m3 0h1m8 0h1m1 0h1m-33 1h1m5 0h1m16 0h1m-23 1h1m0 0h1m6 0h1m0 0h1m10 0h1m8 0h1m2 0h1m-38 1h1m0 1h1m42 0h1m-9 1h1m2 0h1m2 0h1m-8 1h1m1 0h1m2 0h1m6 0h1m-9 1h1m-42 1h1m35 0h1m1 0h1m-2 2h1m1 1h1m0 1h1m0 0h1m5 0h1m-10 1h1m1 0h1m1 0h1m-4 2h1m3 0h1m-9 1h1m7 1h1" stroke="#9c9c9c" stroke-width="1" transform="translate(0,0.5)"/>
<path d="M249 374h1m-29 15h1m11 1h1m-9 1h1m12 3h1m-7 2h1m-8 1h1m10 0h1m-7 6h1m4 0h1m-12 1h1m4 1h1m3 0h1m2 0h1m-7 1h1m0 1h1m-4 1h1m2 0h1m-10 1h1m4 0h1m3 0h1m-13 1h1m10 1h1m2 0h1m-12 1h1m8 0h1m1 0h1m-11 1h1m4 1h1m-8 1h1m-2 1h1m0 0h1m4 0h1m-3 1h1m3 0h1m0 0h1m0 0h1m2 0h1m-19 1h1m10 0h1m10 0h1m-18 1h1m1 0h1m4 0h1m-11 1h1m8 0h1m2 0h1m1 0h1m-10 1h1m9 0h1m5 0h1m-27 1h1m6 0h1m10 0h1m-14 1h1m0 0h1m1 0h1m19 0h1m-7 1h1m-11 1h1m11 0h1m-14 1h1m2 0h1m4 0h1m-12 1h1m7 0h1m3 0h1m-16 1h1m4 0h1m0 0h1m1 0h1m1 0h1m5 0h1m0 0h1m-17 1h1m3 0h1m11 0h1m-17 1h1m0 0h1m0 0h1m2 0h1m0 0h1m1 0h1m0 0h1m0 0h1m2 0h1m0 0h1m-19 1h1m7 0h1m1 0h1m7 0h1m2 0h1m-18 1h1m1 0h1m0 0h1m0 0h1m0 0h1m1 0h1m1 0h1m1 0h1m1 0h1m4 0h1m-23 1h1m3 0h1m0 0h1m2 0h1m1 0h1m0 0h1m0 0h1m0 0h1m1 0h1m0 0h1m2 0h1m-19 1h1m1 0h1m3 0h1m0 0h1m1 0h1m0 0h1m0 0h1m2 0h1m1 0h1m3 0h1m-27 1h1m2 0h1m4 0h1m0 0h1m0 0h1m0 0h1m0 0h1m0 0h1m0 0h1m0 0h1m0 0h1m0 0h1m0 0h1m2 0h1m1 0h1m1 0h1m-25 1h1m0 0h1m5 0h1m1 0h1m0 0h1m0 0h1m1 0h1m4 0h1m0 0h1m0 0h1m0 0h1m0 0h1m1 0h1m0 0h1m-22 1h1m1 0h1m0 0h1m1 0h1m0 0h1m2 0h1m0 0h1m0 0h1m1 0h1m0 0h1m0 0h1m0 0h1m0 0h1m1 0h1m-24 1h1m2 0h1m0 0h1m1 0h1m1 0h1m0 0h1m0 0h1m0 0h1m0 0h1m2 0h1m0 0h1m0 0h1m0 0h1m0 0h1m0 0h1m1 0h1m0 0h1m0 0h1m1 0h1m0 0h1m-23 1h1m0 0h1m0 0h1m2 0h1m1 0h1m0 0h1m0 0h1m3 0h1m0 0h1m0 0h1m1 0h1m1 0h1m1 0h1m-28 1h1m1 0h1m0 0h1m0 0h1m0 0h1m2 0h1m1 0h1m0 0h1m1 0h1m0 0h1m0 0h1m0 0h1m0 0h1m2 0h1m0 0h1m1 0h1m1 0h1m-22 1h1m0 0h1m0 0h1m0 0h1m0 0h1m0 0h1m0 0h1m1 0h1m0 0h1m0 0h1m0 0h1m1 0h1m2 0h1m0 0h1m0 0h1m0 0h1m1 0h1m1 0h1m-29 1h1m2 0h1m0 0h1m7 0h1m0 0h1m0 0h1m0 0h1m0 0h1m0 0h1m0 0h1m0 0h1m2 0h1m1 0h1m4 0h1m-24 1h1m1 0h1m1 0h1m0 0h1m1 0h1m0 0h1m0 0h1m2 0h1m0 0h1m0 0h1m3 0h1m1 0h1m0 0h1m1 0h1m2 0h1m-37 1h1m8 0h1m0 0h1m1 0h1m2 0h1m1 0h1m0 0h1m1 0h1m0 0h1m0 0h1m0 0h1m1 0h1m0 0h1m0 0h1m2 0h1m0 0h1m0 0h1m-33 1h1m7 0h1m0 0h1m0 0h1m1 0h1m0 0h1m0 0h1m0 0h1m0 0h1m0 0h1m0 0h1m0 0h1m1 0h1m0 0h1m0 0h1m0 0h1m0 0h1m1 0h1m0 0h1m2 0h1m0 0h1m1 0h1m-28 1h1m0 0h1m0 0h1m1 0h1m0 0h1m0 0h1m1 0h1m0 0h1m1 0h1m0 0h1m0 0h1m0 0h1m1 0h1m0 0h1m0 0h1m1 0h1m1 0h1m0 0h1m0 0h1m0 0h1m1 0h1m1 0h1m-31 1h1m0 0h1m1 0h1m0 0h1m0 0h1m1 0h1m0 0h1m0 0h1m1 0h1m0 0h1m0 0h1m0 0h1m0 0h1m0 0h1m1 0h1m0 0h1m0 0h1m1 0h1m0 0h1m2 0h1m1 0h1m0 0h1m-26 1h1m4 0h1m0 0h1m2 0h1m0 0h1m0 0h1m0 0h1m0 0h1m1 0h1m0 0h1m0 0h1m0 0h1m1 0h1m1 0h1m2 0h1m-30 1h1m1 0h1m0 0h1m0 0h1m0 0h1m0 0h1m0 0h1m0 0h1m0 0h1m1 0h1m0 0h1m0 0h1m0 0h1m0 0h1m1 0h1m0 0h1m1 0h1m0 0h1m0 0h1m0 0h1m0 0h1m1 0h1m1 0h1m1 0h1m-27 1h1m0 0h1m0 0h1m0 0h1m0 0h1m0 0h1m2 0h1m0 0h1m1 0h1m0 0h1m0 0h1m0 0h1m1 0h1m1 0h1m0 0h1m1 0h1m-21 1h1m1 0h1m0 0h1m1 0h1m0 0h1m0 0h1m0 0h1m1 0h1m1 0h1m0 0h1m1 0h1m0 0h1m1 0h1m0 0h1m0 0h1m2 0h1m0 0h1m-28 1h1m1 0h1m0 0h1m0 0h1m0 0h1m0 0h1m0 0h1m0 0h1m0 0h1m1 0h1m0 0h1m0 0h1m0 0h1m2 0h1m0 0h1m0 0h1m0 0h1m0 0h1m-23 1h1m0 0h1m2 0h1m1 0h1m0 0h1m0 0h1m1 0h1m0 0h1m1 0h1m1 0h1m0 0h1m0 0h1m1 0h1m0 0h1" stroke="#222222" stroke-width="1" transform="translate(0,0.5)"/>
<path d="M230 384h1m0 0h1m0 0h1m-3 1h1m7 2h1m-11 2h1m3 0h1m-11 3h1m4 0h1m28 0h1m-18 1h1m-15 1h1m2 0h1m-3 1h1m5 0h1m0 1h1m8 0h1m-16 1h1m2 0h1m4 0h1m-9 1h1m-1 1h1m0 0h1m2 0h1m0 0h1m1 0h1m-2 2h1m3 0h1m-12 1h1m4 0h1m3 0h1m-8 2h1m0 0h1m-4 1h1m0 0h1m6 0h1m-13 1h1m0 0h1m4 0h1m0 0h1m7 0h1m-17 1h1m2 0h1m0 0h1m3 0h1m-12 1h1m7 0h1m-1 1h1m2 0h1m0 0h1m3 0h1m-20 1h1m-2 1h1m9 0h1m1 1h1m7 0h1m2 0h1m0 0h1m-20 1h1m1 0h1m0 0h1m1 0h1m0 0h1m0 0h1m0 0h1m2 0h1m2 0h1m-4 1h1m1 0h1m1 0h1m-13 1h1m4 0h1m4 0h1m-18 1h1m0 0h1m8 0h1m6 0h1m-6 1h1m-9 1h1m4 0h1m3 0h1m0 0h1m2 0h1m-17 1h1m2 0h1m4 0h1m1 0h1m1 0h1m9 0h1m-28 1h1m12 0h1m12 0h1m1 0h1m-28 1h1m3 0h1m2 0h1m0 0h1m4 0h1m0 0h1m10 0h1m-21 1h1m5 0h1m3 0h1m-16 1h1m6 0h1m2 0h1m0 0h1m4 0h1m3 0h1m6 0h1m-24 1h1m0 0h1m0 0h1m3 0h1m2 0h1m5 0h1m0 0h1m0 0h1m2 0h1m1 0h1m-24 1h1m4 0h1m2 0h1m1 0h1m1 0h1m0 0h1m0 0h1m1 0h1m-13 1h1m0 0h1m0 0h1m2 0h1m2 0h1m1 0h1m0 0h1m1 0h1m2 0h1m3 0h1m-30 1h1m3 0h1m1 0h1m4 0h1m0 0h1m0 0h1m5 0h1m0 0h1m7 0h1m-24 1h1m0 0h1m7 0h1m5 0h1m0 0h1m-19 1h1m3 0h1m7 0h1m3 0h1m2 0h1m2 0h1m-27 1h1m11 0h1m7 0h1m-14 1h1m1 0h1m1 0h1m2 0h1m1 0h1m0 0h1m1 0h1m8 0h1m-24 1h1m2 0h1m6 0h1m1 0h1m1 0h1m3 0h1m1 0h1m-15 1h1m10 0h1m3 0h1m1 0h1m-22 1h1m2 0h1m0 0h1m2 0h1m6 0h1m1 0h1m1 0h1m-20 1h1m0 0h1m12 0h1m1 0h1m1 0h1m3 0h1m-25 1h1m1 0h1m2 0h1m5 0h1m1 0h1m0 0h1m5 0h1m4 0h1m0 0h1m-31 1h1m5 0h1m2 0h1m2 0h1m0 0h1m3 0h1m12 0h1m-28 1h1m2 0h1m1 0h1m5 0h1m0 0h1m6 0h1m3 0h1m2 0h1m-29 1h1m0 0h1m1 0h1m0 0h1m3 0h1m0 0h1m1 0h1m3 0h1m0 0h1m0 0h1m3 0h1m1 0h1m1 0h1m5 0h1m2 0h1m-39 1h1m9 0h1m1 0h1m2 0h1m5 0h1m0 0h1m2 0h1m1 0h1m1 0h1m2 0h1m0 0h1m-34 1h1m2 0h1m1 0h1m0 0h1m7 0h1m4 0h1m1 0h1m0 0h1m4 0h1m1 0h1m1 0h1m0 0h1m-25 1h1m0 0h1m0 0h1m0 0h1m0 0h1m0 0h1m8 0h1m0 0h1m1 0h1m1 0h1m1 0h1m0 0h1m-28 1h1m1 0h1m0 0h1m0 0h1m1 0h1m1 0h1m2 0h1m3 0h1m0 0h1m3 0h1m0 0h1m0 0h1m1 0h1m2 0h1m1 0h1m4 0h1m-34 1h1m4 0h1m1 0h1m0 0h1m1 0h1m2 0h1m4 0h1m3 0h1m0 0h1m4 0h1m2 0h1m2 0h1m-35 1h1m4 0h1m8 0h1m8 0h1m0 0h1m10 0h1m-42 1h1m2 0h1m2 0h1m3 0h1m3 0h1m2 0h1m4 0h1m3 0h1m1 0h1m4 0h1m1 0h1m-36 1h1m4 0h1m2 0h1m3 0h1m3 0h1m6 0h1m3 0h1m3 0h1m-29 1h1m2 0h1m0 0h1m1 0h1m2 0h1m0 0h1m0 0h1m2 0h1m0 0h1m5 0h1m4 0h1m1 0h1m-29 1h1m12 0h1m8 0h1m7 0h1m-25 1h1m6 0h1m0 0h1m2 0h1m4 0h1m1 0h1m2 0h1m8 0h1m-37 1h1m0 0h1m3 0h1m0 0h1m0 0h1m4 0h1m4 0h1m1 0h1m2 0h1m2 0h1m11 0h1m-18 1h1m6 0h1m0 0h1m-26 1h1m2 0h1m2 0h1m6 0h1m1 0h1m3 0h1m2 0h1" stroke="#5a5a5a" stroke-width="1" transform="translate(0,0.5)"/>
<path d="M232 377h1m17 5h1m-22 3h1m65 0h1m-60 2h1m-7 6h1m-5 1h1m2 0h1m9 0h1m-32 1h1m16 0h1m4 0h1m6 1h1m-13 2h1m11 0h1m-3 1h1m-12 1h1m0 0h1m0 0h1m0 0h1m0 0h1m5 0h1m-9 1h1m2 0h1m1 0h1m56 0h1m-68 1h1m5 0h1m-2 1h1m-7 1h1m14 0h1m3 0h1m-9 2h1m-14 1h1m4 0h1m17 0h1m-21 1h1m7 0h1m3 0h1m-11 1h1m4 0h1m-13 1h1m8 0h1m3 0h1m10 1h1m-13 1h1m-11 1h1m1 1h1m8 0h1m5 0h1m-19 1h1m6 0h1m3 0h1m0 0h1m-3 1h1m0 0h1m7 0h1m0 0h1m-4 1h1m1 0h1m1 0h1m-26 1h1m2 0h1m3 0h1m0 0h1m8 0h1m3 0h1m1 0h1m-6 1h1m0 0h1m0 0h1m5 0h1m67 0h1m-93 1h1m3 0h1m1 0h1m0 0h1m10 0h1m0 0h1m-12 1h1m6 0h1m0 0h1m1 0h1m-8 1h1m2 0h1m3 0h1m3 0h1m-23 1h1m5 0h1m2 0h1m5 0h1m-19 1h1m8 0h1m1 0h1m2 0h1m2 0h1m-14 1h1m17 0h1m-22 1h1m-1 1h1m11 0h1m0 0h1m6 0h1m-16 1h1m16 0h1m62 0h1m-75 1h1m1 0h1m1 0h1m-4 1h1m8 0h1m-23 1h1m16 0h1m0 0h1m5 0h1m-24 1h1m19 0h1m-27 1h1m2 0h1m1 0h1m0 0h1m-1 1h1m22 0h1m-26 1h1m24 0h1m3 0h1m-32 1h1m2 0h1m23 0h1m3 0h1m-31 1h1m2 0h1m20 0h1m1 0h1m-26 1h1m26 1h1m6 0h1m-3 2h1m-41 1h1m2 0h1m0 0h1m2 0h1m28 0h1m2 0h1m-36 2h1m1 0h1m32 0h1m0 0h1m2 0h1m-44 1h1m1 0h1m0 0h1m4 0h1m-4 2h1m28 1h1m3 1h1m2 1h1m-39 2h1m2 0h1m26 0h1m0 1h1m2 0h1" stroke="#9c9c9c" stroke-width="1" transform="translate(0,0.5)"/>
<path d="M377 372h1m0 0h1m0 0h1m1 0h1m-8 1h1m0 0h1m-4 1h1m1 0h1m0 0h1m0 0h1m0 0h1m0 0h1m0 0h1m3 0h1m-14 1h1m1 0h1m2 0h1m0 0h1m0 0h1m0 0h1m1 0h1m1 0h1m-15 1h1m0 0h1m1 0h1m0 0h1m0 0h1m1 0h1m1 0h1m0 0h1m0 0h1m0 0h1m0 0h1m-14 1h1m0 0h1m1 0h1m0 0h1m1 0h1m1 0h1m0 0h1m0 0h1m0 0h1m0 0h1m0 0h1m2 0h1m-18 1h1m0 0h1m0 0h1m0 0h1m4 0h1m0 0h1m1 0h1m0 0h1m0 0h1m1 0h1m0 0h1m-20 1h1m2 0h1m0 0h1m1 0h1m0 0h1m0 0h1m0 0h1m3 0h1m1 0h1m0 0h1m0 0h1m-18 1h1m0 0h1m0 0h1m0 0h1m2 0h1m0 0h1m1 0h1m1 0h1m1 0h1m0 0h1m0 0h1m0 0h1m0 0h1m-18 1h1m0 0h1m0 0h1m0 0h1m0 0h1m1 0h1m0 0h1m0 0h1m1 0h1m0 0h1m0 0h1m0 0h1m1 0h1m1 0h1m0 0h1m-17 1h1m0 0h1m2 0h1m0 0h1m0 0h1m0 0h1m0 0h1m1 0h1m1 0h1m0 0h1m0 0h1m0 0h1m2 0h1m-23 1h1m1 0h1m0 0h1m0 0h1m0 0h1m0 0h1m0 0h1m0 0h1m1 0h1m0 0h1m0 0h1m1 0h1m1 0h1m0 0h1m1 0h1m0 0h1m-24 1h1m2 0h1m0 0h1m0 0h1m0 0h1m0 0h1m3 0h1m0 0h1m4 0h1m0 0h1m1 0h1m0 0h1m0 0h1m-23 1h1m1 0h1m0 0h1m0 0h1m0 0h1m0 0h1m1 0h1m0 0h1m1 0h1m0 0h1m0 0h1m1 0h1m0 0h1m0 0h1m1 0h1m0 0h1m0 0h1m-26 1h1m6 0h1m1 0h1m0 0h1m0 0h1m0 0h1m0 0h1m0 0h1m1 0h1m0 0h1m2 0h1m0 0h1m1 0h1m2 0h1m-26 1h1m1 0h1m0 0h1m1 0h1m1 0h1m1 0h1m1 0h1m1 0h1m0 0h1m1 0h1m0 0h1m0 0h1m0 0h1m1 0h1m0 0h1m-30 1h1m5 0h1m0 0h1m1 0h1m0 0h1m1 0h1m2 0h1m0 0h1m0 0h1m0 0h1m0 0h1m0 0h1m0 0h1m1 0h1m0 0h1m0 0h1m0 0h1m1 0h1m1 0h1m-27 1h1m2 0h1m1 0h1m1 0h1m0 0h1m1 0h1m1 0h1m0 0h1m1 0h1m0 0h1m0 0h1m1 0h1m0 0h1m1 0h1m0 0h1m-22 1h1m0 0h1m0 0h1m0 0h1m0 0h1m0 0h1m0 0h1m1 0h1m0 0h1m0 0h1m0 0h1m0 0h1m1 0h1m0 0h1m0 0h1m2 0h1m-23 1h1m4 0h1m0 0h1m4 0h1m0 0h1m1 0h1m1 0h1m2 0h1m-19 1h1m1 0h1m0 0h1m0 0h1m0 0h1m2 0h1m0 0h1m1 0h1m0 0h1m0 0h1m0 0h1m-20 1h1m7 0h1m0 0h1m1 0h1m1 0h1m2 0h1m1 0h1m1 0h1m0 0h1m-16 1h1m2 0h1m1 0h1m2 0h1m1 0h1m0 0h1m0 0h1m0 0h1m-19 1h1m2 0h1m1 0h1m0 0h1m0 0h1m1 0h1m0 0h1m1 0h1m0 0h1m0 0h1m1 0h1m0 0h1m-17 1h1m1 0h1m0 0h1m0 0h1m0 0h1m0 0h1m0 0h1m2 0h1m0 0h1m0 0h1m0 0h1m-14 1h1m2 0h1m0 0h1m0 0h1m0 0h1m0 0h1m2 0h1m1 0h1m3 0h1m-18 1h1m2 0h1m0 0h1m1 0h1m1 0h1m6 0h1m0 0h1m-15 1h1m3 0h1m0 0h1m3 0h1m0 0h1m0 0h1m2 0h1m-14 1h1m1 0h1m-2 1h1m1 0h1m2 0h1m0 0h1m-6 1h1m-3 4h1m0 3h1m13 9h1m-13 2h1m-4 9h1m22 3h1m-7 6h1m-6 8h1" stroke="#222222" stroke-width="1" transform="translate(0,0.5)"/>
<path d="M373 371h1m3 0h1m-6 1h1m10 0h1m-6 1h1m0 0h1m0 0h1m2 0h1m1 0h1m-16 1h1m0 0h1m8 0h1m0 0h1m-16 1h1m6 0h1m0 0h1m4 0h1m3 0h1m1 0h1m-12 1h1m1 0h1m5 0h1m1 0h1m-15 1h1m2 0h1m1 0h1m6 0h1m-18 1h1m5 0h1m0 0h1m0 0h1m0 0h1m2 0h1m3 0h1m-13 1h1m4 0h1m0 0h1m0 0h1m1 0h1m4 0h1m1 0h1m-18 1h1m0 0h1m2 0h1m1 0h1m1 0h1m5 0h1m0 0h1m1 0h1m-27 1h1m3 0h1m5 0h1m3 0h1m4 0h1m1 0h1m2 0h1m-22 1h1m1 0h1m0 0h1m2 0h1m0 0h1m5 0h1m1 0h1m-22 1h1m6 0h1m7 0h1m3 0h1m1 0h1m2 0h1m2 0h1m-17 1h1m0 0h1m0 0h1m2 0h1m0 0h1m0 0h1m0 0h1m2 0h1m19 0h1m-39 1h1m5 0h1m2 0h1m3 0h1m3 0h1m4 0h1m0 0h1m-26 1h1m0 0h1m0 0h1m0 0h1m1 0h1m6 0h1m2 0h1m0 0h1m2 0h1m4 0h1m-26 1h1m2 0h1m1 0h1m1 0h1m1 0h1m1 0h1m2 0h1m4 0h1m2 0h1m1 0h1m-30 1h1m4 0h1m2 0h1m1 0h1m0 0h1m7 0h1m4 0h1m1 0h1m-24 1h1m3 0h1m2 0h1m1 0h1m2 0h1m3 0h1m2 0h1m-24 1h1m10 0h1m5 0h1m3 0h1m0 0h1m1 0h1m0 0h1m-26 1h1m3 0h1m3 0h1m0 0h1m0 0h1m0 0h1m2 0h1m1 0h1m2 0h1m4 0h1m0 0h1m-33 1h1m5 0h1m0 0h1m0 0h1m6 0h1m3 0h1m6 0h1m-20 1h1m0 0h1m0 0h1m0 0h1m3 0h1m1 0h1m4 0h1m1 0h1m3 0h1m0 0h1m-21 1h1m0 0h1m2 0h1m1 0h1m1 0h1m0 0h1m6 0h1m0 0h1m-24 1h1m6 0h1m3 0h1m2 0h1m3 0h1m-18 1h1m10 0h1m0 0h1m4 0h1m2 0h1m0 0h1m-17 1h1m6 0h1m5 0h1m-16 1h1m0 0h1m6 0h1m1 0h1m5 0h1m-18 1h1m4 0h1m4 0h1m6 0h1m1 0h1m-16 1h1m1 0h1m3 0h1m2 0h1m0 0h1m-13 1h1m10 0h1m-15 1h1m4 0h1m4 0h1m-5 1h1m4 0h1m1 0h1m-11 1h1m17 0h1m-16 1h1m57 1h1m-68 2h1m24 0h1m-3 1h1m-10 1h1m-1 3h1m-2 1h1m0 2h1m0 0h1m5 2h1m-14 2h1m31 1h1m-20 2h1m-14 1h1m3 0h1m9 2h1m-8 1h1m20 1h1m-31 1h1m19 2h1m-2 4h1m56 1h1m-74 1h1m20 0h1m-12 3h1m74 0h1m-79 3h1m80 0h1m-20 7h1" stroke="#5a5a5a" stroke-width="1" transform="translate(0,0.5)"/>
<path d="M374 371h1m0 1h1m6 0h1m-2 1h1m0 0h1m-15 2h1m15 0h1m-18 1h1m-1 1h1m-2 1h1m-4 1h1m1 0h1m20 1h1m-25 1h1m-6 1h1m3 0h1m21 0h1m-23 1h1m22 0h1m-28 1h1m24 0h1m-29 2h1m-4 3h1m26 0h1m-25 1h1m24 0h1m-8 1h1m4 0h1m-29 1h1m22 0h1m-23 3h1m17 0h1m1 0h1m1 0h1m2 0h1m-28 1h1m14 2h1m4 0h1m-26 3h1m1 0h1m4 0h1m5 0h1m-12 1h1m9 0h1m1 0h1m14 0h1m-23 1h1m1 0h1m0 0h1m2 0h1m3 0h1m-9 1h1m21 0h1m-7 2h1m-16 1h1m72 1h1m-55 1h1m1 0h1m-10 3h1m0 1h1m-18 1h1m10 1h1m5 0h1m-13 1h1m-4 1h1m1 0h1m4 0h1m3 1h1m7 0h1m-12 1h1m8 1h1m4 0h1m-20 1h1m10 2h1m-10 4h1m1 2h1m9 0h1m-4 1h1m1 0h1m-6 1h1m-5 5h1m18 3h1m-16 1h1m4 5h1" stroke="#9c9c9c" stroke-width="1" transform="translate(0,0.5)"/>
<rect x="60.3" y="229.9" width="107.89999999999999" height="83.79999999999998" fill="none" stroke="#151515" stroke-width="2"/>
<line x1="107.30" y1="229.90" x2="107.30" y2="313.70" stroke="#2a2a2a" stroke-width="1.2" />
<line x1="60.30" y1="267.90" x2="168.20" y2="267.90" stroke="#2a2a2a" stroke-width="1.2" />
<line x1="60.30" y1="313.70" x2="60.30" y2="321.20" stroke="#151515" stroke-width="1.5" />
<line x1="68.42" y1="313.70" x2="68.42" y2="317.70" stroke="#151515" stroke-width="1.5" />
<line x1="73.17" y1="313.70" x2="73.17" y2="317.70" stroke="#151515" stroke-width="1.5" />
<line x1="76.54" y1="313.70" x2="76.54" y2="317.70" stroke="#151515" stroke-width="1.5" />
<line x1="79.15" y1="313.70" x2="79.15" y2="317.70" stroke="#151515" stroke-width="1.5" />
<line x1="81.29" y1="313.70" x2="81.29" y2="317.70" stroke="#151515" stroke-width="1.5" />
<line x1="83.10" y1="313.70" x2="83.10" y2="317.70" stroke="#151515" stroke-width="1.5" />
<line x1="84.66" y1="313.70" x2="84.66" y2="317.70" stroke="#151515" stroke-width="1.5" />
<line x1="86.04" y1="313.70" x2="86.04" y2="317.70" stroke="#151515" stroke-width="1.5" />
<line x1="87.27" y1="313.70" x2="87.27" y2="321.20" stroke="#151515" stroke-width="1.5" />
<line x1="95.40" y1="313.70" x2="95.40" y2="317.70" stroke="#151515" stroke-width="1.5" />
<line x1="100.15" y1="313.70" x2="100.15" y2="317.70" stroke="#151515" stroke-width="1.5" />
<line x1="103.52" y1="313.70" x2="103.52" y2="317.70" stroke="#151515" stroke-width="1.5" />
<line x1="106.13" y1="313.70" x2="106.13" y2="317.70" stroke="#151515" stroke-width="1.5" />
<line x1="108.27" y1="313.70" x2="108.27" y2="317.70" stroke="#151515" stroke-width="1.5" />
<line x1="110.07" y1="313.70" x2="110.07" y2="317.70" stroke="#151515" stroke-width="1.5" />
<line x1="111.64" y1="313.70" x2="111.64" y2="317.70" stroke="#151515" stroke-width="1.5" />
<line x1="113.02" y1="313.70" x2="113.02" y2="317.70" stroke="#151515" stroke-width="1.5" />
<line x1="114.25" y1="313.70" x2="114.25" y2="321.20" stroke="#151515" stroke-width="1.5" />
<line x1="122.37" y1="313.70" x2="122.37" y2="317.70" stroke="#151515" stroke-width="1.5" />
<line x1="127.12" y1="313.70" x2="127.12" y2="317.70" stroke="#151515" stroke-width="1.5" />
<line x1="130.49" y1="313.70" x2="130.49" y2="317.70" stroke="#151515" stroke-width="1.5" />
<line x1="133.10" y1="313.70" x2="133.10" y2="317.70" stroke="#151515" stroke-width="1.5" />
<line x1="135.24" y1="313.70" x2="135.24" y2="317.70" stroke="#151515" stroke-width="1.5" />
<line x1="137.05" y1="313.70" x2="137.05" y2="317.70" stroke="#151515" stroke-width="1.5" />
<line x1="138.61" y1="313.70" x2="138.61" y2="317.70" stroke="#151515" stroke-width="1.5" />
<line x1="139.99" y1="313.70" x2="139.99" y2="317.70" stroke="#151515" stroke-width="1.5" />
<line x1="141.22" y1="313.70" x2="141.22" y2="321.20" stroke="#151515" stroke-width="1.5" />
<line x1="149.35" y1="313.70" x2="149.35" y2="317.70" stroke="#151515" stroke-width="1.5" />
<line x1="154.10" y1="313.70" x2="154.10" y2="317.70" stroke="#151515" stroke-width="1.5" />
<line x1="157.47" y1="313.70" x2="157.47" y2="317.70" stroke="#151515" stroke-width="1.5" />
<line x1="160.08" y1="313.70" x2="160.08" y2="317.70" stroke="#151515" stroke-width="1.5" />
<line x1="162.22" y1="313.70" x2="162.22" y2="317.70" stroke="#151515" stroke-width="1.5" />
<line x1="164.02" y1="313.70" x2="164.02" y2="317.70" stroke="#151515" stroke-width="1.5" />
<line x1="165.59" y1="313.70" x2="165.59" y2="317.70" stroke="#151515" stroke-width="1.5" />
<line x1="166.97" y1="313.70" x2="166.97" y2="317.70" stroke="#151515" stroke-width="1.5" />
<line x1="168.20" y1="313.70" x2="168.20" y2="321.20" stroke="#151515" stroke-width="1.5" />
<line x1="52.80" y1="313.70" x2="60.30" y2="313.70" stroke="#151515" stroke-width="1.5" />
<line x1="55.80" y1="307.39" x2="60.30" y2="307.39" stroke="#151515" stroke-width="1.5" />
<line x1="55.80" y1="303.70" x2="60.30" y2="303.70" stroke="#151515" stroke-width="1.5" />
<line x1="55.80" y1="301.09" x2="60.30" y2="301.09" stroke="#151515" stroke-width="1.5" />
<line x1="55.80" y1="299.06" x2="60.30" y2="299.06" stroke="#151515" stroke-width="1.5" />
<line x1="55.80" y1="297.40" x2="60.30" y2="297.40" stroke="#151515" stroke-width="1.5" />
<line x1="55.80" y1="296.00" x2="60.30" y2="296.00" stroke="#151515" stroke-width="1.5" />
<line x1="55.80" y1="294.78" x2="60.30" y2="294.78" stroke="#151515" stroke-width="1.5" />
<line x1="55.80" y1="293.71" x2="60.30" y2="293.71" stroke="#151515" stroke-width="1.5" />
<line x1="52.80" y1="292.75" x2="60.30" y2="292.75" stroke="#151515" stroke-width="1.5" />
<line x1="55.80" y1="286.44" x2="60.30" y2="286.44" stroke="#151515" stroke-width="1.5" />
<line x1="55.80" y1="282.75" x2="60.30" y2="282.75" stroke="#151515" stroke-width="1.5" />
<line x1="55.80" y1="280.14" x2="60.30" y2="280.14" stroke="#151515" stroke-width="1.5" />
<line x1="55.80" y1="278.11" x2="60.30" y2="278.11" stroke="#151515" stroke-width="1.5" />
<line x1="55.80" y1="276.45" x2="60.30" y2="276.45" stroke="#151515" stroke-width="1.5" />
<line x1="55.80" y1="275.05" x2="60.30" y2="275.05" stroke="#151515" stroke-width="1.5" />
<line x1="55.80" y1="273.83" x2="60.30" y2="273.83" stroke="#151515" stroke-width="1.5" />
<line x1="55.80" y1="272.76" x2="60.30" y2="272.76" stroke="#151515" stroke-width="1.5" />
<line x1="52.80" y1="271.80" x2="60.30" y2="271.80" stroke="#151515" stroke-width="1.5" />
<line x1="55.80" y1="265.49" x2="60.30" y2="265.49" stroke="#151515" stroke-width="1.5" />
<line x1="55.80" y1="261.80" x2="60.30" y2="261.80" stroke="#151515" stroke-width="1.5" />
<line x1="55.80" y1="259.19" x2="60.30" y2="259.19" stroke="#151515" stroke-width="1.5" />
<line x1="55.80" y1="257.16" x2="60.30" y2="257.16" stroke="#151515" stroke-width="1.5" />
<line x1="55.80" y1="255.50" x2="60.30" y2="255.50" stroke="#151515" stroke-width="1.5" />
<line x1="55.80" y1="254.10" x2="60.30" y2="254.10" stroke="#151515" stroke-width="1.5" />
<line x1="55.80" y1="252.88" x2="60.30" y2="252.88" stroke="#151515" stroke-width="1.5" />
<line x1="55.80" y1="251.81" x2="60.30" y2="251.81" stroke="#151515" stroke-width="1.5" />
<line x1="52.80" y1="250.85" x2="60.30" y2="250.85" stroke="#151515" stroke-width="1.5" />
<line x1="55.80" y1="244.54" x2="60.30" y2="244.54" stroke="#151515" stroke-width="1.5" />
<line x1="55.80" y1="240.85" x2="60.30" y2="240.85" stroke="#151515" stroke-width="1.5" />
<line x1="55.80" y1="238.24" x2="60.30" y2="238.24" stroke="#151515" stroke-width="1.5" />
<line x1="55.80" y1="236.21" x2="60.30" y2="236.21" stroke="#151515" stroke-width="1.5" />
<line x1="55.80" y1="234.55" x2="60.30" y2="234.55" stroke="#151515" stroke-width="1.5" />
<line x1="55.80" y1="233.15" x2="60.30" y2="233.15" stroke="#151515" stroke-width="1.5" />
<line x1="55.80" y1="231.93" x2="60.30" y2="231.93" stroke="#151515" stroke-width="1.5" />
<line x1="55.80" y1="230.86" x2="60.30" y2="230.86" stroke="#151515" stroke-width="1.5" />
<line x1="52.80" y1="229.90" x2="60.30" y2="229.90" stroke="#151515" stroke-width="1.5" />
<text x="60.599999999999994" y="332.59999999999997" font-size="10.2" font-weight="normal" text-anchor="middle" fill="#111" stroke="#111" stroke-width="0.5" >10<tspan dy="-4.5" font-size="7.2">0</tspan></text>
<text x="87.57499999999999" y="332.59999999999997" font-size="10.2" font-weight="normal" text-anchor="middle" fill="#111" stroke="#111" stroke-width="0.5" >10<tspan dy="-4.5" font-size="7.2">1</tspan></text>
<text x="114.55" y="332.59999999999997" font-size="10.2" font-weight="normal" text-anchor="middle" fill="#111" stroke="#111" stroke-width="0.5" >10<tspan dy="-4.5" font-size="7.2">2</tspan></text>
<text x="141.525" y="332.59999999999997" font-size="10.2" font-weight="normal" text-anchor="middle" fill="#111" stroke="#111" stroke-width="0.5" >10<tspan dy="-4.5" font-size="7.2">3</tspan></text>
<text x="168.5" y="332.59999999999997" font-size="10.2" font-weight="normal" text-anchor="middle" fill="#111" stroke="#111" stroke-width="0.5" >10<tspan dy="-4.5" font-size="7.2">4</tspan></text>
<text transform="translate(49.4,315.0) rotate(-90)" font-size="10.5" font-weight="normal" text-anchor="middle" fill="#111" stroke="#111" stroke-width="0.5" >10<tspan dy="-4.8" font-size="7.6">0</tspan></text>
<text transform="translate(49.4,296.5) rotate(-90)" font-size="10.5" font-weight="normal" text-anchor="middle" fill="#111" stroke="#111" stroke-width="0.5" >10<tspan dy="-4.8" font-size="7.6">1</tspan></text>
<text transform="translate(49.4,276.5) rotate(-90)" font-size="10.5" font-weight="normal" text-anchor="middle" fill="#111" stroke="#111" stroke-width="0.5" >10<tspan dy="-4.8" font-size="7.6">2</tspan></text>
<text transform="translate(49.4,254.6) rotate(-90)" font-size="10.5" font-weight="normal" text-anchor="middle" fill="#111" stroke="#111" stroke-width="0.5" >10<tspan dy="-4.8" font-size="7.6">3</tspan></text>
<text transform="translate(49.4,235.89999999999998) rotate(-90)" font-size="10.5" font-weight="normal" text-anchor="middle" fill="#111" stroke="#111" stroke-width="0.5" >10<tspan dy="-4.8" font-size="7.6">4</tspan></text>
<rect x="201.5" y="229.4" width="108.19999999999999" height="83.6" fill="none" stroke="#151515" stroke-width="2"/>
<line x1="250.20" y1="229.40" x2="250.20" y2="313.00" stroke="#2a2a2a" stroke-width="1.2" />
<line x1="201.50" y1="267.50" x2="309.70" y2="267.50" stroke="#2a2a2a" stroke-width="1.2" />
<line x1="201.50" y1="313.00" x2="201.50" y2="320.50" stroke="#151515" stroke-width="1.5" />
<line x1="209.64" y1="313.00" x2="209.64" y2="317.00" stroke="#151515" stroke-width="1.5" />
<line x1="214.41" y1="313.00" x2="214.41" y2="317.00" stroke="#151515" stroke-width="1.5" />
<line x1="217.79" y1="313.00" x2="217.79" y2="317.00" stroke="#151515" stroke-width="1.5" />
<line x1="220.41" y1="313.00" x2="220.41" y2="317.00" stroke="#151515" stroke-width="1.5" />
<line x1="222.55" y1="313.00" x2="222.55" y2="317.00" stroke="#151515" stroke-width="1.5" />
<line x1="224.36" y1="313.00" x2="224.36" y2="317.00" stroke="#151515" stroke-width="1.5" />
<line x1="225.93" y1="313.00" x2="225.93" y2="317.00" stroke="#151515" stroke-width="1.5" />
<line x1="227.31" y1="313.00" x2="227.31" y2="317.00" stroke="#151515" stroke-width="1.5" />
<line x1="228.55" y1="313.00" x2="228.55" y2="320.50" stroke="#151515" stroke-width="1.5" />
<line x1="236.69" y1="313.00" x2="236.69" y2="317.00" stroke="#151515" stroke-width="1.5" />
<line x1="241.46" y1="313.00" x2="241.46" y2="317.00" stroke="#151515" stroke-width="1.5" />
<line x1="244.84" y1="313.00" x2="244.84" y2="317.00" stroke="#151515" stroke-width="1.5" />
<line x1="247.46" y1="313.00" x2="247.46" y2="317.00" stroke="#151515" stroke-width="1.5" />
<line x1="249.60" y1="313.00" x2="249.60" y2="317.00" stroke="#151515" stroke-width="1.5" />
<line x1="251.41" y1="313.00" x2="251.41" y2="317.00" stroke="#151515" stroke-width="1.5" />
<line x1="252.98" y1="313.00" x2="252.98" y2="317.00" stroke="#151515" stroke-width="1.5" />
<line x1="254.36" y1="313.00" x2="254.36" y2="317.00" stroke="#151515" stroke-width="1.5" />
<line x1="255.60" y1="313.00" x2="255.60" y2="320.50" stroke="#151515" stroke-width="1.5" />
<line x1="263.74" y1="313.00" x2="263.74" y2="317.00" stroke="#151515" stroke-width="1.5" />
<line x1="268.51" y1="313.00" x2="268.51" y2="317.00" stroke="#151515" stroke-width="1.5" />
<line x1="271.89" y1="313.00" x2="271.89" y2="317.00" stroke="#151515" stroke-width="1.5" />
<line x1="274.51" y1="313.00" x2="274.51" y2="317.00" stroke="#151515" stroke-width="1.5" />
<line x1="276.65" y1="313.00" x2="276.65" y2="317.00" stroke="#151515" stroke-width="1.5" />
<line x1="278.46" y1="313.00" x2="278.46" y2="317.00" stroke="#151515" stroke-width="1.5" />
<line x1="280.03" y1="313.00" x2="280.03" y2="317.00" stroke="#151515" stroke-width="1.5" />
<line x1="281.41" y1="313.00" x2="281.41" y2="317.00" stroke="#151515" stroke-width="1.5" />
<line x1="282.65" y1="313.00" x2="282.65" y2="320.50" stroke="#151515" stroke-width="1.5" />
<line x1="290.79" y1="313.00" x2="290.79" y2="317.00" stroke="#151515" stroke-width="1.5" />
<line x1="295.56" y1="313.00" x2="295.56" y2="317.00" stroke="#151515" stroke-width="1.5" />
<line x1="298.94" y1="313.00" x2="298.94" y2="317.00" stroke="#151515" stroke-width="1.5" />
<line x1="301.56" y1="313.00" x2="301.56" y2="317.00" stroke="#151515" stroke-width="1.5" />
<line x1="303.70" y1="313.00" x2="303.70" y2="317.00" stroke="#151515" stroke-width="1.5" />
<line x1="305.51" y1="313.00" x2="305.51" y2="317.00" stroke="#151515" stroke-width="1.5" />
<line x1="307.08" y1="313.00" x2="307.08" y2="317.00" stroke="#151515" stroke-width="1.5" />
<line x1="308.46" y1="313.00" x2="308.46" y2="317.00" stroke="#151515" stroke-width="1.5" />
<line x1="309.70" y1="313.00" x2="309.70" y2="320.50" stroke="#151515" stroke-width="1.5" />
<line x1="194.00" y1="313.00" x2="201.50" y2="313.00" stroke="#151515" stroke-width="1.5" />
<line x1="197.00" y1="306.71" x2="201.50" y2="306.71" stroke="#151515" stroke-width="1.5" />
<line x1="197.00" y1="303.03" x2="201.50" y2="303.03" stroke="#151515" stroke-width="1.5" />
<line x1="197.00" y1="300.42" x2="201.50" y2="300.42" stroke="#151515" stroke-width="1.5" />
<line x1="197.00" y1="298.39" x2="201.50" y2="298.39" stroke="#151515" stroke-width="1.5" />
<line x1="197.00" y1="296.74" x2="201.50" y2="296.74" stroke="#151515" stroke-width="1.5" />
<line x1="197.00" y1="295.34" x2="201.50" y2="295.34" stroke="#151515" stroke-width="1.5" />
<line x1="197.00" y1="294.13" x2="201.50" y2="294.13" stroke="#151515" stroke-width="1.5" />
<line x1="197.00" y1="293.06" x2="201.50" y2="293.06" stroke="#151515" stroke-width="1.5" />
<line x1="194.00" y1="292.10" x2="201.50" y2="292.10" stroke="#151515" stroke-width="1.5" />
<line x1="197.00" y1="285.81" x2="201.50" y2="285.81" stroke="#151515" stroke-width="1.5" />
<line x1="197.00" y1="282.13" x2="201.50" y2="282.13" stroke="#151515" stroke-width="1.5" />
<line x1="197.00" y1="279.52" x2="201.50" y2="279.52" stroke="#151515" stroke-width="1.5" />
<line x1="197.00" y1="277.49" x2="201.50" y2="277.49" stroke="#151515" stroke-width="1.5" />
<line x1="197.00" y1="275.84" x2="201.50" y2="275.84" stroke="#151515" stroke-width="1.5" />
<line x1="197.00" y1="274.44" x2="201.50" y2="274.44" stroke="#151515" stroke-width="1.5" />
<line x1="197.00" y1="273.23" x2="201.50" y2="273.23" stroke="#151515" stroke-width="1.5" />
<line x1="197.00" y1="272.16" x2="201.50" y2="272.16" stroke="#151515" stroke-width="1.5" />
<line x1="194.00" y1="271.20" x2="201.50" y2="271.20" stroke="#151515" stroke-width="1.5" />
<line x1="197.00" y1="264.91" x2="201.50" y2="264.91" stroke="#151515" stroke-width="1.5" />
<line x1="197.00" y1="261.23" x2="201.50" y2="261.23" stroke="#151515" stroke-width="1.5" />
<line x1="197.00" y1="258.62" x2="201.50" y2="258.62" stroke="#151515" stroke-width="1.5" />
<line x1="197.00" y1="256.59" x2="201.50" y2="256.59" stroke="#151515" stroke-width="1.5" />
<line x1="197.00" y1="254.94" x2="201.50" y2="254.94" stroke="#151515" stroke-width="1.5" />
<line x1="197.00" y1="253.54" x2="201.50" y2="253.54" stroke="#151515" stroke-width="1.5" />
<line x1="197.00" y1="252.33" x2="201.50" y2="252.33" stroke="#151515" stroke-width="1.5" />
<line x1="197.00" y1="251.26" x2="201.50" y2="251.26" stroke="#151515" stroke-width="1.5" />
<line x1="194.00" y1="250.30" x2="201.50" y2="250.30" stroke="#151515" stroke-width="1.5" />
<line x1="197.00" y1="244.01" x2="201.50" y2="244.01" stroke="#151515" stroke-width="1.5" />
<line x1="197.00" y1="240.33" x2="201.50" y2="240.33" stroke="#151515" stroke-width="1.5" />
<line x1="197.00" y1="237.72" x2="201.50" y2="237.72" stroke="#151515" stroke-width="1.5" />
<line x1="197.00" y1="235.69" x2="201.50" y2="235.69" stroke="#151515" stroke-width="1.5" />
<line x1="197.00" y1="234.04" x2="201.50" y2="234.04" stroke="#151515" stroke-width="1.5" />
<line x1="197.00" y1="232.64" x2="201.50" y2="232.64" stroke="#151515" stroke-width="1.5" />
<line x1="197.00" y1="231.43" x2="201.50" y2="231.43" stroke="#151515" stroke-width="1.5" />
<line x1="197.00" y1="230.36" x2="201.50" y2="230.36" stroke="#151515" stroke-width="1.5" />
<line x1="194.00" y1="229.40" x2="201.50" y2="229.40" stroke="#151515" stroke-width="1.5" />
<text x="201.8" y="331.9" font-size="10.2" font-weight="normal" text-anchor="middle" fill="#111" stroke="#111" stroke-width="0.5" >10<tspan dy="-4.5" font-size="7.2">0</tspan></text>
<text x="228.85000000000002" y="331.9" font-size="10.2" font-weight="normal" text-anchor="middle" fill="#111" stroke="#111" stroke-width="0.5" >10<tspan dy="-4.5" font-size="7.2">1</tspan></text>
<text x="255.9" y="331.9" font-size="10.2" font-weight="normal" text-anchor="middle" fill="#111" stroke="#111" stroke-width="0.5" >10<tspan dy="-4.5" font-size="7.2">2</tspan></text>
<text x="282.95" y="331.9" font-size="10.2" font-weight="normal" text-anchor="middle" fill="#111" stroke="#111" stroke-width="0.5" >10<tspan dy="-4.5" font-size="7.2">3</tspan></text>
<text x="310.0" y="331.9" font-size="10.2" font-weight="normal" text-anchor="middle" fill="#111" stroke="#111" stroke-width="0.5" >10<tspan dy="-4.5" font-size="7.2">4</tspan></text>
<rect x="341.2" y="229.4" width="108.90000000000003" height="83.1" fill="none" stroke="#151515" stroke-width="2"/>
<line x1="390.20" y1="229.40" x2="390.20" y2="312.50" stroke="#2a2a2a" stroke-width="1.2" />
<line x1="341.20" y1="267.10" x2="450.10" y2="267.10" stroke="#2a2a2a" stroke-width="1.2" />
<line x1="341.20" y1="312.50" x2="341.20" y2="320.00" stroke="#151515" stroke-width="1.5" />
<line x1="349.40" y1="312.50" x2="349.40" y2="316.50" stroke="#151515" stroke-width="1.5" />
<line x1="354.19" y1="312.50" x2="354.19" y2="316.50" stroke="#151515" stroke-width="1.5" />
<line x1="357.59" y1="312.50" x2="357.59" y2="316.50" stroke="#151515" stroke-width="1.5" />
<line x1="360.23" y1="312.50" x2="360.23" y2="316.50" stroke="#151515" stroke-width="1.5" />
<line x1="362.39" y1="312.50" x2="362.39" y2="316.50" stroke="#151515" stroke-width="1.5" />
<line x1="364.21" y1="312.50" x2="364.21" y2="316.50" stroke="#151515" stroke-width="1.5" />
<line x1="365.79" y1="312.50" x2="365.79" y2="316.50" stroke="#151515" stroke-width="1.5" />
<line x1="367.18" y1="312.50" x2="367.18" y2="316.50" stroke="#151515" stroke-width="1.5" />
<line x1="368.43" y1="312.50" x2="368.43" y2="320.00" stroke="#151515" stroke-width="1.5" />
<line x1="376.62" y1="312.50" x2="376.62" y2="316.50" stroke="#151515" stroke-width="1.5" />
<line x1="381.41" y1="312.50" x2="381.41" y2="316.50" stroke="#151515" stroke-width="1.5" />
<line x1="384.82" y1="312.50" x2="384.82" y2="316.50" stroke="#151515" stroke-width="1.5" />
<line x1="387.45" y1="312.50" x2="387.45" y2="316.50" stroke="#151515" stroke-width="1.5" />
<line x1="389.61" y1="312.50" x2="389.61" y2="316.50" stroke="#151515" stroke-width="1.5" />
<line x1="391.43" y1="312.50" x2="391.43" y2="316.50" stroke="#151515" stroke-width="1.5" />
<line x1="393.01" y1="312.50" x2="393.01" y2="316.50" stroke="#151515" stroke-width="1.5" />
<line x1="394.40" y1="312.50" x2="394.40" y2="316.50" stroke="#151515" stroke-width="1.5" />
<line x1="395.65" y1="312.50" x2="395.65" y2="320.00" stroke="#151515" stroke-width="1.5" />
<line x1="403.85" y1="312.50" x2="403.85" y2="316.50" stroke="#151515" stroke-width="1.5" />
<line x1="408.64" y1="312.50" x2="408.64" y2="316.50" stroke="#151515" stroke-width="1.5" />
<line x1="412.04" y1="312.50" x2="412.04" y2="316.50" stroke="#151515" stroke-width="1.5" />
<line x1="414.68" y1="312.50" x2="414.68" y2="316.50" stroke="#151515" stroke-width="1.5" />
<line x1="416.84" y1="312.50" x2="416.84" y2="316.50" stroke="#151515" stroke-width="1.5" />
<line x1="418.66" y1="312.50" x2="418.66" y2="316.50" stroke="#151515" stroke-width="1.5" />
<line x1="420.24" y1="312.50" x2="420.24" y2="316.50" stroke="#151515" stroke-width="1.5" />
<line x1="421.63" y1="312.50" x2="421.63" y2="316.50" stroke="#151515" stroke-width="1.5" />
<line x1="422.88" y1="312.50" x2="422.88" y2="320.00" stroke="#151515" stroke-width="1.5" />
<line x1="431.07" y1="312.50" x2="431.07" y2="316.50" stroke="#151515" stroke-width="1.5" />
<line x1="435.86" y1="312.50" x2="435.86" y2="316.50" stroke="#151515" stroke-width="1.5" />
<line x1="439.27" y1="312.50" x2="439.27" y2="316.50" stroke="#151515" stroke-width="1.5" />
<line x1="441.90" y1="312.50" x2="441.90" y2="316.50" stroke="#151515" stroke-width="1.5" />
<line x1="444.06" y1="312.50" x2="444.06" y2="316.50" stroke="#151515" stroke-width="1.5" />
<line x1="445.88" y1="312.50" x2="445.88" y2="316.50" stroke="#151515" stroke-width="1.5" />
<line x1="447.46" y1="312.50" x2="447.46" y2="316.50" stroke="#151515" stroke-width="1.5" />
<line x1="448.85" y1="312.50" x2="448.85" y2="316.50" stroke="#151515" stroke-width="1.5" />
<line x1="450.10" y1="312.50" x2="450.10" y2="320.00" stroke="#151515" stroke-width="1.5" />
<line x1="333.70" y1="312.50" x2="341.20" y2="312.50" stroke="#151515" stroke-width="1.5" />
<line x1="336.70" y1="306.25" x2="341.20" y2="306.25" stroke="#151515" stroke-width="1.5" />
<line x1="336.70" y1="302.59" x2="341.20" y2="302.59" stroke="#151515" stroke-width="1.5" />
<line x1="336.70" y1="299.99" x2="341.20" y2="299.99" stroke="#151515" stroke-width="1.5" />
<line x1="336.70" y1="297.98" x2="341.20" y2="297.98" stroke="#151515" stroke-width="1.5" />
<line x1="336.70" y1="296.33" x2="341.20" y2="296.33" stroke="#151515" stroke-width="1.5" />
<line x1="336.70" y1="294.94" x2="341.20" y2="294.94" stroke="#151515" stroke-width="1.5" />
<line x1="336.70" y1="293.74" x2="341.20" y2="293.74" stroke="#151515" stroke-width="1.5" />
<line x1="336.70" y1="292.68" x2="341.20" y2="292.68" stroke="#151515" stroke-width="1.5" />
<line x1="333.70" y1="291.73" x2="341.20" y2="291.73" stroke="#151515" stroke-width="1.5" />
<line x1="336.70" y1="285.47" x2="341.20" y2="285.47" stroke="#151515" stroke-width="1.5" />
<line x1="336.70" y1="281.81" x2="341.20" y2="281.81" stroke="#151515" stroke-width="1.5" />
<line x1="336.70" y1="279.22" x2="341.20" y2="279.22" stroke="#151515" stroke-width="1.5" />
<line x1="336.70" y1="277.20" x2="341.20" y2="277.20" stroke="#151515" stroke-width="1.5" />
<line x1="336.70" y1="275.56" x2="341.20" y2="275.56" stroke="#151515" stroke-width="1.5" />
<line x1="336.70" y1="274.17" x2="341.20" y2="274.17" stroke="#151515" stroke-width="1.5" />
<line x1="336.70" y1="272.96" x2="341.20" y2="272.96" stroke="#151515" stroke-width="1.5" />
<line x1="336.70" y1="271.90" x2="341.20" y2="271.90" stroke="#151515" stroke-width="1.5" />
<line x1="333.70" y1="270.95" x2="341.20" y2="270.95" stroke="#151515" stroke-width="1.5" />
<line x1="336.70" y1="264.70" x2="341.20" y2="264.70" stroke="#151515" stroke-width="1.5" />
<line x1="336.70" y1="261.04" x2="341.20" y2="261.04" stroke="#151515" stroke-width="1.5" />
<line x1="336.70" y1="258.44" x2="341.20" y2="258.44" stroke="#151515" stroke-width="1.5" />
<line x1="336.70" y1="256.43" x2="341.20" y2="256.43" stroke="#151515" stroke-width="1.5" />
<line x1="336.70" y1="254.78" x2="341.20" y2="254.78" stroke="#151515" stroke-width="1.5" />
<line x1="336.70" y1="253.39" x2="341.20" y2="253.39" stroke="#151515" stroke-width="1.5" />
<line x1="336.70" y1="252.19" x2="341.20" y2="252.19" stroke="#151515" stroke-width="1.5" />
<line x1="336.70" y1="251.13" x2="341.20" y2="251.13" stroke="#151515" stroke-width="1.5" />
<line x1="333.70" y1="250.18" x2="341.20" y2="250.18" stroke="#151515" stroke-width="1.5" />
<line x1="336.70" y1="243.92" x2="341.20" y2="243.92" stroke="#151515" stroke-width="1.5" />
<line x1="336.70" y1="240.26" x2="341.20" y2="240.26" stroke="#151515" stroke-width="1.5" />
<line x1="336.70" y1="237.67" x2="341.20" y2="237.67" stroke="#151515" stroke-width="1.5" />
<line x1="336.70" y1="235.65" x2="341.20" y2="235.65" stroke="#151515" stroke-width="1.5" />
<line x1="336.70" y1="234.01" x2="341.20" y2="234.01" stroke="#151515" stroke-width="1.5" />
<line x1="336.70" y1="232.62" x2="341.20" y2="232.62" stroke="#151515" stroke-width="1.5" />
<line x1="336.70" y1="231.41" x2="341.20" y2="231.41" stroke="#151515" stroke-width="1.5" />
<line x1="336.70" y1="230.35" x2="341.20" y2="230.35" stroke="#151515" stroke-width="1.5" />
<line x1="333.70" y1="229.40" x2="341.20" y2="229.40" stroke="#151515" stroke-width="1.5" />
<text x="341.5" y="331.4" font-size="10.2" font-weight="normal" text-anchor="middle" fill="#111" stroke="#111" stroke-width="0.5" >10<tspan dy="-4.5" font-size="7.2">0</tspan></text>
<text x="368.725" y="331.4" font-size="10.2" font-weight="normal" text-anchor="middle" fill="#111" stroke="#111" stroke-width="0.5" >10<tspan dy="-4.5" font-size="7.2">1</tspan></text>
<text x="395.95" y="331.4" font-size="10.2" font-weight="normal" text-anchor="middle" fill="#111" stroke="#111" stroke-width="0.5" >10<tspan dy="-4.5" font-size="7.2">2</tspan></text>
<text x="423.175" y="331.4" font-size="10.2" font-weight="normal" text-anchor="middle" fill="#111" stroke="#111" stroke-width="0.5" >10<tspan dy="-4.5" font-size="7.2">3</tspan></text>
<text x="450.40000000000003" y="331.4" font-size="10.2" font-weight="normal" text-anchor="middle" fill="#111" stroke="#111" stroke-width="0.5" >10<tspan dy="-4.5" font-size="7.2">4</tspan></text>
<rect x="60.3" y="370.3" width="107.89999999999999" height="84.5" fill="none" stroke="#151515" stroke-width="2"/>
<line x1="107.80" y1="370.30" x2="107.80" y2="454.80" stroke="#2a2a2a" stroke-width="1.2" />
<line x1="60.30" y1="408.80" x2="168.20" y2="408.80" stroke="#2a2a2a" stroke-width="1.2" />
<line x1="60.30" y1="454.80" x2="60.30" y2="462.30" stroke="#151515" stroke-width="1.5" />
<line x1="68.42" y1="454.80" x2="68.42" y2="458.80" stroke="#151515" stroke-width="1.5" />
<line x1="73.17" y1="454.80" x2="73.17" y2="458.80" stroke="#151515" stroke-width="1.5" />
<line x1="76.54" y1="454.80" x2="76.54" y2="458.80" stroke="#151515" stroke-width="1.5" />
<line x1="79.15" y1="454.80" x2="79.15" y2="458.80" stroke="#151515" stroke-width="1.5" />
<line x1="81.29" y1="454.80" x2="81.29" y2="458.80" stroke="#151515" stroke-width="1.5" />
<line x1="83.10" y1="454.80" x2="83.10" y2="458.80" stroke="#151515" stroke-width="1.5" />
<line x1="84.66" y1="454.80" x2="84.66" y2="458.80" stroke="#151515" stroke-width="1.5" />
<line x1="86.04" y1="454.80" x2="86.04" y2="458.80" stroke="#151515" stroke-width="1.5" />
<line x1="87.27" y1="454.80" x2="87.27" y2="462.30" stroke="#151515" stroke-width="1.5" />
<line x1="95.40" y1="454.80" x2="95.40" y2="458.80" stroke="#151515" stroke-width="1.5" />
<line x1="100.15" y1="454.80" x2="100.15" y2="458.80" stroke="#151515" stroke-width="1.5" />
<line x1="103.52" y1="454.80" x2="103.52" y2="458.80" stroke="#151515" stroke-width="1.5" />
<line x1="106.13" y1="454.80" x2="106.13" y2="458.80" stroke="#151515" stroke-width="1.5" />
<line x1="108.27" y1="454.80" x2="108.27" y2="458.80" stroke="#151515" stroke-width="1.5" />
<line x1="110.07" y1="454.80" x2="110.07" y2="458.80" stroke="#151515" stroke-width="1.5" />
<line x1="111.64" y1="454.80" x2="111.64" y2="458.80" stroke="#151515" stroke-width="1.5" />
<line x1="113.02" y1="454.80" x2="113.02" y2="458.80" stroke="#151515" stroke-width="1.5" />
<line x1="114.25" y1="454.80" x2="114.25" y2="462.30" stroke="#151515" stroke-width="1.5" />
<line x1="122.37" y1="454.80" x2="122.37" y2="458.80" stroke="#151515" stroke-width="1.5" />
<line x1="127.12" y1="454.80" x2="127.12" y2="458.80" stroke="#151515" stroke-width="1.5" />
<line x1="130.49" y1="454.80" x2="130.49" y2="458.80" stroke="#151515" stroke-width="1.5" />
<line x1="133.10" y1="454.80" x2="133.10" y2="458.80" stroke="#151515" stroke-width="1.5" />
<line x1="135.24" y1="454.80" x2="135.24" y2="458.80" stroke="#151515" stroke-width="1.5" />
<line x1="137.05" y1="454.80" x2="137.05" y2="458.80" stroke="#151515" stroke-width="1.5" />
<line x1="138.61" y1="454.80" x2="138.61" y2="458.80" stroke="#151515" stroke-width="1.5" />
<line x1="139.99" y1="454.80" x2="139.99" y2="458.80" stroke="#151515" stroke-width="1.5" />
<line x1="141.22" y1="454.80" x2="141.22" y2="462.30" stroke="#151515" stroke-width="1.5" />
<line x1="149.35" y1="454.80" x2="149.35" y2="458.80" stroke="#151515" stroke-width="1.5" />
<line x1="154.10" y1="454.80" x2="154.10" y2="458.80" stroke="#151515" stroke-width="1.5" />
<line x1="157.47" y1="454.80" x2="157.47" y2="458.80" stroke="#151515" stroke-width="1.5" />
<line x1="160.08" y1="454.80" x2="160.08" y2="458.80" stroke="#151515" stroke-width="1.5" />
<line x1="162.22" y1="454.80" x2="162.22" y2="458.80" stroke="#151515" stroke-width="1.5" />
<line x1="164.02" y1="454.80" x2="164.02" y2="458.80" stroke="#151515" stroke-width="1.5" />
<line x1="165.59" y1="454.80" x2="165.59" y2="458.80" stroke="#151515" stroke-width="1.5" />
<line x1="166.97" y1="454.80" x2="166.97" y2="458.80" stroke="#151515" stroke-width="1.5" />
<line x1="168.20" y1="454.80" x2="168.20" y2="462.30" stroke="#151515" stroke-width="1.5" />
<line x1="52.80" y1="454.80" x2="60.30" y2="454.80" stroke="#151515" stroke-width="1.5" />
<line x1="55.80" y1="448.44" x2="60.30" y2="448.44" stroke="#151515" stroke-width="1.5" />
<line x1="55.80" y1="444.72" x2="60.30" y2="444.72" stroke="#151515" stroke-width="1.5" />
<line x1="55.80" y1="442.08" x2="60.30" y2="442.08" stroke="#151515" stroke-width="1.5" />
<line x1="55.80" y1="440.03" x2="60.30" y2="440.03" stroke="#151515" stroke-width="1.5" />
<line x1="55.80" y1="438.36" x2="60.30" y2="438.36" stroke="#151515" stroke-width="1.5" />
<line x1="55.80" y1="436.95" x2="60.30" y2="436.95" stroke="#151515" stroke-width="1.5" />
<line x1="55.80" y1="435.72" x2="60.30" y2="435.72" stroke="#151515" stroke-width="1.5" />
<line x1="55.80" y1="434.64" x2="60.30" y2="434.64" stroke="#151515" stroke-width="1.5" />
<line x1="52.80" y1="433.68" x2="60.30" y2="433.68" stroke="#151515" stroke-width="1.5" />
<line x1="55.80" y1="427.32" x2="60.30" y2="427.32" stroke="#151515" stroke-width="1.5" />
<line x1="55.80" y1="423.60" x2="60.30" y2="423.60" stroke="#151515" stroke-width="1.5" />
<line x1="55.80" y1="420.96" x2="60.30" y2="420.96" stroke="#151515" stroke-width="1.5" />
<line x1="55.80" y1="418.91" x2="60.30" y2="418.91" stroke="#151515" stroke-width="1.5" />
<line x1="55.80" y1="417.24" x2="60.30" y2="417.24" stroke="#151515" stroke-width="1.5" />
<line x1="55.80" y1="415.82" x2="60.30" y2="415.82" stroke="#151515" stroke-width="1.5" />
<line x1="55.80" y1="414.60" x2="60.30" y2="414.60" stroke="#151515" stroke-width="1.5" />
<line x1="55.80" y1="413.52" x2="60.30" y2="413.52" stroke="#151515" stroke-width="1.5" />
<line x1="52.80" y1="412.55" x2="60.30" y2="412.55" stroke="#151515" stroke-width="1.5" />
<line x1="55.80" y1="406.19" x2="60.30" y2="406.19" stroke="#151515" stroke-width="1.5" />
<line x1="55.80" y1="402.47" x2="60.30" y2="402.47" stroke="#151515" stroke-width="1.5" />
<line x1="55.80" y1="399.83" x2="60.30" y2="399.83" stroke="#151515" stroke-width="1.5" />
<line x1="55.80" y1="397.78" x2="60.30" y2="397.78" stroke="#151515" stroke-width="1.5" />
<line x1="55.80" y1="396.11" x2="60.30" y2="396.11" stroke="#151515" stroke-width="1.5" />
<line x1="55.80" y1="394.70" x2="60.30" y2="394.70" stroke="#151515" stroke-width="1.5" />
<line x1="55.80" y1="393.47" x2="60.30" y2="393.47" stroke="#151515" stroke-width="1.5" />
<line x1="55.80" y1="392.39" x2="60.30" y2="392.39" stroke="#151515" stroke-width="1.5" />
<line x1="52.80" y1="391.43" x2="60.30" y2="391.43" stroke="#151515" stroke-width="1.5" />
<line x1="55.80" y1="385.07" x2="60.30" y2="385.07" stroke="#151515" stroke-width="1.5" />
<line x1="55.80" y1="381.35" x2="60.30" y2="381.35" stroke="#151515" stroke-width="1.5" />
<line x1="55.80" y1="378.71" x2="60.30" y2="378.71" stroke="#151515" stroke-width="1.5" />
<line x1="55.80" y1="376.66" x2="60.30" y2="376.66" stroke="#151515" stroke-width="1.5" />
<line x1="55.80" y1="374.99" x2="60.30" y2="374.99" stroke="#151515" stroke-width="1.5" />
<line x1="55.80" y1="373.57" x2="60.30" y2="373.57" stroke="#151515" stroke-width="1.5" />
<line x1="55.80" y1="372.35" x2="60.30" y2="372.35" stroke="#151515" stroke-width="1.5" />
<line x1="55.80" y1="371.27" x2="60.30" y2="371.27" stroke="#151515" stroke-width="1.5" />
<line x1="52.80" y1="370.30" x2="60.30" y2="370.30" stroke="#151515" stroke-width="1.5" />
<text x="60.599999999999994" y="473.7" font-size="10.2" font-weight="normal" text-anchor="middle" fill="#111" stroke="#111" stroke-width="0.5" >10<tspan dy="-4.5" font-size="7.2">0</tspan></text>
<text x="87.57499999999999" y="473.7" font-size="10.2" font-weight="normal" text-anchor="middle" fill="#111" stroke="#111" stroke-width="0.5" >10<tspan dy="-4.5" font-size="7.2">1</tspan></text>
<text x="114.55" y="473.7" font-size="10.2" font-weight="normal" text-anchor="middle" fill="#111" stroke="#111" stroke-width="0.5" >10<tspan dy="-4.5" font-size="7.2">2</tspan></text>
<text x="141.525" y="473.7" font-size="10.2" font-weight="normal" text-anchor="middle" fill="#111" stroke="#111" stroke-width="0.5" >10<tspan dy="-4.5" font-size="7.2">3</tspan></text>
<text x="168.5" y="473.7" font-size="10.2" font-weight="normal" text-anchor="middle" fill="#111" stroke="#111" stroke-width="0.5" >10<tspan dy="-4.5" font-size="7.2">4</tspan></text>
<text transform="translate(49.4,456.1) rotate(-90)" font-size="10.5" font-weight="normal" text-anchor="middle" fill="#111" stroke="#111" stroke-width="0.5" >10<tspan dy="-4.8" font-size="7.6">0</tspan></text>
<text transform="translate(49.4,437.6) rotate(-90)" font-size="10.5" font-weight="normal" text-anchor="middle" fill="#111" stroke="#111" stroke-width="0.5" >10<tspan dy="-4.8" font-size="7.6">1</tspan></text>
<text transform="translate(49.4,417.6) rotate(-90)" font-size="10.5" font-weight="normal" text-anchor="middle" fill="#111" stroke="#111" stroke-width="0.5" >10<tspan dy="-4.8" font-size="7.6">2</tspan></text>
<text transform="translate(49.4,395.7) rotate(-90)" font-size="10.5" font-weight="normal" text-anchor="middle" fill="#111" stroke="#111" stroke-width="0.5" >10<tspan dy="-4.8" font-size="7.6">3</tspan></text>
<text transform="translate(49.4,377.0) rotate(-90)" font-size="10.5" font-weight="normal" text-anchor="middle" fill="#111" stroke="#111" stroke-width="0.5" >10<tspan dy="-4.8" font-size="7.6">4</tspan></text>
<rect x="201.6" y="370" width="108.1" height="85" fill="none" stroke="#151515" stroke-width="2"/>
<line x1="250.20" y1="370.00" x2="250.20" y2="455.00" stroke="#2a2a2a" stroke-width="1.2" />
<line x1="201.60" y1="408.20" x2="309.70" y2="408.20" stroke="#2a2a2a" stroke-width="1.2" />
<line x1="201.60" y1="455.00" x2="201.60" y2="462.50" stroke="#151515" stroke-width="1.5" />
<line x1="209.74" y1="455.00" x2="209.74" y2="459.00" stroke="#151515" stroke-width="1.5" />
<line x1="214.49" y1="455.00" x2="214.49" y2="459.00" stroke="#151515" stroke-width="1.5" />
<line x1="217.87" y1="455.00" x2="217.87" y2="459.00" stroke="#151515" stroke-width="1.5" />
<line x1="220.49" y1="455.00" x2="220.49" y2="459.00" stroke="#151515" stroke-width="1.5" />
<line x1="222.63" y1="455.00" x2="222.63" y2="459.00" stroke="#151515" stroke-width="1.5" />
<line x1="224.44" y1="455.00" x2="224.44" y2="459.00" stroke="#151515" stroke-width="1.5" />
<line x1="226.01" y1="455.00" x2="226.01" y2="459.00" stroke="#151515" stroke-width="1.5" />
<line x1="227.39" y1="455.00" x2="227.39" y2="459.00" stroke="#151515" stroke-width="1.5" />
<line x1="228.62" y1="455.00" x2="228.62" y2="462.50" stroke="#151515" stroke-width="1.5" />
<line x1="236.76" y1="455.00" x2="236.76" y2="459.00" stroke="#151515" stroke-width="1.5" />
<line x1="241.52" y1="455.00" x2="241.52" y2="459.00" stroke="#151515" stroke-width="1.5" />
<line x1="244.90" y1="455.00" x2="244.90" y2="459.00" stroke="#151515" stroke-width="1.5" />
<line x1="247.51" y1="455.00" x2="247.51" y2="459.00" stroke="#151515" stroke-width="1.5" />
<line x1="249.65" y1="455.00" x2="249.65" y2="459.00" stroke="#151515" stroke-width="1.5" />
<line x1="251.46" y1="455.00" x2="251.46" y2="459.00" stroke="#151515" stroke-width="1.5" />
<line x1="253.03" y1="455.00" x2="253.03" y2="459.00" stroke="#151515" stroke-width="1.5" />
<line x1="254.41" y1="455.00" x2="254.41" y2="459.00" stroke="#151515" stroke-width="1.5" />
<line x1="255.65" y1="455.00" x2="255.65" y2="462.50" stroke="#151515" stroke-width="1.5" />
<line x1="263.79" y1="455.00" x2="263.79" y2="459.00" stroke="#151515" stroke-width="1.5" />
<line x1="268.54" y1="455.00" x2="268.54" y2="459.00" stroke="#151515" stroke-width="1.5" />
<line x1="271.92" y1="455.00" x2="271.92" y2="459.00" stroke="#151515" stroke-width="1.5" />
<line x1="274.54" y1="455.00" x2="274.54" y2="459.00" stroke="#151515" stroke-width="1.5" />
<line x1="276.68" y1="455.00" x2="276.68" y2="459.00" stroke="#151515" stroke-width="1.5" />
<line x1="278.49" y1="455.00" x2="278.49" y2="459.00" stroke="#151515" stroke-width="1.5" />
<line x1="280.06" y1="455.00" x2="280.06" y2="459.00" stroke="#151515" stroke-width="1.5" />
<line x1="281.44" y1="455.00" x2="281.44" y2="459.00" stroke="#151515" stroke-width="1.5" />
<line x1="282.67" y1="455.00" x2="282.67" y2="462.50" stroke="#151515" stroke-width="1.5" />
<line x1="290.81" y1="455.00" x2="290.81" y2="459.00" stroke="#151515" stroke-width="1.5" />
<line x1="295.57" y1="455.00" x2="295.57" y2="459.00" stroke="#151515" stroke-width="1.5" />
<line x1="298.95" y1="455.00" x2="298.95" y2="459.00" stroke="#151515" stroke-width="1.5" />
<line x1="301.56" y1="455.00" x2="301.56" y2="459.00" stroke="#151515" stroke-width="1.5" />
<line x1="303.70" y1="455.00" x2="303.70" y2="459.00" stroke="#151515" stroke-width="1.5" />
<line x1="305.51" y1="455.00" x2="305.51" y2="459.00" stroke="#151515" stroke-width="1.5" />
<line x1="307.08" y1="455.00" x2="307.08" y2="459.00" stroke="#151515" stroke-width="1.5" />
<line x1="308.46" y1="455.00" x2="308.46" y2="459.00" stroke="#151515" stroke-width="1.5" />
<line x1="309.70" y1="455.00" x2="309.70" y2="462.50" stroke="#151515" stroke-width="1.5" />
<line x1="194.10" y1="455.00" x2="201.60" y2="455.00" stroke="#151515" stroke-width="1.5" />
<line x1="197.10" y1="448.60" x2="201.60" y2="448.60" stroke="#151515" stroke-width="1.5" />
<line x1="197.10" y1="444.86" x2="201.60" y2="444.86" stroke="#151515" stroke-width="1.5" />
<line x1="197.10" y1="442.21" x2="201.60" y2="442.21" stroke="#151515" stroke-width="1.5" />
<line x1="197.10" y1="440.15" x2="201.60" y2="440.15" stroke="#151515" stroke-width="1.5" />
<line x1="197.10" y1="438.46" x2="201.60" y2="438.46" stroke="#151515" stroke-width="1.5" />
<line x1="197.10" y1="437.04" x2="201.60" y2="437.04" stroke="#151515" stroke-width="1.5" />
<line x1="197.10" y1="435.81" x2="201.60" y2="435.81" stroke="#151515" stroke-width="1.5" />
<line x1="197.10" y1="434.72" x2="201.60" y2="434.72" stroke="#151515" stroke-width="1.5" />
<line x1="194.10" y1="433.75" x2="201.60" y2="433.75" stroke="#151515" stroke-width="1.5" />
<line x1="197.10" y1="427.35" x2="201.60" y2="427.35" stroke="#151515" stroke-width="1.5" />
<line x1="197.10" y1="423.61" x2="201.60" y2="423.61" stroke="#151515" stroke-width="1.5" />
<line x1="197.10" y1="420.96" x2="201.60" y2="420.96" stroke="#151515" stroke-width="1.5" />
<line x1="197.10" y1="418.90" x2="201.60" y2="418.90" stroke="#151515" stroke-width="1.5" />
<line x1="197.10" y1="417.21" x2="201.60" y2="417.21" stroke="#151515" stroke-width="1.5" />
<line x1="197.10" y1="415.79" x2="201.60" y2="415.79" stroke="#151515" stroke-width="1.5" />
<line x1="197.10" y1="414.56" x2="201.60" y2="414.56" stroke="#151515" stroke-width="1.5" />
<line x1="197.10" y1="413.47" x2="201.60" y2="413.47" stroke="#151515" stroke-width="1.5" />
<line x1="194.10" y1="412.50" x2="201.60" y2="412.50" stroke="#151515" stroke-width="1.5" />
<line x1="197.10" y1="406.10" x2="201.60" y2="406.10" stroke="#151515" stroke-width="1.5" />
<line x1="197.10" y1="402.36" x2="201.60" y2="402.36" stroke="#151515" stroke-width="1.5" />
<line x1="197.10" y1="399.71" x2="201.60" y2="399.71" stroke="#151515" stroke-width="1.5" />
<line x1="197.10" y1="397.65" x2="201.60" y2="397.65" stroke="#151515" stroke-width="1.5" />
<line x1="197.10" y1="395.96" x2="201.60" y2="395.96" stroke="#151515" stroke-width="1.5" />
<line x1="197.10" y1="394.54" x2="201.60" y2="394.54" stroke="#151515" stroke-width="1.5" />
<line x1="197.10" y1="393.31" x2="201.60" y2="393.31" stroke="#151515" stroke-width="1.5" />
<line x1="197.10" y1="392.22" x2="201.60" y2="392.22" stroke="#151515" stroke-width="1.5" />
<line x1="194.10" y1="391.25" x2="201.60" y2="391.25" stroke="#151515" stroke-width="1.5" />
<line x1="197.10" y1="384.85" x2="201.60" y2="384.85" stroke="#151515" stroke-width="1.5" />
<line x1="197.10" y1="381.11" x2="201.60" y2="381.11" stroke="#151515" stroke-width="1.5" />
<line x1="197.10" y1="378.46" x2="201.60" y2="378.46" stroke="#151515" stroke-width="1.5" />
<line x1="197.10" y1="376.40" x2="201.60" y2="376.40" stroke="#151515" stroke-width="1.5" />
<line x1="197.10" y1="374.71" x2="201.60" y2="374.71" stroke="#151515" stroke-width="1.5" />
<line x1="197.10" y1="373.29" x2="201.60" y2="373.29" stroke="#151515" stroke-width="1.5" />
<line x1="197.10" y1="372.06" x2="201.60" y2="372.06" stroke="#151515" stroke-width="1.5" />
<line x1="197.10" y1="370.97" x2="201.60" y2="370.97" stroke="#151515" stroke-width="1.5" />
<line x1="194.10" y1="370.00" x2="201.60" y2="370.00" stroke="#151515" stroke-width="1.5" />
<text x="201.9" y="473.9" font-size="10.2" font-weight="normal" text-anchor="middle" fill="#111" stroke="#111" stroke-width="0.5" >10<tspan dy="-4.5" font-size="7.2">0</tspan></text>
<text x="228.925" y="473.9" font-size="10.2" font-weight="normal" text-anchor="middle" fill="#111" stroke="#111" stroke-width="0.5" >10<tspan dy="-4.5" font-size="7.2">1</tspan></text>
<text x="255.95" y="473.9" font-size="10.2" font-weight="normal" text-anchor="middle" fill="#111" stroke="#111" stroke-width="0.5" >10<tspan dy="-4.5" font-size="7.2">2</tspan></text>
<text x="282.97499999999997" y="473.9" font-size="10.2" font-weight="normal" text-anchor="middle" fill="#111" stroke="#111" stroke-width="0.5" >10<tspan dy="-4.5" font-size="7.2">3</tspan></text>
<text x="310.0" y="473.9" font-size="10.2" font-weight="normal" text-anchor="middle" fill="#111" stroke="#111" stroke-width="0.5" >10<tspan dy="-4.5" font-size="7.2">4</tspan></text>
<rect x="341.4" y="369.8" width="108.80000000000001" height="84.19999999999999" fill="none" stroke="#151515" stroke-width="2"/>
<line x1="389.20" y1="369.80" x2="389.20" y2="454.00" stroke="#2a2a2a" stroke-width="1.2" />
<line x1="341.40" y1="408.00" x2="450.20" y2="408.00" stroke="#2a2a2a" stroke-width="1.2" />
<line x1="341.40" y1="454.00" x2="341.40" y2="461.50" stroke="#151515" stroke-width="1.5" />
<line x1="349.59" y1="454.00" x2="349.59" y2="458.00" stroke="#151515" stroke-width="1.5" />
<line x1="354.38" y1="454.00" x2="354.38" y2="458.00" stroke="#151515" stroke-width="1.5" />
<line x1="357.78" y1="454.00" x2="357.78" y2="458.00" stroke="#151515" stroke-width="1.5" />
<line x1="360.41" y1="454.00" x2="360.41" y2="458.00" stroke="#151515" stroke-width="1.5" />
<line x1="362.57" y1="454.00" x2="362.57" y2="458.00" stroke="#151515" stroke-width="1.5" />
<line x1="364.39" y1="454.00" x2="364.39" y2="458.00" stroke="#151515" stroke-width="1.5" />
<line x1="365.96" y1="454.00" x2="365.96" y2="458.00" stroke="#151515" stroke-width="1.5" />
<line x1="367.36" y1="454.00" x2="367.36" y2="458.00" stroke="#151515" stroke-width="1.5" />
<line x1="368.60" y1="454.00" x2="368.60" y2="461.50" stroke="#151515" stroke-width="1.5" />
<line x1="376.79" y1="454.00" x2="376.79" y2="458.00" stroke="#151515" stroke-width="1.5" />
<line x1="381.58" y1="454.00" x2="381.58" y2="458.00" stroke="#151515" stroke-width="1.5" />
<line x1="384.98" y1="454.00" x2="384.98" y2="458.00" stroke="#151515" stroke-width="1.5" />
<line x1="387.61" y1="454.00" x2="387.61" y2="458.00" stroke="#151515" stroke-width="1.5" />
<line x1="389.77" y1="454.00" x2="389.77" y2="458.00" stroke="#151515" stroke-width="1.5" />
<line x1="391.59" y1="454.00" x2="391.59" y2="458.00" stroke="#151515" stroke-width="1.5" />
<line x1="393.16" y1="454.00" x2="393.16" y2="458.00" stroke="#151515" stroke-width="1.5" />
<line x1="394.56" y1="454.00" x2="394.56" y2="458.00" stroke="#151515" stroke-width="1.5" />
<line x1="395.80" y1="454.00" x2="395.80" y2="461.50" stroke="#151515" stroke-width="1.5" />
<line x1="403.99" y1="454.00" x2="403.99" y2="458.00" stroke="#151515" stroke-width="1.5" />
<line x1="408.78" y1="454.00" x2="408.78" y2="458.00" stroke="#151515" stroke-width="1.5" />
<line x1="412.18" y1="454.00" x2="412.18" y2="458.00" stroke="#151515" stroke-width="1.5" />
<line x1="414.81" y1="454.00" x2="414.81" y2="458.00" stroke="#151515" stroke-width="1.5" />
<line x1="416.97" y1="454.00" x2="416.97" y2="458.00" stroke="#151515" stroke-width="1.5" />
<line x1="418.79" y1="454.00" x2="418.79" y2="458.00" stroke="#151515" stroke-width="1.5" />
<line x1="420.36" y1="454.00" x2="420.36" y2="458.00" stroke="#151515" stroke-width="1.5" />
<line x1="421.76" y1="454.00" x2="421.76" y2="458.00" stroke="#151515" stroke-width="1.5" />
<line x1="423.00" y1="454.00" x2="423.00" y2="461.50" stroke="#151515" stroke-width="1.5" />
<line x1="431.19" y1="454.00" x2="431.19" y2="458.00" stroke="#151515" stroke-width="1.5" />
<line x1="435.98" y1="454.00" x2="435.98" y2="458.00" stroke="#151515" stroke-width="1.5" />
<line x1="439.38" y1="454.00" x2="439.38" y2="458.00" stroke="#151515" stroke-width="1.5" />
<line x1="442.01" y1="454.00" x2="442.01" y2="458.00" stroke="#151515" stroke-width="1.5" />
<line x1="444.17" y1="454.00" x2="444.17" y2="458.00" stroke="#151515" stroke-width="1.5" />
<line x1="445.99" y1="454.00" x2="445.99" y2="458.00" stroke="#151515" stroke-width="1.5" />
<line x1="447.56" y1="454.00" x2="447.56" y2="458.00" stroke="#151515" stroke-width="1.5" />
<line x1="448.96" y1="454.00" x2="448.96" y2="458.00" stroke="#151515" stroke-width="1.5" />
<line x1="450.20" y1="454.00" x2="450.20" y2="461.50" stroke="#151515" stroke-width="1.5" />
<line x1="333.90" y1="454.00" x2="341.40" y2="454.00" stroke="#151515" stroke-width="1.5" />
<line x1="336.90" y1="447.66" x2="341.40" y2="447.66" stroke="#151515" stroke-width="1.5" />
<line x1="336.90" y1="443.96" x2="341.40" y2="443.96" stroke="#151515" stroke-width="1.5" />
<line x1="336.90" y1="441.33" x2="341.40" y2="441.33" stroke="#151515" stroke-width="1.5" />
<line x1="336.90" y1="439.29" x2="341.40" y2="439.29" stroke="#151515" stroke-width="1.5" />
<line x1="336.90" y1="437.62" x2="341.40" y2="437.62" stroke="#151515" stroke-width="1.5" />
<line x1="336.90" y1="436.21" x2="341.40" y2="436.21" stroke="#151515" stroke-width="1.5" />
<line x1="336.90" y1="434.99" x2="341.40" y2="434.99" stroke="#151515" stroke-width="1.5" />
<line x1="336.90" y1="433.91" x2="341.40" y2="433.91" stroke="#151515" stroke-width="1.5" />
<line x1="333.90" y1="432.95" x2="341.40" y2="432.95" stroke="#151515" stroke-width="1.5" />
<line x1="336.90" y1="426.61" x2="341.40" y2="426.61" stroke="#151515" stroke-width="1.5" />
<line x1="336.90" y1="422.91" x2="341.40" y2="422.91" stroke="#151515" stroke-width="1.5" />
<line x1="336.90" y1="420.28" x2="341.40" y2="420.28" stroke="#151515" stroke-width="1.5" />
<line x1="336.90" y1="418.24" x2="341.40" y2="418.24" stroke="#151515" stroke-width="1.5" />
<line x1="336.90" y1="416.57" x2="341.40" y2="416.57" stroke="#151515" stroke-width="1.5" />
<line x1="336.90" y1="415.16" x2="341.40" y2="415.16" stroke="#151515" stroke-width="1.5" />
<line x1="336.90" y1="413.94" x2="341.40" y2="413.94" stroke="#151515" stroke-width="1.5" />
<line x1="336.90" y1="412.86" x2="341.40" y2="412.86" stroke="#151515" stroke-width="1.5" />
<line x1="333.90" y1="411.90" x2="341.40" y2="411.90" stroke="#151515" stroke-width="1.5" />
<line x1="336.90" y1="405.56" x2="341.40" y2="405.56" stroke="#151515" stroke-width="1.5" />
<line x1="336.90" y1="401.86" x2="341.40" y2="401.86" stroke="#151515" stroke-width="1.5" />
<line x1="336.90" y1="399.23" x2="341.40" y2="399.23" stroke="#151515" stroke-width="1.5" />
<line x1="336.90" y1="397.19" x2="341.40" y2="397.19" stroke="#151515" stroke-width="1.5" />
<line x1="336.90" y1="395.52" x2="341.40" y2="395.52" stroke="#151515" stroke-width="1.5" />
<line x1="336.90" y1="394.11" x2="341.40" y2="394.11" stroke="#151515" stroke-width="1.5" />
<line x1="336.90" y1="392.89" x2="341.40" y2="392.89" stroke="#151515" stroke-width="1.5" />
<line x1="336.90" y1="391.81" x2="341.40" y2="391.81" stroke="#151515" stroke-width="1.5" />
<line x1="333.90" y1="390.85" x2="341.40" y2="390.85" stroke="#151515" stroke-width="1.5" />
<line x1="336.90" y1="384.51" x2="341.40" y2="384.51" stroke="#151515" stroke-width="1.5" />
<line x1="336.90" y1="380.81" x2="341.40" y2="380.81" stroke="#151515" stroke-width="1.5" />
<line x1="336.90" y1="378.18" x2="341.40" y2="378.18" stroke="#151515" stroke-width="1.5" />
<line x1="336.90" y1="376.14" x2="341.40" y2="376.14" stroke="#151515" stroke-width="1.5" />
<line x1="336.90" y1="374.47" x2="341.40" y2="374.47" stroke="#151515" stroke-width="1.5" />
<line x1="336.90" y1="373.06" x2="341.40" y2="373.06" stroke="#151515" stroke-width="1.5" />
<line x1="336.90" y1="371.84" x2="341.40" y2="371.84" stroke="#151515" stroke-width="1.5" />
<line x1="336.90" y1="370.76" x2="341.40" y2="370.76" stroke="#151515" stroke-width="1.5" />
<line x1="333.90" y1="369.80" x2="341.40" y2="369.80" stroke="#151515" stroke-width="1.5" />
<text x="341.7" y="472.9" font-size="10.2" font-weight="normal" text-anchor="middle" fill="#111" stroke="#111" stroke-width="0.5" >10<tspan dy="-4.5" font-size="7.2">0</tspan></text>
<text x="368.9" y="472.9" font-size="10.2" font-weight="normal" text-anchor="middle" fill="#111" stroke="#111" stroke-width="0.5" >10<tspan dy="-4.5" font-size="7.2">1</tspan></text>
<text x="396.09999999999997" y="472.9" font-size="10.2" font-weight="normal" text-anchor="middle" fill="#111" stroke="#111" stroke-width="0.5" >10<tspan dy="-4.5" font-size="7.2">2</tspan></text>
<text x="423.3" y="472.9" font-size="10.2" font-weight="normal" text-anchor="middle" fill="#111" stroke="#111" stroke-width="0.5" >10<tspan dy="-4.5" font-size="7.2">3</tspan></text>
<text x="450.5" y="472.9" font-size="10.2" font-weight="normal" text-anchor="middle" fill="#111" stroke="#111" stroke-width="0.5" >10<tspan dy="-4.5" font-size="7.2">4</tspan></text>
<text x="63.3" y="224.9" font-size="14.5" font-weight="bold" text-anchor="start" fill="#111" stroke="#111" stroke-width="0.6" textLength="101.8" lengthAdjust="spacingAndGlyphs" >d14, WBC 8.5 K</text>
<text x="199.3" y="224.6" font-size="14.5" font-weight="bold" text-anchor="start" fill="#111" stroke="#111" stroke-width="0.6" textLength="114.6" lengthAdjust="spacingAndGlyphs" >d17, WBC 146.6 K</text>
<text x="342.9" y="224.6" font-size="14.5" font-weight="bold" text-anchor="start" fill="#111" stroke="#111" stroke-width="0.6" textLength="105" lengthAdjust="spacingAndGlyphs" >d20, WBC 79.8 K</text>
<path d="M27.8 218.3L33.8 240.0L21.8 240.0Z" fill="#151515"/>
<line x1="27.80" y1="239.20" x2="27.80" y2="249.80" stroke="#151515" stroke-width="2.5" />
<text transform="translate(29.8,332.6) rotate(-90)" font-size="16.5" font-weight="bold" text-anchor="start" fill="#111" stroke="#111" stroke-width="0.6" textLength="74.39999999999998" lengthAdjust="spacingAndGlyphs" >(β2Micro)</text>
<text transform="translate(22.4,258.40000000000003) rotate(-90)" font-size="13" font-weight="bold" text-anchor="start" fill="#111" stroke="#111" stroke-width="0.6" >b</text>
<path d="M27 333V340.7H207.4" fill="none" stroke="#151515" stroke-width="2.5"/>
<line x1="257.70" y1="340.70" x2="439.20" y2="340.70" stroke="#151515" stroke-width="2.5" />
<path d="M459.8 340.7L438.2 335.3L438.2 346.09999999999997Z" fill="#151515"/>
<text x="216.9" y="348.0" font-size="15.5" font-weight="bold" text-anchor="start" fill="#111" stroke="#111" stroke-width="0.6" textLength="32.29999999999998" lengthAdjust="spacingAndGlyphs" >GFP</text>
<path d="M27.8 362.5L33.8 384.8L21.8 384.8Z" fill="#151515"/>
<line x1="27.80" y1="384.00" x2="27.80" y2="392.40" stroke="#151515" stroke-width="2.5" />
<text transform="translate(29.8,474.6) rotate(-90)" font-size="16.5" font-weight="bold" text-anchor="start" fill="#111" stroke="#111" stroke-width="0.6" textLength="73" lengthAdjust="spacingAndGlyphs" >(β2Micro)</text>
<text transform="translate(22.4,401.8) rotate(-90)" font-size="13" font-weight="bold" text-anchor="start" fill="#111" stroke="#111" stroke-width="0.6" >b</text>
<path d="M27 477.3V487.8H211.3" fill="none" stroke="#151515" stroke-width="2.5"/>
<line x1="261.50" y1="487.80" x2="440.40" y2="487.80" stroke="#151515" stroke-width="2.5" />
<path d="M461 487.8L439.4 482.0L439.4 493.6Z" fill="#151515"/>
<text x="220.8" y="495.1" font-size="15.5" font-weight="bold" text-anchor="start" fill="#111" stroke="#111" stroke-width="0.6" textLength="33.0" lengthAdjust="spacingAndGlyphs" >GFP</text>
<line x1="73.50" y1="536.30" x2="73.50" y2="657.80" stroke="#151515" stroke-width="2.4" />
<line x1="72.50" y1="656.80" x2="256.70" y2="656.80" stroke="#151515" stroke-width="2.2" />
<line x1="68.30" y1="656.80" x2="73.50" y2="656.80" stroke="#151515" stroke-width="1.8" />
<text x="66.5" y="662.8" font-size="15.3" font-weight="bold" text-anchor="end" fill="#111" stroke="#111" stroke-width="0.6" textLength="7.0" lengthAdjust="spacingAndGlyphs" >0</text>
<line x1="68.30" y1="632.86" x2="73.50" y2="632.86" stroke="#151515" stroke-width="1.8" />
<text x="66.5" y="638.8599999999999" font-size="15.3" font-weight="bold" text-anchor="end" fill="#111" stroke="#111" stroke-width="0.6" textLength="14.0" lengthAdjust="spacingAndGlyphs" >20</text>
<line x1="68.30" y1="608.92" x2="73.50" y2="608.92" stroke="#151515" stroke-width="1.8" />
<text x="66.5" y="614.92" font-size="15.3" font-weight="bold" text-anchor="end" fill="#111" stroke="#111" stroke-width="0.6" textLength="14.0" lengthAdjust="spacingAndGlyphs" >40</text>
<line x1="68.30" y1="584.98" x2="73.50" y2="584.98" stroke="#151515" stroke-width="1.8" />
<text x="66.5" y="590.9799999999999" font-size="15.3" font-weight="bold" text-anchor="end" fill="#111" stroke="#111" stroke-width="0.6" textLength="14.0" lengthAdjust="spacingAndGlyphs" >60</text>
<line x1="68.30" y1="561.04" x2="73.50" y2="561.04" stroke="#151515" stroke-width="1.8" />
<text x="66.5" y="567.04" font-size="15.3" font-weight="bold" text-anchor="end" fill="#111" stroke="#111" stroke-width="0.6" textLength="14.0" lengthAdjust="spacingAndGlyphs" >80</text>
<line x1="68.30" y1="537.10" x2="73.50" y2="537.10" stroke="#151515" stroke-width="1.8" />
<text x="66.5" y="543.0999999999999" font-size="15.3" font-weight="bold" text-anchor="end" fill="#111" stroke="#111" stroke-width="0.6" textLength="21.0" lengthAdjust="spacingAndGlyphs" >100</text>
<line x1="73.50" y1="656.80" x2="73.50" y2="662.30" stroke="#151515" stroke-width="2.0" />
<text x="73.5" y="674.6" font-size="14.8" font-weight="bold" text-anchor="middle" fill="#111" stroke="#111" stroke-width="0.6" textLength="8" lengthAdjust="spacingAndGlyphs" >0</text>
<line x1="103.39" y1="656.80" x2="103.39" y2="662.30" stroke="#151515" stroke-width="2.0" />
<text x="103.39" y="674.6" font-size="14.8" font-weight="bold" text-anchor="middle" fill="#111" stroke="#111" stroke-width="0.6" textLength="8" lengthAdjust="spacingAndGlyphs" >7</text>
<line x1="133.28" y1="656.80" x2="133.28" y2="662.30" stroke="#151515" stroke-width="2.0" />
<text x="133.28" y="674.6" font-size="14.8" font-weight="bold" text-anchor="middle" fill="#111" stroke="#111" stroke-width="0.6" textLength="15.6" lengthAdjust="spacingAndGlyphs" >14</text>
<line x1="163.17" y1="656.80" x2="163.17" y2="662.30" stroke="#151515" stroke-width="2.0" />
<text x="163.17" y="674.6" font-size="14.8" font-weight="bold" text-anchor="middle" fill="#111" stroke="#111" stroke-width="0.6" textLength="15.6" lengthAdjust="spacingAndGlyphs" >21</text>
<line x1="193.06" y1="656.80" x2="193.06" y2="662.30" stroke="#151515" stroke-width="2.0" />
<text x="193.06" y="674.6" font-size="14.8" font-weight="bold" text-anchor="middle" fill="#111" stroke="#111" stroke-width="0.6" textLength="15.6" lengthAdjust="spacingAndGlyphs" >28</text>
<line x1="222.95" y1="656.80" x2="222.95" y2="662.30" stroke="#151515" stroke-width="2.0" />
<text x="222.95" y="674.6" font-size="14.8" font-weight="bold" text-anchor="middle" fill="#111" stroke="#111" stroke-width="0.6" textLength="15.6" lengthAdjust="spacingAndGlyphs" >35</text>
<line x1="252.84" y1="656.80" x2="252.84" y2="662.30" stroke="#151515" stroke-width="2.0" />
<text x="252.83999999999997" y="674.6" font-size="14.8" font-weight="bold" text-anchor="middle" fill="#111" stroke="#111" stroke-width="0.6" textLength="15.6" lengthAdjust="spacingAndGlyphs" >42</text>
<text transform="translate(38.2,603.4) rotate(-90)" font-size="17.8" font-weight="bold" text-anchor="middle" fill="#111" stroke="#111" stroke-width="0.6" textLength="160.5" lengthAdjust="spacingAndGlyphs" >Leukemic mort. (%)</text>
<text x="165" y="697" font-size="17.6" font-weight="bold" text-anchor="middle" fill="#111" stroke="#111" stroke-width="0.6" textLength="125.2" lengthAdjust="spacingAndGlyphs" >Days after BMT</text>
<line x1="327.50" y1="534.40" x2="327.50" y2="657.30" stroke="#151515" stroke-width="2.4" />
<line x1="326.50" y1="656.30" x2="507.00" y2="656.30" stroke="#151515" stroke-width="2.2" />
<line x1="322.30" y1="655.30" x2="327.50" y2="655.30" stroke="#151515" stroke-width="1.8" />
<text x="320.5" y="661.3" font-size="15.3" font-weight="bold" text-anchor="end" fill="#111" stroke="#111" stroke-width="0.6" textLength="7.0" lengthAdjust="spacingAndGlyphs" >0</text>
<line x1="322.30" y1="631.30" x2="327.50" y2="631.30" stroke="#151515" stroke-width="1.8" />
<text x="320.5" y="637.3" font-size="15.3" font-weight="bold" text-anchor="end" fill="#111" stroke="#111" stroke-width="0.6" textLength="14.0" lengthAdjust="spacingAndGlyphs" >20</text>
<line x1="322.30" y1="607.30" x2="327.50" y2="607.30" stroke="#151515" stroke-width="1.8" />
<text x="320.5" y="613.3" font-size="15.3" font-weight="bold" text-anchor="end" fill="#111" stroke="#111" stroke-width="0.6" textLength="14.0" lengthAdjust="spacingAndGlyphs" >40</text>
<line x1="322.30" y1="583.30" x2="327.50" y2="583.30" stroke="#151515" stroke-width="1.8" />
<text x="320.5" y="589.3" font-size="15.3" font-weight="bold" text-anchor="end" fill="#111" stroke="#111" stroke-width="0.6" textLength="14.0" lengthAdjust="spacingAndGlyphs" >60</text>
<line x1="322.30" y1="559.30" x2="327.50" y2="559.30" stroke="#151515" stroke-width="1.8" />
<text x="320.5" y="565.3" font-size="15.3" font-weight="bold" text-anchor="end" fill="#111" stroke="#111" stroke-width="0.6" textLength="14.0" lengthAdjust="spacingAndGlyphs" >80</text>
<line x1="322.30" y1="535.30" x2="327.50" y2="535.30" stroke="#151515" stroke-width="1.8" />
<text x="320.5" y="541.3" font-size="15.3" font-weight="bold" text-anchor="end" fill="#111" stroke="#111" stroke-width="0.6" textLength="21.0" lengthAdjust="spacingAndGlyphs" >100</text>
<line x1="327.30" y1="656.30" x2="327.30" y2="661.80" stroke="#151515" stroke-width="2.0" />
<text x="327.3" y="674.6" font-size="14.8" font-weight="bold" text-anchor="middle" fill="#111" stroke="#111" stroke-width="0.6" textLength="8" lengthAdjust="spacingAndGlyphs" >0</text>
<line x1="356.81" y1="656.30" x2="356.81" y2="661.80" stroke="#151515" stroke-width="2.0" />
<text x="356.805" y="674.6" font-size="14.8" font-weight="bold" text-anchor="middle" fill="#111" stroke="#111" stroke-width="0.6" textLength="8" lengthAdjust="spacingAndGlyphs" >7</text>
<line x1="386.31" y1="656.30" x2="386.31" y2="661.80" stroke="#151515" stroke-width="2.0" />
<text x="386.31" y="674.6" font-size="14.8" font-weight="bold" text-anchor="middle" fill="#111" stroke="#111" stroke-width="0.6" textLength="15.6" lengthAdjust="spacingAndGlyphs" >14</text>
<line x1="415.81" y1="656.30" x2="415.81" y2="661.80" stroke="#151515" stroke-width="2.0" />
<text x="415.815" y="674.6" font-size="14.8" font-weight="bold" text-anchor="middle" fill="#111" stroke="#111" stroke-width="0.6" textLength="15.6" lengthAdjust="spacingAndGlyphs" >21</text>
<line x1="445.32" y1="656.30" x2="445.32" y2="661.80" stroke="#151515" stroke-width="2.0" />
<text x="445.32" y="674.6" font-size="14.8" font-weight="bold" text-anchor="middle" fill="#111" stroke="#111" stroke-width="0.6" textLength="15.6" lengthAdjust="spacingAndGlyphs" >28</text>
<line x1="474.83" y1="656.30" x2="474.83" y2="661.80" stroke="#151515" stroke-width="2.0" />
<text x="474.82500000000005" y="674.6" font-size="14.8" font-weight="bold" text-anchor="middle" fill="#111" stroke="#111" stroke-width="0.6" textLength="15.6" lengthAdjust="spacingAndGlyphs" >35</text>
<line x1="504.33" y1="656.30" x2="504.33" y2="661.80" stroke="#151515" stroke-width="2.0" />
<text x="504.33000000000004" y="674.6" font-size="14.8" font-weight="bold" text-anchor="middle" fill="#111" stroke="#111" stroke-width="0.6" textLength="15.6" lengthAdjust="spacingAndGlyphs" >42</text>
<text transform="translate(292.7,594.4) rotate(-90)" font-size="17.5" font-weight="bold" text-anchor="middle" fill="#111" stroke="#111" stroke-width="0.6" textLength="160" lengthAdjust="spacingAndGlyphs" >Overall survival (%)</text>
<text x="419" y="697" font-size="17.6" font-weight="bold" text-anchor="middle" fill="#111" stroke="#111" stroke-width="0.6" textLength="125.2" lengthAdjust="spacingAndGlyphs" >Days after BMT</text>
<defs><pattern id="hatch" width="4" height="4" patternUnits="userSpaceOnUse">
<rect width="4" height="4" fill="#bdbdbd"/><rect width="1" height="1" fill="#2a2a2a"/><rect x="2" y="1" width="1" height="1" fill="#3a3a3a"/><rect x="1" y="2" width="1" height="1" fill="#505050"/><rect x="3" y="3" width="1" height="1" fill="#333"/><rect x="3" y="0" width="1" height="1" fill="#808080"/><rect x="0" y="3" width="1" height="1" fill="#777"/><rect x="2" y="2" width="1" height="1" fill="#999"/></pattern></defs>
<path d="M75.0 645.8 L156.3 645.8 L156.3 534.2" fill="none" stroke="url(#hatch)" stroke-width="4.2" stroke-linejoin="miter"/>
<path d="M75.0 653.8 L172.7 653.8 L172.7 639.2 L179.0 639.2 L179.0 621.8 L255.5 621.8" fill="none" stroke="#ee2d63" stroke-width="4.6" stroke-linejoin="miter"/>
<path d="M75.0 650.2 L145.6 650.2 L145.6 638.4 L150.0 638.4 L150.0 621.5 L154.5 621.5 L154.5 587.9 L159.8 587.9 L159.8 570.2 L164.2 570.2 L164.2 552.5 L189.9 552.5 L189.9 534.0" fill="none" stroke="#141650" stroke-width="5" stroke-linejoin="miter"/>
<path d="M75.0 650.2 L145.6 650.2 L145.6 638.4 L150.0 638.4 L150.0 621.5 L154.5 621.5 L154.5 587.9 L159.8 587.9 L159.8 570.2 L164.2 570.2 L164.2 552.5 L189.9 552.5 L189.9 534.0" fill="none" stroke="#2f3db0" stroke-width="1.8" stroke-linejoin="miter"/>
<path d="M329.0 543.4 L406.0 543.4 L406.0 560.0 L409.0 560.0 L409.0 655.0" fill="none" stroke="url(#hatch)" stroke-width="4.2" stroke-linejoin="miter"/>
<path d="M329.0 538.8 L400.2 538.8 L400.2 553.9 L404.5 553.9 L404.5 569.2 L409.6 569.2 L409.6 594.8 L411.3 594.8 L411.3 604.1 L413.9 604.1 L413.9 621.2 L418.1 621.2 L418.1 638.2 L444.2 638.2 L444.2 655.0" fill="none" stroke="#141650" stroke-width="5" stroke-linejoin="miter"/>
<path d="M329.0 538.8 L400.2 538.8 L400.2 553.9 L404.5 553.9 L404.5 569.2 L409.6 569.2 L409.6 594.8 L411.3 594.8 L411.3 604.1 L413.9 604.1 L413.9 621.2 L418.1 621.2 L418.1 638.2 L444.2 638.2 L444.2 655.0" fill="none" stroke="#2f3db0" stroke-width="1.8" stroke-linejoin="miter"/>
<path d="M329.0 534.7 L431.8 534.7 L431.8 552.2 L437.7 552.2 L437.7 586.5 L469.8 586.5 L469.8 621.8 L486.2 621.8 L486.2 638.3 L502.4 638.3 L502.4 655.0" fill="none" stroke="#ee2d63" stroke-width="4.6" stroke-linejoin="miter"/>
<rect x="170.9" y="716.1" width="28.2" height="3.8" fill="url(#hatch)" stroke="#222" stroke-width="1"/>
<rect x="170.4" y="732.9" width="29.2" height="4.8" fill="#141650"/><rect x="171.5" y="734.6" width="27" height="1.4" fill="#2f3db0"/>
<rect x="170.4" y="749.2" width="29.2" height="4.8" fill="#ee2d63"/>
<text x="207.6" y="722.3" font-size="14.5" font-weight="bold" text-anchor="start" fill="#111" stroke="#111" stroke-width="0.6" textLength="164.4" lengthAdjust="spacingAndGlyphs" >miHA-mismatch, no DLI</text>
<text x="207.6" y="738.9" font-size="14.5" font-weight="bold" text-anchor="start" fill="#111" stroke="#111" stroke-width="0.6" textLength="155.1" lengthAdjust="spacingAndGlyphs" >miHA-mismatch, +DLI</text>
<text x="209.7" y="755.9" font-size="14.5" font-weight="bold" text-anchor="start" fill="#111" stroke="#111" stroke-width="0.6" textLength="146.8" lengthAdjust="spacingAndGlyphs" >MHC-mismatch, +DLI</text>
</svg></body></html>
